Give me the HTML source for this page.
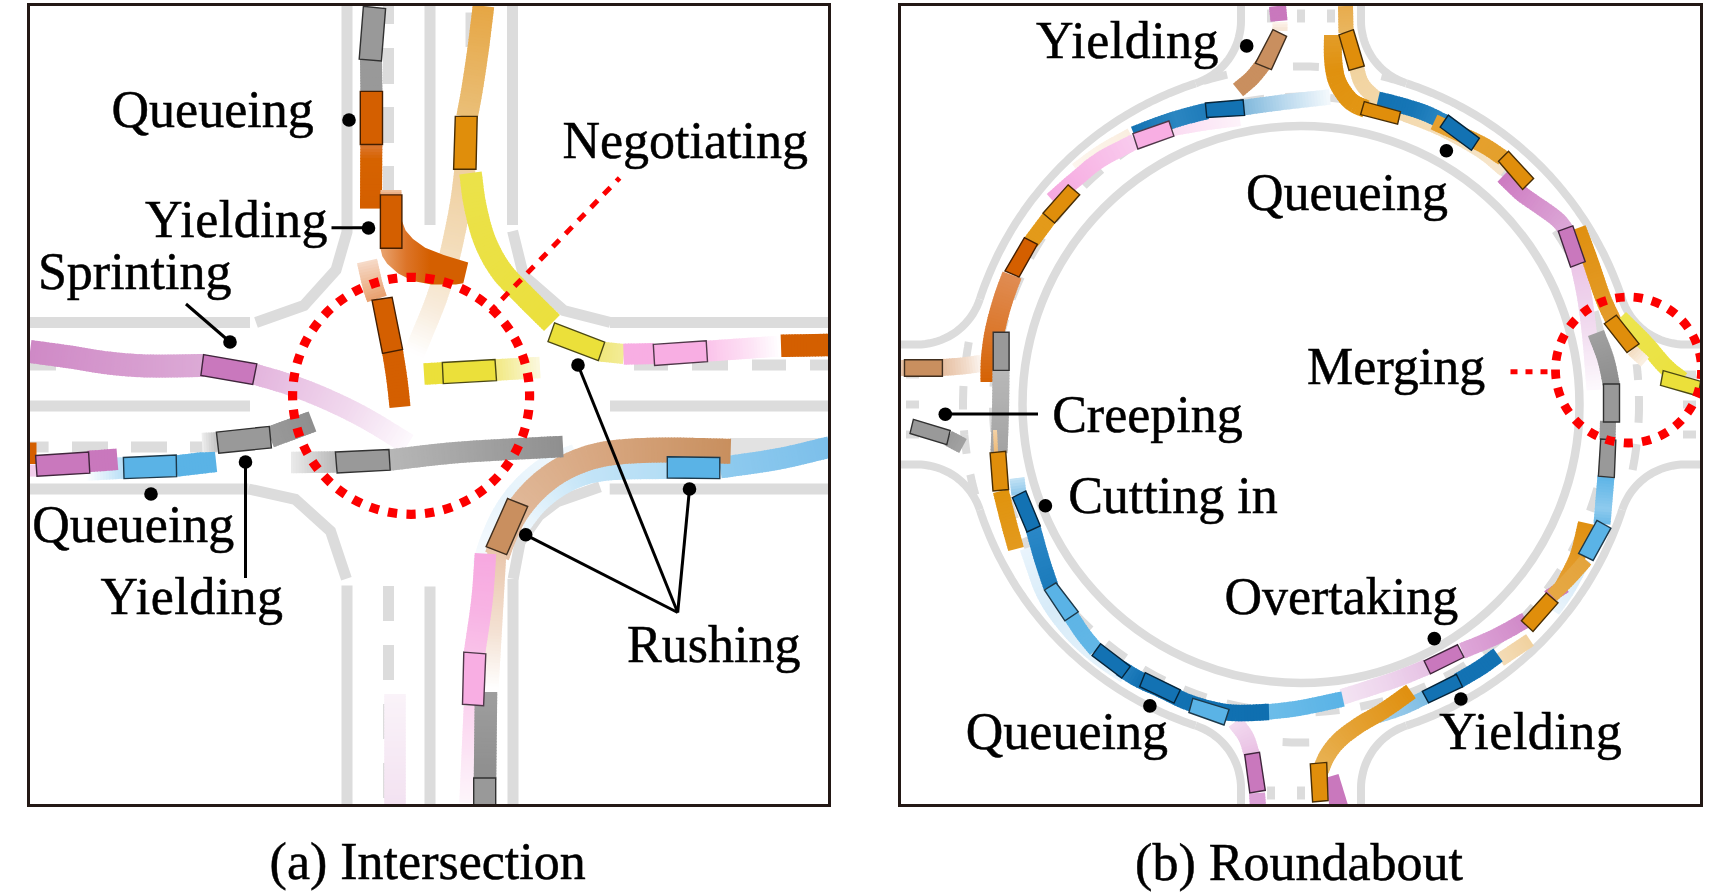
<!DOCTYPE html><html><head><meta charset="utf-8"><style>html,body{margin:0;padding:0;background:#fff;overflow:hidden;}svg{display:block;}text{font-family:"Liberation Serif", serif;font-size:52px;fill:#000;stroke:#000;stroke-width:0.5px;}</style></head><body>
<svg width="1732" height="896" viewBox="0 0 1732 896">
<rect width="1732" height="896" fill="#fff"/>
<defs><clipPath id="cl"><rect x="30" y="6" width="798" height="798"/></clipPath><clipPath id="cr"><rect x="901" y="6" width="799" height="798"/></clipPath></defs>
<g clip-path="url(#cl)"><g stroke="#dcdcdc" stroke-width="11" fill="none" stroke-linecap="butt" stroke-linejoin="miter"><path d="M347 6L347 226"/><path d="M347 229 L347 232 L336 270 L304 305.5 L256 322.5"/><path d="M388.5 6L388.5 24"/><path d="M388.5 48L388.5 84"/><path d="M388.5 107L388.5 143"/><path d="M388.5 166L388.5 202"/><path d="M430 6L430 225"/><path d="M471 12.5L471 47"/><path d="M471 71L471 106"/><path d="M471 130L471 165"/><path d="M471 189L471 224"/><path d="M512.5 6L512.5 225"/><path d="M512.6 231 L523.5 275.4 L563.7 310.5 L610.5 322.5"/><path d="M610 322.5L829 322.5"/><path d="M634 365L668 365"/><path d="M692 365L728 365"/><path d="M752 365L786 365"/><path d="M810 365L829 365"/><path d="M610 406L829 406"/><path d="M609.7 489L829 489"/><path d="M513.2 578.8 L520.1 542 L538.6 516 L557 501.8 L600 486.7"/><path d="M30 322.5L250 322.5"/><path d="M30 365L56 365"/><path d="M30 406L250 406"/><path d="M30 447L48.6 447"/><path d="M72 447L108 447"/><path d="M131 447L167 447"/><path d="M190 447L226 447"/><path d="M30 489L248.5 489"/><path d="M248.5 489 L295.3 499.3 L330.5 531.1 L346.4 578.8"/><path d="M347 585.5L347 805"/><path d="M388.5 586L388.5 621"/><path d="M388.5 645L388.5 680"/><path d="M388.5 704L388.5 739"/><path d="M388.5 763L388.5 798"/><path d="M430 586.5L430 805"/><path d="M513 578.8L513 805"/></g><g fill="none" stroke-width="21.5" stroke-linecap="butt"><path d="M395.0 694.0L395.0 697.2" stroke="#faf3f9"/><path d="M395.0 696.2L395.0 700.2" stroke="#faf2f9"/><path d="M395.0 699.2L395.0 703.2" stroke="#faf2f8"/><path d="M395.0 702.2L395.0 706.2" stroke="#f9f1f8"/><path d="M395.0 705.2L395.0 709.2" stroke="#f9f1f8"/><path d="M395.0 708.2L395.0 712.2" stroke="#f9f0f8"/><path d="M395.0 711.2L395.0 715.2" stroke="#f9f0f8"/><path d="M395.0 714.2L395.0 718.2" stroke="#f9f0f7"/><path d="M395.0 717.2L395.0 721.2" stroke="#f8eff7"/><path d="M395.0 720.2L395.0 724.2" stroke="#f8eff7"/><path d="M395.0 723.2L395.0 727.2" stroke="#f8eef7"/><path d="M395.0 726.2L395.0 730.2" stroke="#f8eef7"/><path d="M395.0 729.2L395.0 733.2" stroke="#f8edf6"/><path d="M395.0 732.2L395.0 736.2" stroke="#f7edf6"/><path d="M395.0 735.2L395.0 739.2" stroke="#f7ecf6"/><path d="M395.0 738.2L395.0 742.2" stroke="#f7ecf6"/><path d="M395.0 741.2L395.0 745.2" stroke="#f7ebf5"/><path d="M395.0 744.2L395.0 748.2" stroke="#f7ebf5"/><path d="M395.0 747.2L395.0 751.2" stroke="#f6eaf5"/><path d="M395.0 750.2L395.0 754.2" stroke="#f6eaf5"/><path d="M395.0 753.2L395.0 757.2" stroke="#f6eaf5"/><path d="M395.0 756.2L395.0 760.2" stroke="#f6e9f4"/><path d="M395.0 759.2L395.0 763.2" stroke="#f6e9f4"/><path d="M395.0 762.2L395.0 766.2" stroke="#f6e8f4"/><path d="M395.0 765.2L395.0 769.2" stroke="#f5e8f4"/><path d="M395.0 768.2L395.0 772.2" stroke="#f5e7f3"/><path d="M395.0 771.2L395.0 775.2" stroke="#f5e7f3"/><path d="M395.0 774.2L395.0 778.2" stroke="#f5e6f3"/><path d="M395.0 777.2L395.0 781.2" stroke="#f5e6f3"/><path d="M395.0 780.2L395.0 784.2" stroke="#f4e5f3"/><path d="M395.0 783.2L395.0 787.2" stroke="#f4e5f2"/><path d="M395.0 786.2L395.0 790.2" stroke="#f4e5f2"/><path d="M395.0 789.2L395.0 793.2" stroke="#f4e4f2"/><path d="M395.0 792.2L395.0 796.2" stroke="#f4e4f2"/><path d="M395.0 795.2L395.0 799.2" stroke="#f3e3f2"/><path d="M395.0 798.2L395.0 802.2" stroke="#f3e3f1"/><path d="M395.0 801.2L395.0 805.0" stroke="#f3e2f1"/></g>
<g fill="none" stroke-width="16" stroke-linecap="butt"><path d="M575.0 452.0L572.0 453.2" stroke="#f3f9fd"/><path d="M573.0 452.8L569.2 454.2" stroke="#f2f9fd"/><path d="M570.1 453.8L566.3 455.2" stroke="#f2f8fd"/><path d="M567.3 454.8L563.5 456.1" stroke="#f1f8fd"/><path d="M564.5 455.8L560.7 457.2" stroke="#f1f8fd"/><path d="M561.6 456.8L557.9 458.2" stroke="#f0f8fd"/><path d="M558.8 457.8L555.1 459.4" stroke="#f0f8fc"/><path d="M556.0 458.9L552.4 460.6" stroke="#eff7fc"/><path d="M553.3 460.2L549.7 462.0" stroke="#eff7fc"/><path d="M550.6 461.5L547.1 463.5" stroke="#eef7fc"/><path d="M548.0 463.0L544.6 465.1" stroke="#eef7fc"/><path d="M545.5 464.6L542.1 466.8" stroke="#edf6fc"/><path d="M543.0 466.2L539.7 468.6" stroke="#edf6fc"/><path d="M540.5 468.0L537.3 470.4" stroke="#ecf6fc"/><path d="M538.1 469.8L534.9 472.3" stroke="#ecf6fc"/><path d="M535.7 471.6L532.6 474.2" stroke="#ebf5fc"/><path d="M533.4 473.5L530.4 476.1" stroke="#ebf5fc"/><path d="M531.1 475.4L528.1 478.1" stroke="#eaf5fc"/><path d="M528.9 477.4L525.9 480.2" stroke="#eaf5fc"/><path d="M526.7 479.4L523.8 482.2" stroke="#e9f4fc"/><path d="M524.5 481.5L521.6 484.4" stroke="#e9f4fb"/><path d="M522.4 483.6L519.6 486.5" stroke="#e8f4fb"/><path d="M520.3 485.8L517.6 488.8" stroke="#e8f4fb"/><path d="M518.3 488.0L515.6 491.0" stroke="#e7f4fb"/><path d="M516.3 490.2L513.7 493.3" stroke="#e7f3fb"/><path d="M514.3 492.5L511.8 495.7" stroke="#e6f3fb"/><path d="M512.5 494.9L510.0 498.1" stroke="#e6f3fb"/><path d="M510.6 497.2L508.3 500.5" stroke="#e7f3fb"/><path d="M508.9 499.7L506.5 503.0" stroke="#e8f4fb"/><path d="M507.1 502.1L504.9 505.5" stroke="#e8f4fb"/><path d="M505.4 504.6L503.2 508.0" stroke="#e9f4fc"/><path d="M503.8 507.1L501.7 510.5" stroke="#eaf5fc"/><path d="M502.2 509.6L500.2 513.1" stroke="#eaf5fc"/><path d="M500.7 512.2L498.7 515.8" stroke="#ebf5fc"/><path d="M499.2 514.8L497.4 518.4" stroke="#ecf6fc"/><path d="M497.8 517.5L496.1 521.1" stroke="#edf6fc"/><path d="M496.5 520.2L494.8 523.8" stroke="#edf6fc"/><path d="M495.2 522.9L493.5 526.6" stroke="#eef7fc"/><path d="M494.0 525.6L492.4 529.3" stroke="#eff7fc"/><path d="M492.8 528.4L491.2 532.1" stroke="#eff7fd"/><path d="M491.6 531.1L490.0 534.9" stroke="#f0f7fd"/><path d="M490.4 533.9L488.9 537.6" stroke="#f1f8fd"/><path d="M489.3 536.7L487.8 540.4" stroke="#f1f8fd"/><path d="M488.2 539.5L486.8 543.2" stroke="#f2f8fd"/><path d="M487.1 542.3L485.8 546.1" stroke="#f3f9fd"/><path d="M486.1 545.1L484.9 548.9" stroke="#f4f9fd"/><path d="M485.2 547.9L484.0 551.8" stroke="#f4f9fd"/><path d="M484.3 550.8L483.2 554.7" stroke="#f5fafd"/><path d="M483.5 553.7L482.4 557.6" stroke="#f6fafe"/><path d="M482.7 556.6L481.6 560.5" stroke="#f6fafe"/><path d="M481.9 559.5L480.8 563.4" stroke="#f7fbfe"/><path d="M481.1 562.4L480.0 566.0" stroke="#f8fbfe"/></g>
<g fill="none" stroke-width="18" stroke-linecap="butt"><path d="M667.0 470.0L663.8 470.0" stroke="#b3ddf5"/><path d="M664.8 470.0L660.8 470.1" stroke="#b4ddf5"/><path d="M661.8 470.0L657.8 470.1" stroke="#b4def5"/><path d="M658.9 470.1L654.8 470.1" stroke="#b5def5"/><path d="M655.9 470.1L651.9 470.1" stroke="#b6def5"/><path d="M652.9 470.1L648.9 470.1" stroke="#b6def5"/><path d="M649.9 470.1L645.9 470.1" stroke="#b7dff5"/><path d="M646.9 470.1L642.9 470.1" stroke="#b7dff6"/><path d="M643.9 470.1L639.9 470.2" stroke="#b8dff6"/><path d="M641.0 470.2L636.9 470.2" stroke="#b9dff6"/><path d="M638.0 470.2L634.0 470.2" stroke="#b9e0f6"/><path d="M635.0 470.2L631.0 470.3" stroke="#bae0f6"/><path d="M632.0 470.3L628.0 470.4" stroke="#bae0f6"/><path d="M629.0 470.4L625.0 470.5" stroke="#bbe0f6"/><path d="M626.1 470.5L622.0 470.6" stroke="#bbe1f6"/><path d="M623.1 470.6L619.1 470.8" stroke="#bce1f6"/><path d="M620.1 470.7L616.1 470.9" stroke="#bde1f6"/><path d="M617.1 470.9L613.1 471.1" stroke="#bde1f6"/><path d="M614.1 471.0L610.1 471.3" stroke="#bee2f6"/><path d="M611.2 471.2L607.2 471.6" stroke="#bee2f6"/><path d="M608.2 471.5L604.2 471.9" stroke="#bfe2f6"/><path d="M605.2 471.8L601.2 472.3" stroke="#c0e2f7"/><path d="M602.3 472.1L598.3 472.8" stroke="#c0e3f7"/><path d="M599.3 472.6L595.4 473.3" stroke="#c1e3f7"/><path d="M596.4 473.1L592.5 473.9" stroke="#c1e3f7"/><path d="M593.5 473.7L589.6 474.6" stroke="#c2e3f7"/><path d="M590.6 474.4L586.7 475.4" stroke="#c2e4f7"/><path d="M587.7 475.1L583.8 476.3" stroke="#c3e4f7"/><path d="M584.8 476.0L581.0 477.2" stroke="#c5e5f7"/><path d="M582.0 476.9L578.2 478.3" stroke="#c6e5f7"/><path d="M579.2 477.9L575.4 479.4" stroke="#c8e6f8"/><path d="M576.4 479.0L572.7 480.6" stroke="#c9e7f8"/><path d="M573.6 480.1L570.0 481.8" stroke="#cbe7f8"/><path d="M570.9 481.4L567.3 483.2" stroke="#cce8f8"/><path d="M568.3 482.7L564.7 484.6" stroke="#cee9f9"/><path d="M565.6 484.1L562.1 486.1" stroke="#d0eaf9"/><path d="M563.0 485.5L559.6 487.6" stroke="#d1eaf9"/><path d="M560.5 487.1L557.1 489.2" stroke="#d3ebf9"/><path d="M557.9 488.7L554.6 490.9" stroke="#d4ecf9"/><path d="M555.4 490.3L552.2 492.6" stroke="#d6ecfa"/><path d="M553.0 492.0L549.8 494.4" stroke="#d7edfa"/><path d="M550.6 493.8L547.4 496.2" stroke="#d9eefa"/><path d="M548.2 495.6L545.2 498.2" stroke="#daeefa"/><path d="M545.9 497.5L542.9 500.1" stroke="#dceffa"/><path d="M543.7 499.4L540.7 502.2" stroke="#def0fb"/><path d="M541.5 501.5L538.6 504.3" stroke="#dff0fb"/><path d="M539.4 503.5L536.5 506.4" stroke="#e1f1fb"/><path d="M537.3 505.7L534.5 508.6" stroke="#e2f2fb"/><path d="M535.2 507.8L532.6 510.9" stroke="#e4f3fc"/><path d="M533.3 510.1L530.8 513.2" stroke="#e5f3fc"/><path d="M531.4 512.4L529.0 515.6" stroke="#e7f4fc"/><path d="M529.6 514.8L527.2 518.0" stroke="#e9f5fc"/><path d="M527.8 517.2L525.4 520.4" stroke="#eaf5fc"/><path d="M526.1 519.6L523.7 522.8" stroke="#ecf6fd"/><path d="M524.3 522.0L522.0 525.0" stroke="#edf7fd"/></g>
<path d="M730 446.5L830 446.5" stroke="#e2e2e2" stroke-width="17"/>
<g fill="none" stroke-width="21.5" stroke-linecap="butt"><path d="M720.0 467.7L723.2 467.2" stroke="#8fcbef"/><path d="M722.1 467.4L726.1 466.8" stroke="#8ecbef"/><path d="M725.0 467.0L729.0 466.4" stroke="#8ecaef"/><path d="M728.0 466.5L731.9 466.0" stroke="#8dcaef"/><path d="M730.9 466.1L734.8 465.6" stroke="#8dcaee"/><path d="M733.8 465.7L737.7 465.2" stroke="#8cc9ee"/><path d="M736.7 465.3L740.7 464.8" stroke="#8cc9ee"/><path d="M739.6 464.9L743.6 464.4" stroke="#8bc9ee"/><path d="M742.6 464.5L746.5 464.0" stroke="#8bc8ee"/><path d="M745.5 464.1L749.4 463.5" stroke="#8ac8ee"/><path d="M748.4 463.7L752.3 463.1" stroke="#8ac8ee"/><path d="M751.3 463.3L755.3 462.7" stroke="#89c7ed"/><path d="M754.2 462.9L758.2 462.3" stroke="#89c7ed"/><path d="M757.2 462.4L761.1 461.8" stroke="#88c7ed"/><path d="M760.1 462.0L764.0 461.4" stroke="#88c6ed"/><path d="M763.0 461.6L766.9 460.9" stroke="#87c6ed"/><path d="M765.9 461.1L769.8 460.4" stroke="#87c6ed"/><path d="M768.8 460.6L772.7 459.9" stroke="#86c5ed"/><path d="M771.7 460.1L775.6 459.4" stroke="#86c5ed"/><path d="M774.6 459.6L778.5 458.9" stroke="#85c5ec"/><path d="M777.5 459.1L781.4 458.3" stroke="#85c5ec"/><path d="M780.4 458.5L784.3 457.8" stroke="#84c4ec"/><path d="M783.3 458.0L787.2 457.1" stroke="#84c4ec"/><path d="M786.2 457.4L790.1 456.5" stroke="#83c4ec"/><path d="M789.1 456.7L793.0 455.9" stroke="#83c3ec"/><path d="M792.0 456.1L795.8 455.2" stroke="#82c3ec"/><path d="M794.8 455.5L798.7 454.6" stroke="#82c3ec"/><path d="M797.7 454.8L801.6 453.9" stroke="#81c2eb"/><path d="M800.6 454.1L804.4 453.2" stroke="#81c2eb"/><path d="M803.4 453.4L807.3 452.5" stroke="#80c2eb"/><path d="M806.3 452.7L810.2 451.8" stroke="#80c1eb"/><path d="M809.2 452.0L813.0 451.1" stroke="#7fc1eb"/><path d="M812.0 451.3L815.9 450.4" stroke="#7fc1eb"/><path d="M814.9 450.6L818.8 449.7" stroke="#7ec0eb"/><path d="M817.8 449.9L821.6 449.0" stroke="#7ec0ea"/><path d="M820.6 449.2L824.5 448.3" stroke="#7dc0ea"/><path d="M823.5 448.5L827.4 447.6" stroke="#7dbfea"/><path d="M826.4 447.9L830.0 447.0" stroke="#7cbfea"/></g>
<g fill="none" stroke-width="25" stroke-linecap="butt"><path d="M730.7 451.3L727.5 451.2" stroke="#c88f5e"/><path d="M728.5 451.3L724.5 451.2" stroke="#c9905f"/><path d="M725.5 451.2L721.5 451.1" stroke="#c99060"/><path d="M722.6 451.1L718.5 451.0" stroke="#c99161"/><path d="M719.6 451.0L715.6 450.9" stroke="#ca9161"/><path d="M716.6 451.0L712.6 450.8" stroke="#ca9262"/><path d="M713.6 450.9L709.6 450.8" stroke="#ca9263"/><path d="M710.6 450.8L706.6 450.7" stroke="#cb9364"/><path d="M707.7 450.7L703.7 450.6" stroke="#cb9465"/><path d="M704.7 450.6L700.7 450.5" stroke="#cb9465"/><path d="M701.7 450.6L697.7 450.4" stroke="#cc9566"/><path d="M698.7 450.5L694.7 450.4" stroke="#cc9567"/><path d="M695.8 450.4L691.7 450.3" stroke="#cc9668"/><path d="M692.8 450.3L688.8 450.2" stroke="#cd9668"/><path d="M689.8 450.3L685.8 450.2" stroke="#cd9769"/><path d="M686.8 450.2L682.8 450.1" stroke="#cd976a"/><path d="M683.8 450.1L679.8 450.1" stroke="#ce986b"/><path d="M680.9 450.1L676.8 450.0" stroke="#ce986c"/><path d="M677.9 450.0L673.9 450.0" stroke="#ce996c"/><path d="M674.9 450.0L670.9 450.0" stroke="#cf996d"/><path d="M671.9 450.0L667.9 450.0" stroke="#cf9a6e"/><path d="M668.9 450.0L664.9 450.0" stroke="#d09b6f"/><path d="M666.0 450.0L661.9 450.0" stroke="#d09b6f"/><path d="M663.0 450.0L659.0 450.1" stroke="#d09c70"/><path d="M660.0 450.1L656.0 450.1" stroke="#d19c71"/><path d="M657.0 450.1L653.0 450.2" stroke="#d19d72"/><path d="M654.0 450.1L650.0 450.2" stroke="#d19d72"/><path d="M651.1 450.2L647.1 450.3" stroke="#d29e73"/><path d="M648.1 450.3L644.1 450.4" stroke="#d29e74"/><path d="M645.1 450.4L641.1 450.5" stroke="#d29f75"/><path d="M642.1 450.5L638.1 450.7" stroke="#d39f76"/><path d="M639.2 450.6L635.1 450.8" stroke="#d3a076"/><path d="M636.2 450.8L632.2 451.0" stroke="#d3a077"/><path d="M633.2 450.9L629.2 451.2" stroke="#d4a178"/><path d="M630.2 451.1L626.2 451.4" stroke="#d4a279"/><path d="M627.3 451.3L623.3 451.6" stroke="#d4a279"/><path d="M624.3 451.6L620.3 451.9" stroke="#d5a37a"/><path d="M621.3 451.8L617.3 452.2" stroke="#d5a37b"/><path d="M618.4 452.1L614.4 452.5" stroke="#d6a47c"/><path d="M615.4 452.4L611.4 452.9" stroke="#d6a47c"/><path d="M612.4 452.7L608.5 453.3" stroke="#d6a57d"/><path d="M609.5 453.1L605.5 453.8" stroke="#d7a57e"/><path d="M606.5 453.6L602.6 454.3" stroke="#d7a67f"/><path d="M603.6 454.1L599.7 454.9" stroke="#d7a680"/><path d="M600.7 454.7L596.8 455.6" stroke="#d7a780"/><path d="M597.8 455.3L593.9 456.3" stroke="#d8a781"/><path d="M594.9 456.0L591.0 457.1" stroke="#d8a882"/><path d="M592.0 456.8L588.1 457.9" stroke="#d8a882"/><path d="M589.1 457.6L585.3 458.9" stroke="#d9a983"/><path d="M586.3 458.5L582.5 459.9" stroke="#d9a984"/><path d="M583.5 459.5L579.7 460.9" stroke="#d9aa85"/><path d="M580.7 460.5L576.9 462.0" stroke="#d9aa85"/><path d="M577.9 461.6L574.2 463.1" stroke="#daab86"/><path d="M575.1 462.7L571.5 464.4" stroke="#daab87"/><path d="M572.4 463.9L568.8 465.6" stroke="#daac87"/><path d="M569.7 465.2L566.1 467.0" stroke="#daad88"/><path d="M567.0 466.5L563.5 468.4" stroke="#dbad89"/><path d="M564.4 467.8L560.9 469.8" stroke="#dbae8a"/><path d="M561.8 469.3L558.3 471.4" stroke="#dbae8a"/><path d="M559.2 470.8L555.8 473.0" stroke="#dcaf8b"/><path d="M556.7 472.4L553.3 474.6" stroke="#dcaf8c"/><path d="M554.2 474.0L550.9 476.3" stroke="#dcb08d"/><path d="M551.7 475.7L548.5 478.1" stroke="#dcb08d"/><path d="M549.3 477.5L546.1 479.9" stroke="#ddb18e"/><path d="M546.9 479.3L543.8 481.8" stroke="#ddb18f"/><path d="M544.6 481.1L541.5 483.7" stroke="#ddb28f"/><path d="M542.3 483.0L539.3 485.6" stroke="#ddb290"/><path d="M540.0 484.9L537.1 487.6" stroke="#deb391"/><path d="M537.8 486.9L534.9 489.7" stroke="#deb392"/><path d="M535.7 489.0L532.8 491.8" stroke="#deb492"/><path d="M533.5 491.1L530.8 494.0" stroke="#dfb493"/><path d="M531.5 493.2L528.7 496.2" stroke="#dfb594"/><path d="M529.4 495.4L526.8 498.4" stroke="#dfb594"/><path d="M527.5 497.6L524.9 500.7" stroke="#dfb695"/><path d="M525.5 499.9L523.0 503.0" stroke="#e0b696"/><path d="M523.6 502.2L521.2 505.4" stroke="#e0b797"/><path d="M521.8 504.5L519.4 507.8" stroke="#e0b797"/><path d="M520.0 506.9L517.7 510.2" stroke="#e0b898"/><path d="M518.3 509.3L516.1 512.7" stroke="#e1b999"/><path d="M516.6 511.8L514.5 515.2" stroke="#e1b99a"/><path d="M515.0 514.3L513.0 517.8" stroke="#e1ba9b"/><path d="M513.5 516.9L511.5 520.4" stroke="#e2ba9c"/><path d="M512.0 519.5L510.2 523.1" stroke="#e2bb9d"/><path d="M510.6 522.1L508.9 525.7" stroke="#e2bc9e"/><path d="M509.3 524.8L507.7 528.5" stroke="#e3bc9f"/><path d="M508.1 527.5L506.5 531.2" stroke="#e3bda0"/><path d="M506.9 530.2L505.3 533.9" stroke="#e3bea0"/><path d="M505.7 533.0L504.1 536.7" stroke="#e4bea1"/><path d="M504.5 535.7L503.0 539.4" stroke="#e4bfa2"/><path d="M503.4 538.4L501.9 542.2" stroke="#e4c0a3"/><path d="M502.3 541.2L500.9 545.0" stroke="#e5c0a4"/><path d="M501.2 544.0L499.9 547.8" stroke="#e5c1a5"/><path d="M500.2 546.8L498.9 550.6" stroke="#e5c1a6"/><path d="M499.3 549.6L497.9 553.4" stroke="#e6c2a7"/><path d="M498.3 552.4L497.0 556.0" stroke="#e6c3a8"/></g>
<g fill="none" stroke-width="19" stroke-linecap="butt"><path d="M497.0 550.0L496.8 553.2" stroke="#e9c6ac"/><path d="M496.9 552.2L496.6 556.2" stroke="#eac7ad"/><path d="M496.7 555.2L496.5 559.2" stroke="#eac8af"/><path d="M496.5 558.1L496.3 562.2" stroke="#eac9b0"/><path d="M496.4 561.1L496.1 565.1" stroke="#ebcab2"/><path d="M496.2 564.1L496.0 568.1" stroke="#ebcbb3"/><path d="M496.0 567.1L495.8 571.1" stroke="#ecccb4"/><path d="M495.9 570.1L495.6 574.1" stroke="#eccdb6"/><path d="M495.7 573.0L495.5 577.0" stroke="#ecceb7"/><path d="M495.5 576.0L495.3 580.0" stroke="#edcfb9"/><path d="M495.3 579.0L495.1 583.0" stroke="#edd0ba"/><path d="M495.2 582.0L494.9 586.0" stroke="#edd1bc"/><path d="M495.0 584.9L494.8 589.0" stroke="#eed2bd"/><path d="M494.8 587.9L494.6 591.9" stroke="#eed3bf"/><path d="M494.7 590.9L494.4 594.9" stroke="#efd4c0"/><path d="M494.5 593.9L494.3 597.9" stroke="#efd5c2"/><path d="M494.3 596.9L494.1 600.9" stroke="#efd6c3"/><path d="M494.2 599.8L493.9 603.9" stroke="#f0d7c4"/><path d="M494.0 602.8L493.8 606.8" stroke="#f0d8c6"/><path d="M493.8 605.8L493.6 609.8" stroke="#f1d9c7"/><path d="M493.6 608.8L493.4 612.8" stroke="#f1dac9"/><path d="M493.5 611.8L493.2 615.8" stroke="#f1dbca"/><path d="M493.3 614.7L493.1 618.8" stroke="#f2dccc"/><path d="M493.1 617.7L492.9 621.7" stroke="#f2ddcd"/><path d="M493.0 620.7L492.7 624.7" stroke="#f3decf"/><path d="M492.8 623.7L492.6 627.7" stroke="#f3dfd0"/><path d="M492.6 626.6L492.4 630.7" stroke="#f3e0d2"/><path d="M492.4 629.6L492.2 633.6" stroke="#f4e1d3"/><path d="M492.3 632.6L492.1 636.6" stroke="#f4e2d5"/><path d="M492.1 635.6L491.9 639.6" stroke="#f5e4d7"/><path d="M491.9 638.6L491.7 642.6" stroke="#f5e6d9"/><path d="M491.8 641.5L491.5 645.6" stroke="#f6e7dc"/><path d="M491.6 644.5L491.4 648.5" stroke="#f7e9de"/><path d="M491.4 647.5L491.2 651.5" stroke="#f7eae0"/><path d="M491.3 650.5L491.0 654.5" stroke="#f8ece2"/><path d="M491.1 653.5L490.9 657.5" stroke="#f8ede5"/><path d="M490.9 656.4L490.7 660.5" stroke="#f9efe7"/><path d="M490.7 659.4L490.5 663.4" stroke="#f9f0e9"/><path d="M490.6 662.4L490.3 666.4" stroke="#faf2ec"/><path d="M490.4 665.4L490.2 669.4" stroke="#fbf3ee"/><path d="M490.2 668.4L490.0 672.4" stroke="#fbf5f0"/><path d="M490.1 671.3L489.8 675.3" stroke="#fcf7f2"/><path d="M489.9 674.3L489.7 678.3" stroke="#fcf8f5"/><path d="M489.7 677.3L489.5 681.3" stroke="#fdfaf7"/><path d="M489.6 680.3L489.3 684.3" stroke="#fefbf9"/><path d="M489.4 683.2L489.2 687.3" stroke="#fefdfc"/><path d="M489.2 686.2L489.0 690.0" stroke="#fffefe"/></g>
<g fill="none" stroke-width="21.5" stroke-linecap="butt"><path d="M485.5 553.6L485.3 556.8" stroke="#f7a8e0"/><path d="M485.3 555.7L485.1 559.7" stroke="#f7a9e0"/><path d="M485.1 558.7L484.9 562.6" stroke="#f7a9e0"/><path d="M484.9 561.6L484.7 565.6" stroke="#f7aae1"/><path d="M484.8 564.5L484.5 568.5" stroke="#f7abe1"/><path d="M484.6 567.5L484.3 571.5" stroke="#f7abe1"/><path d="M484.4 570.4L484.1 574.4" stroke="#f7ace1"/><path d="M484.2 573.4L483.9 577.3" stroke="#f7ace1"/><path d="M484.0 576.3L483.7 580.3" stroke="#f7ade2"/><path d="M483.8 579.2L483.5 583.2" stroke="#f7aee2"/><path d="M483.6 582.2L483.3 586.1" stroke="#f8aee2"/><path d="M483.4 585.1L483.1 589.1" stroke="#f8afe2"/><path d="M483.1 588.0L482.8 592.0" stroke="#f8afe2"/><path d="M482.9 591.0L482.5 594.9" stroke="#f8b0e3"/><path d="M482.6 593.9L482.2 597.9" stroke="#f8b1e3"/><path d="M482.3 596.8L481.9 600.8" stroke="#f8b1e3"/><path d="M482.0 599.8L481.6 603.7" stroke="#f8b2e3"/><path d="M481.7 602.7L481.2 606.6" stroke="#f8b2e3"/><path d="M481.3 605.6L480.8 609.6" stroke="#f8b3e4"/><path d="M481.0 608.5L480.4 612.5" stroke="#f8b3e4"/><path d="M480.6 611.4L480.0 615.4" stroke="#f8b4e4"/><path d="M480.2 614.4L479.6 618.3" stroke="#f8b5e4"/><path d="M479.8 617.3L479.2 621.2" stroke="#f8b6e5"/><path d="M479.4 620.2L478.8 624.1" stroke="#f8b7e5"/><path d="M478.9 623.1L478.4 627.0" stroke="#f8b8e6"/><path d="M478.5 626.0L477.9 629.9" stroke="#f8b9e6"/><path d="M478.1 628.9L477.5 632.9" stroke="#f8bae6"/><path d="M477.6 631.8L477.0 635.8" stroke="#f9bbe7"/><path d="M477.2 634.7L476.6 638.7" stroke="#f9bce7"/><path d="M476.8 637.7L476.2 641.6" stroke="#f9bde7"/><path d="M476.3 640.6L475.7 644.5" stroke="#f9bee8"/><path d="M475.9 643.5L475.3 647.4" stroke="#f9bfe8"/><path d="M475.5 646.4L474.9 650.3" stroke="#f9c0e8"/><path d="M475.0 649.3L474.5 653.0" stroke="#f9c1e9"/></g>
<g fill="none" stroke-width="17.5" stroke-linecap="butt"><path d="M472.5 706.0L472.4 709.2" stroke="#fbd4ef"/><path d="M472.4 708.1L472.2 712.1" stroke="#fbd5f0"/><path d="M472.3 711.1L472.1 715.1" stroke="#fbd6f0"/><path d="M472.1 714.0L471.9 718.0" stroke="#fbd7f0"/><path d="M472.0 717.0L471.8 720.9" stroke="#fbd8f1"/><path d="M471.9 719.9L471.7 723.9" stroke="#fbd9f1"/><path d="M471.7 722.8L471.5 726.8" stroke="#fbdaf1"/><path d="M471.6 725.8L471.4 729.8" stroke="#fbdbf2"/><path d="M471.4 728.7L471.3 732.7" stroke="#fcdcf2"/><path d="M471.3 731.7L471.1 735.6" stroke="#fcddf2"/><path d="M471.2 734.6L471.0 738.6" stroke="#fcdef3"/><path d="M471.0 737.5L470.9 741.5" stroke="#fcdff3"/><path d="M470.9 740.5L470.7 744.5" stroke="#fce0f4"/><path d="M470.8 743.4L470.6 747.4" stroke="#fce1f4"/><path d="M470.6 746.4L470.4 750.3" stroke="#fce2f4"/><path d="M470.5 749.3L470.3 753.3" stroke="#fce3f5"/><path d="M470.4 752.2L470.2 756.2" stroke="#fce4f5"/><path d="M470.2 755.2L470.0 759.1" stroke="#fce6f5"/><path d="M470.1 758.1L469.9 762.1" stroke="#fce7f6"/><path d="M470.0 761.0L469.8 765.0" stroke="#fce8f6"/><path d="M469.8 764.0L469.6 768.0" stroke="#fce9f6"/><path d="M469.7 766.9L469.5 770.9" stroke="#fceaf7"/><path d="M469.5 769.9L469.4 773.8" stroke="#fcebf7"/><path d="M469.4 772.8L469.2 776.8" stroke="#fcecf8"/><path d="M469.3 775.7L469.1 779.7" stroke="#fcedf8"/><path d="M469.1 778.7L468.9 782.7" stroke="#fdeef8"/><path d="M469.0 781.6L468.8 785.6" stroke="#fdeff9"/><path d="M468.9 784.6L468.7 788.5" stroke="#fdf0f9"/><path d="M468.7 787.5L468.5 791.5" stroke="#fdf1f9"/><path d="M468.6 790.4L468.4 794.4" stroke="#fdf2fa"/><path d="M468.4 793.4L468.3 797.4" stroke="#fdf3fa"/><path d="M468.3 796.3L468.1 800.3" stroke="#fdf4fa"/><path d="M468.2 799.3L468.0 803.0" stroke="#fdf5fb"/></g>
<g fill="none" stroke-width="22.5" stroke-linecap="butt"><path d="M486.0 692.0L486.0 695.2" stroke="#9e9e9e"/><path d="M486.0 694.1L485.9 698.1" stroke="#9d9d9d"/><path d="M485.9 697.1L485.9 701.0" stroke="#9d9d9d"/><path d="M485.9 700.0L485.9 704.0" stroke="#9c9c9c"/><path d="M485.9 702.9L485.8 706.9" stroke="#9c9c9c"/><path d="M485.8 705.9L485.8 709.8" stroke="#9b9b9b"/><path d="M485.8 708.8L485.8 712.8" stroke="#9b9b9b"/><path d="M485.8 711.7L485.7 715.7" stroke="#9a9a9a"/><path d="M485.7 714.7L485.7 718.6" stroke="#999999"/><path d="M485.7 717.6L485.7 721.6" stroke="#999999"/><path d="M485.7 720.5L485.6 724.5" stroke="#989898"/><path d="M485.6 723.5L485.6 727.4" stroke="#989898"/><path d="M485.6 726.4L485.6 730.4" stroke="#979797"/><path d="M485.6 729.3L485.5 733.3" stroke="#979797"/><path d="M485.5 732.3L485.5 736.2" stroke="#969696"/><path d="M485.5 735.2L485.5 739.2" stroke="#969696"/><path d="M485.5 738.1L485.4 742.1" stroke="#959595"/><path d="M485.4 741.1L485.4 745.0" stroke="#959595"/><path d="M485.4 744.0L485.4 748.0" stroke="#949494"/><path d="M485.4 746.9L485.3 750.9" stroke="#949494"/><path d="M485.3 749.9L485.3 753.8" stroke="#939393"/><path d="M485.3 752.8L485.3 756.8" stroke="#939393"/><path d="M485.3 755.7L485.2 759.7" stroke="#929292"/><path d="M485.2 758.7L485.2 762.6" stroke="#919191"/><path d="M485.2 761.6L485.2 765.6" stroke="#919191"/><path d="M485.2 764.5L485.1 768.5" stroke="#909090"/><path d="M485.1 767.5L485.1 771.4" stroke="#909090"/><path d="M485.1 770.4L485.1 774.4" stroke="#8f8f8f"/><path d="M485.1 773.3L485.0 777.3" stroke="#8f8f8f"/><path d="M485.0 776.3L485.0 780.0" stroke="#8e8e8e"/></g>
<g fill="none" stroke-width="23" stroke-linecap="butt"><path d="M30.0 351.5L33.2 351.9" stroke="#cf89c6"/><path d="M32.1 351.8L36.1 352.3" stroke="#cf8ac6"/><path d="M35.1 352.2L39.1 352.7" stroke="#d08ac7"/><path d="M38.0 352.6L42.0 353.1" stroke="#d08bc7"/><path d="M41.0 353.0L44.9 353.5" stroke="#d08cc7"/><path d="M43.9 353.4L47.9 353.9" stroke="#d08cc7"/><path d="M46.8 353.8L50.8 354.3" stroke="#d08dc8"/><path d="M49.8 354.2L53.8 354.7" stroke="#d18dc8"/><path d="M52.7 354.6L56.7 355.1" stroke="#d18ec8"/><path d="M55.7 355.0L59.6 355.5" stroke="#d18ec9"/><path d="M58.6 355.4L62.6 355.9" stroke="#d18fc9"/><path d="M61.5 355.8L65.5 356.3" stroke="#d28fc9"/><path d="M64.5 356.2L68.4 356.8" stroke="#d290c9"/><path d="M67.4 356.6L71.4 357.2" stroke="#d291ca"/><path d="M70.3 357.0L74.3 357.7" stroke="#d291ca"/><path d="M73.3 357.5L77.2 358.1" stroke="#d292ca"/><path d="M76.2 358.0L80.2 358.6" stroke="#d392ca"/><path d="M79.1 358.5L83.1 359.1" stroke="#d393cb"/><path d="M82.1 359.0L86.0 359.6" stroke="#d393cb"/><path d="M85.0 359.5L88.9 360.1" stroke="#d394cb"/><path d="M87.9 360.0L91.8 360.6" stroke="#d494cc"/><path d="M90.8 360.5L94.8 361.1" stroke="#d495cc"/><path d="M93.7 361.0L97.7 361.6" stroke="#d496cc"/><path d="M96.7 361.4L100.6 362.0" stroke="#d496cc"/><path d="M99.6 361.9L103.6 362.4" stroke="#d497cd"/><path d="M102.5 362.3L106.5 362.8" stroke="#d597cd"/><path d="M105.5 362.7L109.5 363.2" stroke="#d598cd"/><path d="M108.4 363.0L112.4 363.5" stroke="#d598cd"/><path d="M111.4 363.4L115.4 363.8" stroke="#d599ce"/><path d="M114.3 363.7L118.3 364.1" stroke="#d69ace"/><path d="M117.3 364.0L121.3 364.4" stroke="#d69ace"/><path d="M120.2 364.3L124.2 364.7" stroke="#d69bcf"/><path d="M123.2 364.6L127.2 364.9" stroke="#d69bcf"/><path d="M126.1 364.8L130.1 365.2" stroke="#d69ccf"/><path d="M129.1 365.1L133.1 365.3" stroke="#d79ccf"/><path d="M132.0 365.3L136.0 365.5" stroke="#d79dd0"/><path d="M135.0 365.5L139.0 365.7" stroke="#d79dd0"/><path d="M138.0 365.6L142.0 365.8" stroke="#d79ed0"/><path d="M140.9 365.8L144.9 365.9" stroke="#d79fd0"/><path d="M143.9 365.9L147.9 366.0" stroke="#d89fd1"/><path d="M146.9 366.0L150.9 366.1" stroke="#d8a0d1"/><path d="M149.8 366.0L153.8 366.1" stroke="#d8a0d1"/><path d="M152.8 366.1L156.8 366.1" stroke="#d8a1d2"/><path d="M155.8 366.1L159.8 366.1" stroke="#d9a1d2"/><path d="M158.7 366.1L162.7 366.1" stroke="#d9a2d2"/><path d="M161.7 366.1L165.7 366.1" stroke="#d9a2d2"/><path d="M164.6 366.1L168.7 366.1" stroke="#d9a3d3"/><path d="M167.6 366.1L171.6 366.0" stroke="#d9a4d3"/><path d="M170.6 366.0L174.6 366.0" stroke="#daa4d3"/><path d="M173.5 366.0L177.6 365.9" stroke="#daa5d3"/><path d="M176.5 365.9L180.5 365.9" stroke="#daa5d4"/><path d="M179.5 365.9L183.5 365.8" stroke="#daa6d4"/><path d="M182.4 365.8L186.4 365.8" stroke="#dba6d4"/><path d="M185.4 365.8L189.4 365.7" stroke="#dba7d5"/><path d="M188.4 365.7L192.4 365.7" stroke="#dba7d5"/><path d="M191.3 365.7L195.3 365.6" stroke="#dba8d5"/><path d="M194.3 365.6L198.3 365.6" stroke="#dba9d5"/><path d="M197.3 365.6L201.3 365.5" stroke="#dca9d6"/><path d="M200.2 365.5L204.0 365.5" stroke="#dcaad6"/></g>
<g fill="none" stroke-width="21" stroke-linecap="butt"><path d="M254.0 374.0L257.1 374.9" stroke="#e3b5dd"/><path d="M256.1 374.6L260.0 375.7" stroke="#e4b6de"/><path d="M259.0 375.5L262.8 376.6" stroke="#e4b7de"/><path d="M261.8 376.3L265.7 377.4" stroke="#e4b8df"/><path d="M264.7 377.1L268.6 378.2" stroke="#e5b9df"/><path d="M267.6 377.9L271.4 379.0" stroke="#e5bae0"/><path d="M270.4 378.7L274.3 379.9" stroke="#e6bbe0"/><path d="M273.3 379.6L277.1 380.7" stroke="#e6bce1"/><path d="M276.1 380.4L280.0 381.6" stroke="#e6bde1"/><path d="M279.0 381.3L282.8 382.5" stroke="#e7bee2"/><path d="M281.8 382.1L285.7 383.4" stroke="#e7bfe2"/><path d="M284.7 383.1L288.5 384.3" stroke="#e8c0e3"/><path d="M287.5 384.0L291.3 385.3" stroke="#e8c2e3"/><path d="M290.3 385.0L294.1 386.3" stroke="#e9c3e4"/><path d="M293.2 385.9L296.9 387.3" stroke="#e9c4e4"/><path d="M296.0 386.9L299.7 388.3" stroke="#e9c5e5"/><path d="M298.8 388.0L302.5 389.4" stroke="#eac6e5"/><path d="M301.6 389.0L305.3 390.4" stroke="#eac7e6"/><path d="M304.4 390.0L308.1 391.5" stroke="#ebc8e6"/><path d="M307.1 391.1L310.9 392.6" stroke="#ebc9e7"/><path d="M309.9 392.2L313.6 393.7" stroke="#ebcae7"/><path d="M312.7 393.3L316.4 394.8" stroke="#eccbe8"/><path d="M315.4 394.4L319.2 396.0" stroke="#eccce8"/><path d="M318.2 395.6L321.9 397.1" stroke="#edcde9"/><path d="M320.9 396.7L324.6 398.3" stroke="#edcfe9"/><path d="M323.7 397.9L327.4 399.5" stroke="#edd0ea"/><path d="M326.4 399.1L330.1 400.8" stroke="#eed1ea"/><path d="M329.1 400.3L332.8 402.0" stroke="#eed2eb"/><path d="M331.9 401.6L335.5 403.2" stroke="#efd3eb"/><path d="M334.6 402.8L338.2 404.5" stroke="#efd4ec"/><path d="M337.3 404.0L340.9 405.8" stroke="#efd5ec"/><path d="M340.0 405.3L343.6 407.0" stroke="#f0d6ed"/><path d="M342.7 406.6L346.3 408.3" stroke="#f0d7ed"/><path d="M345.4 407.9L349.0 409.7" stroke="#f1d8ee"/><path d="M348.0 409.2L351.6 411.0" stroke="#f1d9ee"/><path d="M350.7 410.5L354.3 412.3" stroke="#f2dbef"/><path d="M353.4 411.9L356.9 413.7" stroke="#f2dcf0"/><path d="M356.0 413.2L359.6 415.1" stroke="#f3def0"/><path d="M358.7 414.6L362.2 416.5" stroke="#f3dff1"/><path d="M361.3 416.0L364.8 417.9" stroke="#f4e0f1"/><path d="M363.9 417.4L367.4 419.4" stroke="#f4e2f2"/><path d="M366.5 418.8L370.0 420.8" stroke="#f5e3f3"/><path d="M369.1 420.3L372.6 422.3" stroke="#f5e5f3"/><path d="M371.7 421.8L375.2 423.8" stroke="#f6e6f4"/><path d="M374.3 423.3L377.7 425.4" stroke="#f6e7f5"/><path d="M376.9 424.8L380.3 426.9" stroke="#f7e9f5"/><path d="M379.4 426.4L382.8 428.5" stroke="#f7eaf6"/><path d="M382.0 427.9L385.4 430.0" stroke="#f8ecf7"/><path d="M384.5 429.5L387.9 431.6" stroke="#f9edf7"/><path d="M387.0 431.0L390.4 433.2" stroke="#f9eef8"/><path d="M389.6 432.6L393.0 434.7" stroke="#faf0f9"/><path d="M392.1 434.2L395.5 436.3" stroke="#faf1f9"/><path d="M394.6 435.8L398.0 437.9" stroke="#fbf3fa"/><path d="M397.2 437.3L400.6 439.5" stroke="#fbf4fb"/><path d="M399.7 438.9L403.1 441.0" stroke="#fcf5fb"/><path d="M402.2 440.5L405.7 442.6" stroke="#fcf7fc"/><path d="M404.8 442.0L408.0 444.0" stroke="#fdf8fd"/></g>
<g fill="none" stroke-width="21.5" stroke-linecap="butt"><path d="M291.0 462.5L294.1 462.5" stroke="#eaeaea"/><path d="M293.0 462.5L296.9 462.4" stroke="#e7e7e7"/><path d="M295.8 462.4L299.7 462.4" stroke="#e4e4e4"/><path d="M298.6 462.4L302.5 462.4" stroke="#e1e1e1"/><path d="M301.5 462.4L305.3 462.3" stroke="#dedede"/><path d="M304.3 462.4L308.1 462.3" stroke="#dadada"/><path d="M307.1 462.3L310.9 462.3" stroke="#d7d7d7"/><path d="M309.9 462.3L313.7 462.2" stroke="#d4d4d4"/><path d="M312.7 462.3L316.6 462.2" stroke="#d1d1d1"/><path d="M315.5 462.2L319.4 462.2" stroke="#cecece"/><path d="M318.3 462.2L322.2 462.2" stroke="#cbcbcb"/><path d="M321.1 462.2L325.0 462.1" stroke="#c7c7c7"/><path d="M324.0 462.1L327.8 462.1" stroke="#c4c4c4"/><path d="M326.8 462.1L330.6 462.1" stroke="#c1c1c1"/><path d="M329.6 462.1L333.4 462.0" stroke="#bebebe"/><path d="M332.4 462.0L336.0 462.0" stroke="#bbbbbb"/></g>
<g fill="none" stroke-width="21.5" stroke-linecap="butt"><path d="M389.5 460.0L392.7 459.6" stroke="#b7b7b7"/><path d="M391.6 459.8L395.6 459.3" stroke="#b6b6b6"/><path d="M394.6 459.4L398.5 459.0" stroke="#b5b5b5"/><path d="M397.5 459.1L401.5 458.6" stroke="#b5b5b5"/><path d="M400.4 458.7L404.4 458.3" stroke="#b4b4b4"/><path d="M403.4 458.4L407.3 457.9" stroke="#b3b3b3"/><path d="M406.3 458.0L410.3 457.6" stroke="#b3b3b3"/><path d="M409.2 457.7L413.2 457.2" stroke="#b2b2b2"/><path d="M412.1 457.3L416.1 456.8" stroke="#b1b1b1"/><path d="M415.1 457.0L419.0 456.5" stroke="#b1b1b1"/><path d="M418.0 456.6L422.0 456.1" stroke="#b0b0b0"/><path d="M420.9 456.2L424.9 455.8" stroke="#afafaf"/><path d="M423.9 455.9L427.8 455.4" stroke="#afafaf"/><path d="M426.8 455.6L430.8 455.1" stroke="#aeaeae"/><path d="M429.7 455.2L433.7 454.8" stroke="#adadad"/><path d="M432.7 454.9L436.6 454.5" stroke="#acacac"/><path d="M435.6 454.6L439.6 454.1" stroke="#acacac"/><path d="M438.5 454.3L442.5 453.9" stroke="#ababab"/><path d="M441.5 454.0L445.4 453.6" stroke="#aaaaaa"/><path d="M444.4 453.7L448.4 453.3" stroke="#aaaaaa"/><path d="M447.3 453.4L451.3 453.0" stroke="#a9a9a9"/><path d="M450.3 453.1L454.2 452.8" stroke="#a8a8a8"/><path d="M453.2 452.9L457.2 452.5" stroke="#a8a8a8"/><path d="M456.2 452.6L460.1 452.3" stroke="#a7a7a7"/><path d="M459.1 452.4L463.1 452.1" stroke="#a6a6a6"/><path d="M462.0 452.1L466.0 451.9" stroke="#a6a6a6"/><path d="M465.0 451.9L469.0 451.6" stroke="#a5a5a5"/><path d="M467.9 451.7L471.9 451.4" stroke="#a4a4a4"/><path d="M470.9 451.5L474.8 451.3" stroke="#a4a4a4"/><path d="M473.8 451.3L477.8 451.1" stroke="#a3a3a3"/><path d="M476.8 451.1L480.7 450.9" stroke="#a2a2a2"/><path d="M479.7 450.9L483.7 450.7" stroke="#a2a2a2"/><path d="M482.6 450.8L486.6 450.5" stroke="#a1a1a1"/><path d="M485.6 450.6L489.6 450.4" stroke="#a0a0a0"/><path d="M488.5 450.4L492.5 450.2" stroke="#a0a0a0"/><path d="M491.5 450.3L495.5 450.0" stroke="#9f9f9f"/><path d="M494.4 450.1L498.4 449.9" stroke="#9e9e9e"/><path d="M497.4 449.9L501.4 449.7" stroke="#9e9e9e"/><path d="M500.3 449.8L504.3 449.6" stroke="#9d9d9d"/><path d="M503.3 449.6L507.3 449.4" stroke="#9c9c9c"/><path d="M506.2 449.5L510.2 449.2" stroke="#9c9c9c"/><path d="M509.2 449.3L513.1 449.1" stroke="#9b9b9b"/><path d="M512.1 449.1L516.1 448.9" stroke="#9a9a9a"/><path d="M515.1 449.0L519.0 448.8" stroke="#9a9a9a"/><path d="M518.0 448.8L522.0 448.6" stroke="#999999"/><path d="M520.9 448.7L524.9 448.5" stroke="#989898"/><path d="M523.9 448.5L527.9 448.3" stroke="#979797"/><path d="M526.8 448.4L530.8 448.2" stroke="#979797"/><path d="M529.8 448.2L533.8 448.0" stroke="#969696"/><path d="M532.7 448.1L536.7 447.9" stroke="#959595"/><path d="M535.7 447.9L539.7 447.7" stroke="#959595"/><path d="M538.6 447.8L542.6 447.6" stroke="#949494"/><path d="M541.6 447.6L545.6 447.4" stroke="#939393"/><path d="M544.5 447.5L548.5 447.3" stroke="#939393"/><path d="M547.5 447.3L551.5 447.1" stroke="#929292"/><path d="M550.4 447.2L554.4 447.0" stroke="#919191"/><path d="M553.4 447.0L557.3 446.8" stroke="#919191"/><path d="M556.3 446.9L560.3 446.6" stroke="#909090"/><path d="M559.3 446.7L563.0 446.5" stroke="#8f8f8f"/></g>
<path d="M33 442.5L33 464" stroke="#d45f00" stroke-width="7"/>
<path d="M33 464.6L33 476.6" stroke="#f1cdea" stroke-width="7"/>
<g fill="none" stroke-width="21.5" stroke-linecap="butt"><path d="M86.0 470.0L89.2 469.8" stroke="#fcfeff"/><path d="M88.1 469.9L92.1 469.7" stroke="#f7fbfe"/><path d="M91.0 469.7L95.0 469.5" stroke="#f2f9fd"/><path d="M94.0 469.6L97.9 469.4" stroke="#ecf6fd"/><path d="M96.9 469.4L100.9 469.2" stroke="#e7f4fc"/><path d="M99.8 469.3L103.8 469.1" stroke="#e1f1fb"/><path d="M102.7 469.1L106.7 468.9" stroke="#dceffa"/><path d="M105.7 469.0L109.6 468.8" stroke="#d7edfa"/><path d="M108.6 468.8L112.5 468.6" stroke="#d1eaf9"/><path d="M111.5 468.7L115.5 468.4" stroke="#cce8f8"/><path d="M114.4 468.5L118.4 468.3" stroke="#c6e5f8"/><path d="M117.4 468.3L121.3 468.1" stroke="#c1e3f7"/><path d="M120.3 468.2L124.0 468.0" stroke="#bce0f6"/></g>
<g fill="none" stroke-width="21.5" stroke-linecap="butt"><path d="M88.0 461.5L91.2 461.3" stroke="#c978bd"/><path d="M90.1 461.3L94.1 461.0" stroke="#c978bd"/><path d="M93.1 461.1L97.1 460.8" stroke="#c978bd"/><path d="M96.0 460.9L100.0 460.6" stroke="#c978bd"/><path d="M99.0 460.7L102.9 460.4" stroke="#c978bd"/><path d="M101.9 460.5L105.9 460.2" stroke="#c978bd"/><path d="M104.8 460.2L108.8 459.9" stroke="#c978bd"/><path d="M107.8 460.0L111.8 459.7" stroke="#c978bd"/><path d="M110.7 459.8L114.7 459.5" stroke="#c978bd"/><path d="M113.7 459.6L117.4 459.3" stroke="#c978bd"/></g>
<g fill="none" stroke-width="21.5" stroke-linecap="butt"><path d="M176.0 466.0L179.1 465.6" stroke="#5ab3e6"/><path d="M178.1 465.8L182.0 465.3" stroke="#5ab3e6"/><path d="M180.9 465.4L184.8 465.0" stroke="#5ab3e6"/><path d="M183.8 465.1L187.7 464.6" stroke="#5ab3e6"/><path d="M186.6 464.8L190.5 464.3" stroke="#5ab3e6"/><path d="M189.5 464.4L193.4 464.0" stroke="#5ab3e6"/><path d="M192.3 464.1L196.2 463.6" stroke="#5ab3e6"/><path d="M195.2 463.7L199.1 463.3" stroke="#5ab3e6"/><path d="M198.1 463.4L202.0 463.0" stroke="#5ab3e6"/><path d="M200.9 463.1L204.8 462.6" stroke="#5ab3e6"/><path d="M203.8 462.7L207.7 462.3" stroke="#5ab3e6"/><path d="M206.6 462.4L210.5 461.9" stroke="#5ab3e6"/><path d="M209.5 462.1L213.4 461.6" stroke="#5ab3e6"/><path d="M212.3 461.7L216.0 461.3" stroke="#5ab3e6"/></g>
<g fill="none" stroke-width="19.5" stroke-linecap="butt"><path d="M202.0 442.5L204.7 442.4" stroke="#eeeeee"/><path d="M203.7 442.4L207.2 442.3" stroke="#e6e6e6"/><path d="M206.2 442.4L209.7 442.2" stroke="#dfdfdf"/><path d="M208.7 442.3L212.2 442.2" stroke="#d7d7d7"/><path d="M211.2 442.2L214.7 442.1" stroke="#d0d0d0"/><path d="M213.7 442.1L217.0 442.0" stroke="#c8c8c8"/></g>
<g fill="none" stroke-width="21.5" stroke-linecap="butt"><path d="M270.0 437.2L272.9 436.1" stroke="#9a9a9a"/><path d="M271.9 436.5L275.5 435.2" stroke="#999999"/><path d="M274.6 435.5L278.2 434.2" stroke="#989898"/><path d="M277.2 434.5L280.8 433.2" stroke="#989898"/><path d="M279.9 433.5L283.5 432.2" stroke="#979797"/><path d="M282.5 432.6L286.2 431.2" stroke="#969696"/><path d="M285.2 431.6L288.8 430.2" stroke="#969696"/><path d="M287.8 430.6L291.5 429.3" stroke="#959595"/><path d="M290.5 429.6L294.1 428.3" stroke="#949494"/><path d="M293.2 428.6L296.8 427.3" stroke="#939393"/><path d="M295.8 427.7L299.4 426.3" stroke="#939393"/><path d="M298.5 426.7L302.1 425.3" stroke="#929292"/><path d="M301.1 425.7L304.8 424.4" stroke="#919191"/><path d="M303.8 424.7L307.4 423.4" stroke="#919191"/><path d="M306.4 423.7L310.1 422.4" stroke="#909090"/><path d="M309.1 422.8L312.5 421.5" stroke="#8f8f8f"/></g>
<g fill="none" stroke-width="22" stroke-linecap="butt"><path d="M371.0 59.0L371.0 62.0" stroke="#999999"/><path d="M371.0 61.0L371.1 64.7" stroke="#999999"/><path d="M371.1 63.7L371.1 67.5" stroke="#999999"/><path d="M371.1 66.5L371.1 70.2" stroke="#999999"/><path d="M371.1 69.2L371.2 73.0" stroke="#999999"/><path d="M371.2 72.0L371.2 75.7" stroke="#999999"/><path d="M371.2 74.7L371.2 78.5" stroke="#999999"/><path d="M371.2 77.5L371.3 81.2" stroke="#999999"/><path d="M371.3 80.2L371.3 84.0" stroke="#999999"/><path d="M371.3 83.0L371.3 86.7" stroke="#999999"/><path d="M371.3 85.7L371.4 89.5" stroke="#999999"/><path d="M371.4 88.5L371.4 92.0" stroke="#999999"/></g>
<g fill="none" stroke-width="22" stroke-linecap="butt"><path d="M371.3 144.0L371.3 147.2" stroke="#dc7833"/><path d="M371.3 146.1L371.3 150.1" stroke="#db7429"/><path d="M371.3 149.1L371.3 153.0" stroke="#da701f"/><path d="M371.3 152.0L371.2 156.0" stroke="#d96b14"/><path d="M371.2 154.9L371.2 158.9" stroke="#d7670a"/><path d="M371.2 157.9L371.2 161.9" stroke="#d66300"/><path d="M371.2 160.8L371.2 164.8" stroke="#d66300"/><path d="M371.2 163.8L371.2 167.7" stroke="#d66300"/><path d="M371.2 166.7L371.2 170.7" stroke="#d66200"/><path d="M371.2 169.6L371.2 173.6" stroke="#d66200"/><path d="M371.2 172.6L371.1 176.5" stroke="#d56200"/><path d="M371.2 175.5L371.1 179.5" stroke="#d56200"/><path d="M371.1 178.4L371.1 182.4" stroke="#d56100"/><path d="M371.1 181.4L371.1 185.3" stroke="#d56100"/><path d="M371.1 184.3L371.1 188.3" stroke="#d56100"/><path d="M371.1 187.2L371.1 191.2" stroke="#d56100"/><path d="M371.1 190.2L371.1 194.2" stroke="#d56000"/><path d="M371.1 193.1L371.1 197.1" stroke="#d56000"/><path d="M371.1 196.1L371.0 200.0" stroke="#d46000"/><path d="M371.0 199.0L371.0 203.0" stroke="#d46000"/><path d="M371.0 201.9L371.0 205.9" stroke="#d45f00"/><path d="M371.0 204.9L371.0 208.6" stroke="#d45f00"/></g>
<g fill="none" stroke-width="21.5" stroke-linecap="butt"><path d="M483.5 6.0L483.1 9.2" stroke="#e6a645"/><path d="M483.2 8.1L482.7 12.1" stroke="#e6a746"/><path d="M482.9 11.1L482.4 15.0" stroke="#e6a847"/><path d="M482.5 14.0L482.0 18.0" stroke="#e6a849"/><path d="M482.2 16.9L481.7 20.9" stroke="#e6a94a"/><path d="M481.8 19.9L481.3 23.8" stroke="#e7aa4c"/><path d="M481.4 22.8L481.0 26.8" stroke="#e7aa4d"/><path d="M481.1 25.7L480.6 29.7" stroke="#e7ab4e"/><path d="M480.7 28.7L480.2 32.6" stroke="#e7ac50"/><path d="M480.4 31.6L479.9 35.6" stroke="#e7ac51"/><path d="M480.0 34.5L479.5 38.5" stroke="#e7ad52"/><path d="M479.6 37.5L479.1 41.4" stroke="#e7ae54"/><path d="M479.3 40.4L478.8 44.3" stroke="#e7ae55"/><path d="M478.9 43.3L478.4 47.3" stroke="#e7af56"/><path d="M478.5 46.2L478.0 50.2" stroke="#e8b058"/><path d="M478.1 49.2L477.6 53.1" stroke="#e8b059"/><path d="M477.7 52.1L477.2 56.1" stroke="#e8b15b"/><path d="M477.3 55.0L476.7 59.0" stroke="#e8b25c"/><path d="M476.9 58.0L476.3 61.9" stroke="#e8b25d"/><path d="M476.5 60.9L475.9 64.8" stroke="#e8b35f"/><path d="M476.0 63.8L475.5 67.8" stroke="#e8b360"/><path d="M475.6 66.7L475.0 70.7" stroke="#e8b461"/><path d="M475.2 69.6L474.6 73.6" stroke="#e8b563"/><path d="M474.7 72.6L474.1 76.5" stroke="#e8b564"/><path d="M474.3 75.5L473.7 79.4" stroke="#e9b666"/><path d="M473.8 78.4L473.2 82.4" stroke="#e9b767"/><path d="M473.4 81.3L472.8 85.3" stroke="#e9b768"/><path d="M472.9 84.2L472.3 88.2" stroke="#e9b86a"/><path d="M472.5 87.2L471.8 91.1" stroke="#e9b96b"/><path d="M472.0 90.1L471.3 94.0" stroke="#e9b96c"/><path d="M471.5 93.0L470.8 96.9" stroke="#e9ba6e"/><path d="M471.0 95.9L470.3 99.8" stroke="#e9bb6f"/><path d="M470.5 98.8L469.7 102.7" stroke="#e9bb70"/><path d="M469.9 101.7L469.2 105.6" stroke="#eabc72"/><path d="M469.4 104.6L468.6 108.5" stroke="#eabd73"/><path d="M468.8 107.5L468.1 111.4" stroke="#eabd75"/><path d="M468.3 110.4L467.5 114.3" stroke="#eabe76"/><path d="M467.7 113.3L467.0 117.0" stroke="#eabf77"/></g>
<g fill="none" stroke-width="21" stroke-linecap="butt"><path d="M465.0 169.0L464.6 172.2" stroke="#efcfa0"/><path d="M464.7 171.1L464.2 175.1" stroke="#efd0a0"/><path d="M464.4 174.1L463.9 178.1" stroke="#efd0a2"/><path d="M464.0 177.0L463.5 181.0" stroke="#f0d1a2"/><path d="M463.7 180.0L463.2 184.0" stroke="#f0d1a4"/><path d="M463.3 182.9L462.8 186.9" stroke="#f0d2a4"/><path d="M463.0 185.9L462.4 189.8" stroke="#f0d2a6"/><path d="M462.6 188.8L462.1 192.8" stroke="#f0d3a6"/><path d="M462.2 191.8L461.6 195.7" stroke="#f0d3a8"/><path d="M461.8 194.7L461.2 198.7" stroke="#f0d4a8"/><path d="M461.4 197.6L460.7 201.6" stroke="#f1d4aa"/><path d="M460.9 200.6L460.3 204.5" stroke="#f1d5aa"/><path d="M460.4 203.5L459.8 207.4" stroke="#f1d5ac"/><path d="M459.9 206.4L459.2 210.4" stroke="#f1d6ac"/><path d="M459.4 209.3L458.7 213.3" stroke="#f1d6ae"/><path d="M458.9 212.3L458.2 216.2" stroke="#f1d7ae"/><path d="M458.4 215.2L457.6 219.1" stroke="#f2d7b0"/><path d="M457.8 218.1L457.0 222.0" stroke="#f2d8b0"/><path d="M457.2 221.0L456.5 224.9" stroke="#f2d8b2"/><path d="M456.7 223.9L455.9 227.8" stroke="#f2d9b2"/><path d="M456.1 226.8L455.3 230.7" stroke="#f2d9b4"/><path d="M455.5 229.7L454.7 233.6" stroke="#f2dab4"/><path d="M454.9 232.6L454.0 236.5" stroke="#f2dab6"/><path d="M454.3 235.5L453.4 239.4" stroke="#f3dbb6"/><path d="M453.7 238.4L452.8 242.3" stroke="#f3dbb8"/><path d="M453.0 241.3L452.2 245.2" stroke="#f3dcb8"/><path d="M452.4 244.2L451.5 248.1" stroke="#f3dcba"/><path d="M451.8 247.1L450.9 251.0" stroke="#f3ddbb"/><path d="M451.1 250.0L450.1 253.9" stroke="#f4debd"/><path d="M450.4 252.9L449.4 256.8" stroke="#f4debe"/><path d="M449.7 255.8L448.6 259.6" stroke="#f4dfc0"/><path d="M448.9 258.6L447.9 262.5" stroke="#f4e0c1"/><path d="M448.1 261.5L447.0 265.4" stroke="#f4e1c3"/><path d="M447.3 264.4L446.2 268.2" stroke="#f5e1c5"/><path d="M446.5 267.2L445.4 271.1" stroke="#f5e2c6"/><path d="M445.7 270.1L444.5 273.9" stroke="#f5e3c8"/><path d="M444.8 272.9L443.6 276.7" stroke="#f5e3c9"/><path d="M444.0 275.7L442.8 279.6" stroke="#f6e4cb"/><path d="M443.1 278.6L441.9 282.4" stroke="#f6e5cc"/><path d="M442.2 281.4L441.0 285.2" stroke="#f6e5ce"/><path d="M441.3 284.2L440.1 288.0" stroke="#f6e6cf"/><path d="M440.4 287.0L439.1 290.9" stroke="#f6e7d1"/><path d="M439.5 289.9L438.2 293.7" stroke="#f7e8d2"/><path d="M438.5 292.7L437.2 296.5" stroke="#f7e8d4"/><path d="M437.6 295.5L436.3 299.3" stroke="#f7e9d5"/><path d="M436.6 298.3L435.3 302.1" stroke="#f7ead7"/><path d="M435.6 301.1L434.2 304.9" stroke="#f8ead9"/><path d="M434.6 303.9L433.2 307.6" stroke="#f8ebda"/><path d="M433.6 306.7L432.1 310.4" stroke="#f8ecdc"/><path d="M432.5 309.4L431.0 313.1" stroke="#f8edde"/><path d="M431.4 312.2L429.9 315.9" stroke="#f9eee0"/><path d="M430.3 314.9L428.7 318.6" stroke="#f9efe2"/><path d="M429.1 317.7L427.6 321.4" stroke="#faf0e4"/><path d="M428.0 320.4L426.4 324.1" stroke="#faf2e6"/><path d="M426.8 323.1L425.3 326.8" stroke="#faf3e8"/><path d="M425.7 325.9L424.2 329.6" stroke="#fbf4eb"/><path d="M424.6 328.6L423.0 332.3" stroke="#fbf5ed"/><path d="M423.4 331.4L421.9 335.1" stroke="#fcf6ef"/><path d="M422.3 334.1L420.8 337.8" stroke="#fcf7f1"/><path d="M421.2 336.8L419.6 340.5" stroke="#fdf9f3"/><path d="M420.0 339.6L418.5 343.3" stroke="#fdfaf5"/><path d="M418.9 342.3L417.3 346.0" stroke="#fdfbf7"/><path d="M417.7 345.1L416.2 348.7" stroke="#fefcfa"/><path d="M416.6 347.8L415.1 351.5" stroke="#fefdfc"/><path d="M415.5 350.5L414.0 354.0" stroke="#fffefe"/></g>
<g fill="none" stroke-width="22.5" stroke-linecap="butt"><path d="M470.5 173.0L470.9 176.2" stroke="#ebe24a"/><path d="M470.8 175.2L471.3 179.2" stroke="#ebe24a"/><path d="M471.2 178.1L471.7 182.2" stroke="#ebe249"/><path d="M471.5 181.1L472.0 185.1" stroke="#ebe249"/><path d="M471.9 184.1L472.4 188.1" stroke="#ebe249"/><path d="M472.2 187.1L472.7 191.1" stroke="#ebe249"/><path d="M472.6 190.0L473.1 194.0" stroke="#ebe249"/><path d="M473.0 193.0L473.6 197.0" stroke="#ebe248"/><path d="M473.4 196.0L474.0 200.0" stroke="#ebe248"/><path d="M473.9 198.9L474.6 202.9" stroke="#ebe248"/><path d="M474.4 201.9L475.2 205.8" stroke="#ebe248"/><path d="M475.0 204.8L475.8 208.8" stroke="#ebe248"/><path d="M475.6 207.7L476.4 211.7" stroke="#ebe247"/><path d="M476.2 210.7L477.1 214.6" stroke="#ebe247"/><path d="M476.9 213.6L477.8 217.5" stroke="#ebe247"/><path d="M477.5 216.5L478.5 220.4" stroke="#ebe147"/><path d="M478.2 219.4L479.2 223.3" stroke="#ebe147"/><path d="M478.9 222.3L480.0 226.2" stroke="#ebe146"/><path d="M479.7 225.2L480.8 229.1" stroke="#ebe146"/><path d="M480.5 228.1L481.7 232.0" stroke="#ebe146"/><path d="M481.4 231.0L482.6 234.8" stroke="#ebe146"/><path d="M482.3 233.8L483.6 237.6" stroke="#ebe146"/><path d="M483.2 236.7L484.7 240.4" stroke="#ebe145"/><path d="M484.3 239.5L485.8 243.2" stroke="#ebe145"/><path d="M485.4 242.3L487.0 246.0" stroke="#ebe145"/><path d="M486.6 245.0L488.2 248.7" stroke="#ebe145"/><path d="M487.8 247.8L489.5 251.4" stroke="#ebe145"/><path d="M489.0 250.5L490.9 254.1" stroke="#ebe144"/><path d="M490.4 253.1L492.3 256.7" stroke="#ebe144"/><path d="M491.8 255.8L493.7 259.3" stroke="#ebe144"/><path d="M493.2 258.4L495.2 261.9" stroke="#ebe144"/><path d="M494.7 261.0L496.8 264.4" stroke="#ebe144"/><path d="M496.3 263.6L498.5 266.9" stroke="#ebe143"/><path d="M497.9 266.1L500.2 269.4" stroke="#ebe143"/><path d="M499.6 268.6L501.9 271.8" stroke="#ebe143"/><path d="M501.3 271.0L503.8 274.2" stroke="#ebe143"/><path d="M503.1 273.4L505.7 276.5" stroke="#ebe143"/><path d="M505.0 275.7L507.7 278.7" stroke="#ebe142"/><path d="M507.0 277.9L509.8 280.9" stroke="#ebe142"/><path d="M509.0 280.1L511.8 283.1" stroke="#ebe142"/><path d="M511.1 282.3L513.9 285.2" stroke="#ebe142"/><path d="M513.2 284.5L516.0 287.3" stroke="#ebe142"/><path d="M515.3 286.6L518.2 289.4" stroke="#ebe141"/><path d="M517.4 288.7L520.3 291.5" stroke="#ebe141"/><path d="M519.6 290.8L522.4 293.7" stroke="#ebe041"/><path d="M521.7 292.9L524.5 295.8" stroke="#ebe041"/><path d="M523.8 295.1L526.6 297.9" stroke="#ebe041"/><path d="M525.9 297.2L528.7 300.1" stroke="#ebe040"/><path d="M528.0 299.3L530.8 302.2" stroke="#ebe040"/><path d="M530.1 301.5L532.9 304.3" stroke="#ebe040"/><path d="M532.2 303.6L535.1 306.4" stroke="#ebe040"/><path d="M534.3 305.7L537.2 308.5" stroke="#ebe040"/><path d="M536.5 307.8L539.3 310.6" stroke="#ebe03f"/><path d="M538.6 309.9L541.5 312.7" stroke="#ebe03f"/><path d="M540.7 312.0L543.6 314.8" stroke="#ebe03f"/><path d="M542.9 314.1L545.8 316.9" stroke="#ebe03f"/><path d="M545.0 316.1L547.9 319.0" stroke="#ebe03f"/><path d="M547.2 318.2L550.0 321.1" stroke="#ebe03e"/><path d="M549.3 320.3L552.0 323.0" stroke="#ebe03e"/></g>
<g fill="none" stroke-width="20" stroke-linecap="butt"><path d="M600.0 351.5L602.9 351.8" stroke="#efe67c"/><path d="M601.9 351.7L605.6 352.1" stroke="#f0e77f"/><path d="M604.5 352.0L608.2 352.4" stroke="#f0e882"/><path d="M607.2 352.3L610.9 352.6" stroke="#f1e885"/><path d="M609.9 352.5L613.6 352.9" stroke="#f1e988"/><path d="M612.5 352.8L616.2 353.2" stroke="#f1ea8c"/><path d="M615.2 353.1L618.9 353.5" stroke="#f2ea8f"/><path d="M617.9 353.4L621.6 353.7" stroke="#f2eb92"/><path d="M620.5 353.6L624.0 354.0" stroke="#f3ec95"/></g>
<g fill="none" stroke-width="21" stroke-linecap="butt"><path d="M623.5 354.2L626.5 354.1" stroke="#f8aee3"/><path d="M625.5 354.2L629.3 354.1" stroke="#f8aee3"/><path d="M628.2 354.1L632.1 354.0" stroke="#f8aee3"/><path d="M631.0 354.1L634.8 354.0" stroke="#f8aee3"/><path d="M633.8 354.0L637.6 353.9" stroke="#f8aee3"/><path d="M636.6 353.9L640.4 353.9" stroke="#f8aee3"/><path d="M639.3 353.9L643.1 353.8" stroke="#f8aee3"/><path d="M642.1 353.8L645.9 353.8" stroke="#f8aee3"/><path d="M644.9 353.8L648.7 353.7" stroke="#f8aee3"/><path d="M647.7 353.7L651.5 353.6" stroke="#f8aee3"/><path d="M650.4 353.7L654.0 353.6" stroke="#f8aee3"/></g>
<g fill="none" stroke-width="21" stroke-linecap="butt"><path d="M706.0 351.2L709.1 351.0" stroke="#fbc3ea"/><path d="M708.1 351.1L712.0 350.8" stroke="#fbc5eb"/><path d="M711.0 350.9L714.9 350.6" stroke="#fbc7ec"/><path d="M713.9 350.7L717.8 350.4" stroke="#fbc9ec"/><path d="M716.7 350.5L720.7 350.2" stroke="#fccced"/><path d="M719.6 350.3L723.5 350.0" stroke="#fcceee"/><path d="M722.5 350.1L726.4 349.8" stroke="#fcd0ef"/><path d="M725.4 349.9L729.3 349.6" stroke="#fcd2ef"/><path d="M728.3 349.7L732.2 349.4" stroke="#fcd4f0"/><path d="M731.2 349.5L735.1 349.2" stroke="#fcd6f1"/><path d="M734.0 349.3L738.0 349.0" stroke="#fcd8f1"/><path d="M736.9 349.1L740.9 348.8" stroke="#fcdaf2"/><path d="M739.8 348.9L743.7 348.6" stroke="#fddcf3"/><path d="M742.7 348.7L746.6 348.4" stroke="#fddff4"/><path d="M745.6 348.5L749.5 348.2" stroke="#fde1f4"/><path d="M748.5 348.3L752.4 348.0" stroke="#fde3f5"/><path d="M751.4 348.1L755.3 347.8" stroke="#fde5f6"/><path d="M754.2 347.9L758.2 347.6" stroke="#fde8f7"/><path d="M757.1 347.7L761.0 347.4" stroke="#feebf8"/><path d="M760.0 347.5L763.9 347.2" stroke="#feeef9"/><path d="M762.9 347.3L766.8 347.0" stroke="#fef0fa"/><path d="M765.8 347.1L769.7 346.8" stroke="#fef3fb"/><path d="M768.7 346.9L772.6 346.6" stroke="#fef6fc"/><path d="M771.5 346.7L775.5 346.4" stroke="#fff8fd"/><path d="M774.4 346.5L778.4 346.2" stroke="#fffbfe"/><path d="M777.3 346.3L781.0 346.0" stroke="#fffeff"/></g>
<g fill="none" stroke-width="22.5" stroke-linecap="butt"><path d="M781.0 345.8L784.1 345.7" stroke="#d45f00"/><path d="M783.1 345.8L787.0 345.7" stroke="#d45f00"/><path d="M786.0 345.7L789.9 345.7" stroke="#d45f00"/><path d="M788.8 345.7L792.8 345.6" stroke="#d45f00"/><path d="M791.7 345.6L795.7 345.6" stroke="#d45f00"/><path d="M794.6 345.6L798.5 345.5" stroke="#d45f00"/><path d="M797.5 345.5L801.4 345.5" stroke="#d45f00"/><path d="M800.4 345.5L804.3 345.4" stroke="#d45f00"/><path d="M803.3 345.4L807.2 345.4" stroke="#d45f00"/><path d="M806.1 345.4L810.1 345.3" stroke="#d45f00"/><path d="M809.0 345.3L812.9 345.3" stroke="#d45f00"/><path d="M811.9 345.3L815.8 345.2" stroke="#d45f00"/><path d="M814.8 345.2L818.7 345.2" stroke="#d45f00"/><path d="M817.7 345.2L821.6 345.1" stroke="#d45f00"/><path d="M820.6 345.2L824.5 345.1" stroke="#d45f00"/><path d="M823.4 345.1L827.4 345.0" stroke="#d45f00"/><path d="M826.3 345.1L830.0 345.0" stroke="#d45f00"/></g>
<defs><linearGradient id="g2" gradientUnits="userSpaceOnUse" x1="383" y1="262" x2="430" y2="262"><stop offset="0" stop-color="#e8a06a"/><stop offset="0.5" stop-color="#dc7428"/><stop offset="1" stop-color="#d45f00"/></linearGradient></defs>
<path d="M401.9 220.7 L405.6 230.5 L413 239.1 L425.2 247.7 L443.7 255.1 L468.2 262.4 L463.3 283.3 L455.9 284.5 L431.4 284.5 L413 280.9 L398.2 273.5 L387.2 263.7 L382.3 256.3 L380.4 248.3Z" fill="url(#g2)"/>
<g fill="none" stroke-width="21" stroke-linecap="butt"><path d="M391.0 190.0L391.0 193.2" stroke="#eebc96"/><path d="M391.0 192.2L391.0 196.0" stroke="#ecae82"/></g>
<g fill="none" stroke-width="20.5" stroke-linecap="butt"><path d="M367.0 261.0L367.7 264.0" stroke="#f6dac8"/><path d="M367.4 263.0L368.3 266.7" stroke="#f5d6c1"/><path d="M368.1 265.7L368.9 269.5" stroke="#f4d1bb"/><path d="M368.7 268.4L369.5 272.2" stroke="#f3cdb4"/><path d="M369.3 271.2L370.1 274.9" stroke="#f2c9ad"/><path d="M369.9 273.9L370.7 277.7" stroke="#f1c5a7"/><path d="M370.5 276.7L371.4 280.4" stroke="#f0c1a0"/><path d="M371.1 279.4L372.0 283.2" stroke="#efbc9a"/><path d="M371.8 282.1L372.7 285.9" stroke="#eeb893"/><path d="M372.5 284.9L373.5 288.6" stroke="#edb48d"/><path d="M373.2 287.6L374.3 291.3" stroke="#ecb086"/><path d="M374.0 290.3L375.3 293.9" stroke="#ebac7f"/><path d="M374.9 292.9L376.2 296.6" stroke="#eaa779"/><path d="M375.9 295.6L377.0 299.0" stroke="#e9a372"/></g>
<g fill="none" stroke-width="21" stroke-linecap="butt"><path d="M392.5 351.0L393.0 354.2" stroke="#d45f00"/><path d="M392.8 353.1L393.5 357.1" stroke="#d45f00"/><path d="M393.3 356.1L393.9 360.0" stroke="#d45f00"/><path d="M393.8 359.0L394.4 363.0" stroke="#d45f00"/><path d="M394.3 362.0L394.9 365.9" stroke="#d45f00"/><path d="M394.7 364.9L395.4 368.9" stroke="#d45f00"/><path d="M395.2 367.8L395.8 371.8" stroke="#d45f00"/><path d="M395.7 370.8L396.3 374.7" stroke="#d45f00"/><path d="M396.1 373.7L396.7 377.7" stroke="#d45f00"/><path d="M396.5 376.7L397.1 380.6" stroke="#d45f00"/><path d="M396.9 379.6L397.5 383.6" stroke="#d45f00"/><path d="M397.3 382.5L397.8 386.5" stroke="#d45f00"/><path d="M397.7 385.5L398.1 389.5" stroke="#d45f00"/><path d="M398.0 388.5L398.5 392.4" stroke="#d45f00"/><path d="M398.4 391.4L398.8 395.4" stroke="#d45f00"/><path d="M398.7 394.4L399.1 398.4" stroke="#d45f00"/><path d="M399.0 397.3L399.4 401.3" stroke="#d45f00"/><path d="M399.3 400.3L399.7 404.3" stroke="#d45f00"/><path d="M399.6 403.2L400.0 407.0" stroke="#d45f00"/></g>
<g fill="none" stroke-width="21.5" stroke-linecap="butt"><path d="M424.0 374.0L427.1 373.8" stroke="#ebe03a"/><path d="M426.1 373.9L430.0 373.7" stroke="#ebe03a"/><path d="M428.9 373.8L432.8 373.6" stroke="#ebe03a"/><path d="M431.8 373.6L435.7 373.4" stroke="#ebe03a"/><path d="M434.6 373.5L438.5 373.3" stroke="#ebe03a"/><path d="M437.5 373.3L441.4 373.1" stroke="#ebe03a"/><path d="M440.3 373.2L444.0 373.0" stroke="#ebe03a"/></g>
<g fill="none" stroke-width="21.5" stroke-linecap="butt"><path d="M495.0 370.0L498.1 369.8" stroke="#f1e881"/><path d="M497.0 369.9L500.9 369.7" stroke="#f2ea87"/><path d="M499.8 369.7L503.7 369.5" stroke="#f3ea8d"/><path d="M502.6 369.6L506.5 369.4" stroke="#f3ec93"/><path d="M505.5 369.4L509.3 369.2" stroke="#f4ec99"/><path d="M508.3 369.3L512.1 369.0" stroke="#f4ee9f"/><path d="M511.1 369.1L514.9 368.9" stroke="#f5eea5"/><path d="M513.9 369.0L517.7 368.7" stroke="#f6f0ab"/><path d="M516.7 368.8L520.6 368.6" stroke="#f6f0b1"/><path d="M519.5 368.6L523.4 368.4" stroke="#f7f2b7"/><path d="M522.3 368.5L526.2 368.3" stroke="#f8f2bd"/><path d="M525.1 368.3L529.0 368.1" stroke="#f8f4c3"/><path d="M528.0 368.2L531.8 368.0" stroke="#f9f4c9"/><path d="M530.8 368.0L534.6 367.8" stroke="#f9f6cf"/><path d="M533.6 367.9L537.4 367.6" stroke="#faf6d5"/><path d="M536.4 367.7L540.0 367.5" stroke="#fbf8db"/></g>
<path d="M363.4 6.3 L385.6 8.6 L381.4 60.9 L359.2 59.1Z" fill="#999999" stroke="#313131" stroke-width="1.4"/>
<path d="M360.3 91.4 L382.5 91.4 L382.5 144.5 L360.3 144.5Z" fill="#d45f00" stroke="#441e00" stroke-width="1.4"/>
<path d="M380.4 194.9 L401.9 194.9 L401.9 248.3 L380.4 248.3Z" fill="#d45f00" stroke="#441e00" stroke-width="1.4"/>
<path d="M455.3 116.4 L477.2 116.4 L476.0 169.3 L453.6 169.3Z" fill="#e08e0b" stroke="#482d04" stroke-width="1.4"/>
<path d="M372.0 300.2 L392.1 297.2 L402.6 349.4 L382.5 353.5Z" fill="#d45f00" stroke="#441e00" stroke-width="1.4"/>
<path d="M442.3 362.5 L495.0 359.5 L496.5 380.6 L443.3 383.6Z" fill="#ebe03a" stroke="#4b4813" stroke-width="1.4"/>
<path d="M554.6 322.8 L604.7 342.2 L598.3 360.7 L548.0 341.6Z" fill="#ebe03a" stroke="#4b4813" stroke-width="1.4"/>
<path d="M653.3 344.4 L706.2 340.8 L707.5 361.6 L654.6 365.5Z" fill="#f8aee3" stroke="#4f3849" stroke-width="1.4"/>
<path d="M667.3 456.8 L719.8 457.5 L719.8 478.6 L667.3 478.0Z" fill="#5ab3e6" stroke="#1d394a" stroke-width="1.4"/>
<path d="M507.6 498.5 L527.7 506.5 L506.6 554.7 L486.1 546.7Z" fill="#c98f5f" stroke="#402e1e" stroke-width="1.4"/>
<path d="M463.8 652.1 L485.8 653.9 L483.6 705.8 L462.5 704.3Z" fill="#f8aee3" stroke="#4f3849" stroke-width="1.4"/>
<path d="M473.7 778.0 L495.7 778.0 L495.7 812.0 L473.7 812.0Z" fill="#999999" stroke="#313131" stroke-width="1.4"/>
<path d="M335.4 452.0 L388.9 449.6 L390.2 470.2 L337.1 472.9Z" fill="#999999" stroke="#313131" stroke-width="1.4"/>
<path d="M216.4 432.1 L269.3 426.4 L271.4 447.9 L218.8 453.2Z" fill="#999999" stroke="#313131" stroke-width="1.4"/>
<path d="M123.4 457.5 L176.2 455.1 L176.6 476.6 L124.0 478.6Z" fill="#5ab3e6" stroke="#1d394a" stroke-width="1.4"/>
<path d="M35.6 455.5 L88.6 452.1 L89.8 473.2 L37.0 476.2Z" fill="#c978bd" stroke="#40263c" stroke-width="1.4"/>
<path d="M203.6 354.6 L256.8 363.9 L252.7 384.5 L200.9 375.5Z" fill="#c978bd" stroke="#40263c" stroke-width="1.4"/></g>
<circle cx="411.1" cy="395.8" r="118.5" fill="none" stroke="#fc0000" stroke-width="9.2" stroke-dasharray="9.3 9.31" stroke-dashoffset="4.65"/>
<path d="M619.6 177.9L490.6 311" stroke="#fc0000" stroke-width="5" stroke-dasharray="9.5 8.8" stroke-dashoffset="5" fill="none"/>
<circle cx="349" cy="120" r="6.8" fill="#000"/>
<path d="M331.5 227.8L368.5 227.8" stroke="#000" stroke-width="3" fill="none"/>
<circle cx="368.5" cy="228" r="6.8" fill="#000"/>
<path d="M186 304L230 342" stroke="#000" stroke-width="3" fill="none"/>
<circle cx="230" cy="342" r="6.8" fill="#000"/>
<circle cx="151" cy="494" r="6.8" fill="#000"/>
<circle cx="245.5" cy="462" r="6.8" fill="#000"/>
<path d="M245.5 462L245.5 578" stroke="#000" stroke-width="3" fill="none"/>
<path d="M578 365L677.7 612.5" stroke="#000" stroke-width="3" fill="none"/>
<circle cx="578" cy="365" r="6.8" fill="#000"/>
<path d="M689.5 489L677.7 612.5" stroke="#000" stroke-width="3" fill="none"/>
<circle cx="689.5" cy="489" r="6.8" fill="#000"/>
<path d="M525.7 534.8L677.7 612.5" stroke="#000" stroke-width="3" fill="none"/>
<circle cx="525.7" cy="534.8" r="6.8" fill="#000"/>
<g clip-path="url(#cr)"><g stroke="#dcdcdc" stroke-width="8" fill="none" stroke-linecap="butt"><circle cx="1301" cy="404.5" r="278.5" stroke-width="8.5"/><circle cx="1301" cy="404.5" r="308" stroke-width="8" stroke-dasharray="24 21" stroke-dashoffset="5"/><path d="M1406.4 83.4 L1410.2 84.6 L1414.0 85.9 L1417.8 87.3 L1421.5 88.7 L1425.3 90.2 L1429.0 91.7 L1432.7 93.2 L1436.4 94.8 L1440.0 96.4 L1443.7 98.1 L1447.3 99.8 L1450.9 101.5 L1454.5 103.3 L1458.0 105.2 L1461.6 107.1 L1465.1 109.0 L1468.6 111.0 L1472.0 113.0 L1475.5 115.0 L1478.9 117.1 L1482.3 119.2 L1485.7 121.4 L1489.0 123.6 L1492.3 125.9 L1495.6 128.1 L1498.9 130.5 L1502.1 132.8 L1505.3 135.2 L1508.5 137.7 L1511.6 140.2 L1514.7 142.7 L1517.8 145.2 L1520.9 147.8 L1523.9 150.4 L1526.9 153.1 L1529.9 155.8 L1532.8 158.5 L1535.7 161.3 L1538.6 164.1 L1541.4 166.9 L1544.2 169.8 L1547.0 172.7 L1549.7 175.6 L1552.4 178.6 L1555.1 181.6 L1557.7 184.6 L1560.3 187.7 L1562.8 190.8 L1565.3 193.9 L1567.8 197.0 L1570.3 200.2 L1572.7 203.4 L1575.0 206.6 L1577.4 209.9 L1579.6 213.2 L1581.9 216.5 L1584.1 219.8 L1586.3 223.2 L1588.4 226.6 L1590.5 230.0 L1592.5 233.5 L1594.5 236.9 L1596.5 240.4 L1598.4 243.9 L1600.3 247.5 L1602.2 251.0 L1604.0 254.6 L1605.7 258.2 L1607.4 261.8 L1609.1 265.5 L1610.7 269.1 L1612.3 272.8 L1613.8 276.5 L1615.3 280.2 L1616.8 284.0 L1618.2 287.7 L1619.6 291.5 L1620.9 295.3 L1622.1 299.1"/><path d="M1361.0 -179.3 L1361.0 20.7 L1361.1 24.8 L1361.5 28.9 L1362.2 33.0 L1363.1 37.0 L1364.2 41.0 L1365.6 44.9 L1367.3 48.7 L1369.1 52.4 L1371.2 55.9 L1373.5 59.4 L1376.1 62.6 L1378.8 65.7 L1381.7 68.7 L1384.8 71.4 L1388.1 74.0 L1391.5 76.3 L1395.1 78.4 L1398.7 80.3 L1402.5 81.9 L1406.4 83.4"/><path d="M1241.0 -179.3 L1241.0 20.7 L1240.9 24.8 L1240.5 28.9 L1239.8 33.0 L1238.9 37.0 L1237.8 41.0 L1236.4 44.9 L1234.7 48.7 L1232.9 52.4 L1230.8 55.9 L1228.5 59.4 L1225.9 62.6 L1223.2 65.7 L1220.3 68.7 L1217.2 71.4 L1213.9 74.0 L1210.5 76.3 L1206.9 78.4 L1203.3 80.3 L1199.5 81.9 L1195.6 83.4"/><path d="M1271.0 9.5 L1271.0 22.5"/><path d="M1301.0 9.5 L1301.0 22.5"/><path d="M1331.0 9.5 L1331.0 22.5"/><path d="M1622.1 509.9 L1620.9 513.7 L1619.6 517.5 L1618.2 521.3 L1616.8 525.0 L1615.3 528.8 L1613.8 532.5 L1612.3 536.2 L1610.7 539.9 L1609.1 543.5 L1607.4 547.2 L1605.7 550.8 L1604.0 554.4 L1602.2 558.0 L1600.3 561.5 L1598.4 565.1 L1596.5 568.6 L1594.5 572.1 L1592.5 575.5 L1590.5 579.0 L1588.4 582.4 L1586.3 585.8 L1584.1 589.2 L1581.9 592.5 L1579.6 595.8 L1577.4 599.1 L1575.0 602.4 L1572.7 605.6 L1570.3 608.8 L1567.8 612.0 L1565.3 615.1 L1562.8 618.2 L1560.3 621.3 L1557.7 624.4 L1555.1 627.4 L1552.4 630.4 L1549.7 633.4 L1547.0 636.3 L1544.2 639.2 L1541.4 642.1 L1538.6 644.9 L1535.7 647.7 L1532.8 650.5 L1529.9 653.2 L1526.9 655.9 L1523.9 658.6 L1520.9 661.2 L1517.8 663.8 L1514.7 666.3 L1511.6 668.8 L1508.5 671.3 L1505.3 673.8 L1502.1 676.2 L1498.9 678.5 L1495.6 680.9 L1492.3 683.1 L1489.0 685.4 L1485.7 687.6 L1482.3 689.8 L1478.9 691.9 L1475.5 694.0 L1472.0 696.0 L1468.6 698.0 L1465.1 700.0 L1461.6 701.9 L1458.0 703.8 L1454.5 705.7 L1450.9 707.5 L1447.3 709.2 L1443.7 710.9 L1440.0 712.6 L1436.4 714.2 L1432.7 715.8 L1429.0 717.3 L1425.3 718.8 L1421.5 720.3 L1417.8 721.7 L1414.0 723.1 L1410.2 724.4 L1406.4 725.6"/><path d="M1884.8 464.5 L1684.8 464.5 L1680.7 464.6 L1676.6 465.0 L1672.5 465.7 L1668.5 466.6 L1664.5 467.7 L1660.6 469.1 L1656.8 470.8 L1653.1 472.6 L1649.6 474.7 L1646.1 477.0 L1642.9 479.6 L1639.8 482.3 L1636.8 485.2 L1634.1 488.3 L1631.5 491.6 L1629.2 495.0 L1627.1 498.6 L1625.2 502.2 L1623.6 506.0 L1622.1 509.9"/><path d="M1884.8 344.5 L1684.8 344.5 L1680.7 344.4 L1676.6 344.0 L1672.5 343.3 L1668.5 342.4 L1664.5 341.3 L1660.6 339.9 L1656.8 338.2 L1653.1 336.4 L1649.6 334.3 L1646.1 332.0 L1642.9 329.4 L1639.8 326.7 L1636.8 323.8 L1634.1 320.7 L1631.5 317.4 L1629.2 314.0 L1627.1 310.4 L1625.2 306.8 L1623.6 303.0 L1622.1 299.1"/><path d="M1696.0 374.5 L1683.0 374.5"/><path d="M1696.0 404.5 L1683.0 404.5"/><path d="M1696.0 434.5 L1683.0 434.5"/><path d="M1195.6 725.6 L1191.8 724.4 L1188.0 723.1 L1184.2 721.7 L1180.5 720.3 L1176.7 718.8 L1173.0 717.3 L1169.3 715.8 L1165.6 714.2 L1162.0 712.6 L1158.3 710.9 L1154.7 709.2 L1151.1 707.5 L1147.5 705.7 L1144.0 703.8 L1140.4 701.9 L1136.9 700.0 L1133.4 698.0 L1130.0 696.0 L1126.5 694.0 L1123.1 691.9 L1119.7 689.8 L1116.3 687.6 L1113.0 685.4 L1109.7 683.1 L1106.4 680.9 L1103.1 678.5 L1099.9 676.2 L1096.7 673.8 L1093.5 671.3 L1090.4 668.8 L1087.3 666.3 L1084.2 663.8 L1081.1 661.2 L1078.1 658.6 L1075.1 655.9 L1072.1 653.2 L1069.2 650.5 L1066.3 647.7 L1063.4 644.9 L1060.6 642.1 L1057.8 639.2 L1055.0 636.3 L1052.3 633.4 L1049.6 630.4 L1046.9 627.4 L1044.3 624.4 L1041.7 621.3 L1039.2 618.2 L1036.7 615.1 L1034.2 612.0 L1031.7 608.8 L1029.3 605.6 L1027.0 602.4 L1024.6 599.1 L1022.4 595.8 L1020.1 592.5 L1017.9 589.2 L1015.7 585.8 L1013.6 582.4 L1011.5 579.0 L1009.5 575.5 L1007.5 572.1 L1005.5 568.6 L1003.6 565.1 L1001.7 561.5 L999.8 558.0 L998.0 554.4 L996.3 550.8 L994.6 547.2 L992.9 543.5 L991.3 539.9 L989.7 536.2 L988.2 532.5 L986.7 528.8 L985.2 525.0 L983.8 521.3 L982.4 517.5 L981.1 513.7 L979.9 509.9"/><path d="M1241.0 988.3 L1241.0 788.3 L1240.9 784.2 L1240.5 780.1 L1239.8 776.0 L1238.9 772.0 L1237.8 768.0 L1236.4 764.1 L1234.7 760.3 L1232.9 756.6 L1230.8 753.1 L1228.5 749.6 L1225.9 746.4 L1223.2 743.3 L1220.3 740.3 L1217.2 737.6 L1213.9 735.0 L1210.5 732.7 L1206.9 730.6 L1203.3 728.7 L1199.5 727.1 L1195.6 725.6"/><path d="M1361.0 988.3 L1361.0 788.3 L1361.1 784.2 L1361.5 780.1 L1362.2 776.0 L1363.1 772.0 L1364.2 768.0 L1365.6 764.1 L1367.3 760.3 L1369.1 756.6 L1371.2 753.1 L1373.5 749.6 L1376.1 746.4 L1378.8 743.3 L1381.7 740.3 L1384.8 737.6 L1388.1 735.0 L1391.5 732.7 L1395.1 730.6 L1398.7 728.7 L1402.5 727.1 L1406.4 725.6"/><path d="M1331.0 799.5 L1331.0 786.5"/><path d="M1301.0 799.5 L1301.0 786.5"/><path d="M1271.0 799.5 L1271.0 786.5"/><path d="M979.9 299.1 L981.1 295.3 L982.4 291.5 L983.8 287.7 L985.2 284.0 L986.7 280.2 L988.2 276.5 L989.7 272.8 L991.3 269.1 L992.9 265.5 L994.6 261.8 L996.3 258.2 L998.0 254.6 L999.8 251.0 L1001.7 247.5 L1003.6 243.9 L1005.5 240.4 L1007.5 236.9 L1009.5 233.5 L1011.5 230.0 L1013.6 226.6 L1015.7 223.2 L1017.9 219.8 L1020.1 216.5 L1022.4 213.2 L1024.6 209.9 L1027.0 206.6 L1029.3 203.4 L1031.7 200.2 L1034.2 197.0 L1036.7 193.9 L1039.2 190.8 L1041.7 187.7 L1044.3 184.6 L1046.9 181.6 L1049.6 178.6 L1052.3 175.6 L1055.0 172.7 L1057.8 169.8 L1060.6 166.9 L1063.4 164.1 L1066.3 161.3 L1069.2 158.5 L1072.1 155.8 L1075.1 153.1 L1078.1 150.4 L1081.1 147.8 L1084.2 145.2 L1087.3 142.7 L1090.4 140.2 L1093.5 137.7 L1096.7 135.2 L1099.9 132.8 L1103.1 130.5 L1106.4 128.1 L1109.7 125.9 L1113.0 123.6 L1116.3 121.4 L1119.7 119.2 L1123.1 117.1 L1126.5 115.0 L1130.0 113.0 L1133.4 111.0 L1136.9 109.0 L1140.4 107.1 L1144.0 105.2 L1147.5 103.3 L1151.1 101.5 L1154.7 99.8 L1158.3 98.1 L1162.0 96.4 L1165.6 94.8 L1169.3 93.2 L1173.0 91.7 L1176.7 90.2 L1180.5 88.7 L1184.2 87.3 L1188.0 85.9 L1191.8 84.6 L1195.6 83.4"/><path d="M717.2 344.5 L917.2 344.5 L921.3 344.4 L925.4 344.0 L929.5 343.3 L933.5 342.4 L937.5 341.3 L941.4 339.9 L945.2 338.2 L948.9 336.4 L952.4 334.3 L955.9 332.0 L959.1 329.4 L962.2 326.7 L965.2 323.8 L967.9 320.7 L970.5 317.4 L972.8 314.0 L974.9 310.4 L976.8 306.8 L978.4 303.0 L979.9 299.1"/><path d="M717.2 464.5 L917.2 464.5 L921.3 464.6 L925.4 465.0 L929.5 465.7 L933.5 466.6 L937.5 467.7 L941.4 469.1 L945.2 470.8 L948.9 472.6 L952.4 474.7 L955.9 477.0 L959.1 479.6 L962.2 482.3 L965.2 485.2 L967.9 488.3 L970.5 491.6 L972.8 495.0 L974.9 498.6 L976.8 502.2 L978.4 506.0 L979.9 509.9"/><path d="M906.0 434.5 L919.0 434.5"/><path d="M906.0 404.5 L919.0 404.5"/><path d="M906.0 374.5 L919.0 374.5"/><path d="M1293.0 66.6 L1297.3 66.5 L1301.7 66.5 L1306.0 66.5 L1310.3 66.6 L1314.6 66.8 L1318.9 67.0"/><path d="M1203.3 80.9 L1207.2 79.8 L1211.2 78.7 L1215.1 77.6 L1219.1 76.6 L1223.1 75.6 L1227.1 74.7"/><path d="M1381.5 76.2 L1385.4 77.2 L1389.3 78.2 L1393.2 79.3 L1397.1 80.5 L1401.0 81.6 L1404.9 82.8"/><path d="M968.8 342.0 L968.3 344.7 L967.9 347.4 L967.4 350.1 L967.0 352.9 L966.6 355.6 L966.2 358.3"/><path d="M963.5 386.0 L963.3 389.9 L963.2 393.8 L963.1 397.7 L963.0 401.6 L963.0 405.5 L963.0 409.4"/><path d="M964.0 430.4 L964.3 434.3 L964.7 438.2 L965.1 442.1 L965.6 446.0 L966.1 449.9 L966.6 453.8"/><path d="M970.3 474.5 L971.1 477.9 L971.8 481.3 L972.7 484.7 L973.5 488.1 L974.4 491.4 L975.3 494.8"/><path d="M1282.6 742.0 L1287.0 742.2 L1291.5 742.4 L1295.9 742.5 L1300.3 742.5 L1304.8 742.5 L1309.2 742.4"/><path d="M1636.6 364.1 L1636.9 366.7 L1637.2 369.4 L1637.4 372.0 L1637.7 374.7 L1637.9 377.3 L1638.1 380.0"/><path d="M1638.9 396.0 L1639.0 400.5 L1639.0 404.9 L1639.0 409.4 L1638.9 413.8 L1638.7 418.3 L1638.5 422.7"/><path d="M1636.7 444.1 L1636.1 448.4 L1635.5 452.7 L1634.9 457.0 L1634.2 461.3 L1633.4 465.6 L1632.6 469.9"/><path d="M1628.3 320.0 L1629.2 323.5 L1630.0 327.1 L1630.8 330.6 L1631.6 334.2 L1632.3 337.7 L1633.0 341.3"/></g><g fill="none" stroke-width="16" stroke-linecap="butt"><path d="M901.0 368.0L903.2 368.0" stroke="#eaccb4"/><path d="M902.2 368.0L905.0 368.0" stroke="#e5bfa1"/></g>
<g fill="none" stroke-width="17" stroke-linecap="butt"><path d="M942.0 367.5L945.0 367.3" stroke="#e6bfa0"/><path d="M944.0 367.4L947.9 367.1" stroke="#e7c2a6"/><path d="M946.8 367.2L950.7 366.9" stroke="#e9c6aa"/><path d="M949.6 367.0L953.5 366.7" stroke="#eac9b0"/><path d="M952.4 366.8L956.3 366.5" stroke="#ecccb4"/><path d="M955.3 366.6L959.1 366.3" stroke="#edd0ba"/><path d="M958.1 366.4L961.9 366.0" stroke="#eed3be"/><path d="M960.9 366.1L964.7 365.7" stroke="#f0d7c4"/><path d="M963.7 365.8L967.5 365.3" stroke="#f1dac8"/><path d="M966.5 365.5L970.3 365.0" stroke="#f3dece"/><path d="M969.3 365.1L973.1 364.6" stroke="#f5e3d5"/><path d="M972.1 364.7L975.9 364.2" stroke="#f7e8dc"/><path d="M974.8 364.3L978.7 363.8" stroke="#f8ece3"/><path d="M977.6 363.9L981.4 363.4" stroke="#faf1ea"/><path d="M980.4 363.5L984.0 363.0" stroke="#fcf6f1"/></g>
<g fill="none" stroke-width="16" stroke-linecap="butt"><path d="M948.0 438.0L950.7 439.4" stroke="#9a9a9a"/><path d="M949.8 439.0L953.2 440.8" stroke="#9b9b9b"/><path d="M952.3 440.3L955.7 442.1" stroke="#9d9d9d"/><path d="M954.8 441.6L958.2 443.4" stroke="#9e9e9e"/><path d="M957.3 443.0L960.7 444.8" stroke="#a0a0a0"/><path d="M959.8 444.3L963.0 446.0" stroke="#a1a1a1"/></g>
<g fill="none" stroke-width="16" stroke-linecap="butt"><path d="M1049.0 218.0L1047.1 220.6" stroke="#e39a1a"/><path d="M1047.7 219.8L1045.3 223.0" stroke="#e39a1a"/><path d="M1045.9 222.2L1043.5 225.4" stroke="#e39a1a"/><path d="M1044.1 224.6L1041.7 227.8" stroke="#e39a1a"/><path d="M1042.3 227.0L1039.9 230.2" stroke="#e39a1a"/><path d="M1040.5 229.4L1038.1 232.6" stroke="#e39a1a"/><path d="M1038.7 231.8L1036.3 235.0" stroke="#e39a1a"/><path d="M1036.9 234.2L1034.5 237.4" stroke="#e39a1a"/><path d="M1035.1 236.6L1032.7 239.8" stroke="#e39a1a"/><path d="M1033.3 239.0L1031.0 242.0" stroke="#e39a1a"/></g>
<g fill="none" stroke-width="20" stroke-linecap="butt"><path d="M1012.0 275.0L1010.9 278.0" stroke="#e08c53"/><path d="M1011.3 277.0L1009.9 280.8" stroke="#e08b51"/><path d="M1010.2 279.8L1008.8 283.6" stroke="#df8a4f"/><path d="M1009.2 282.6L1007.7 286.4" stroke="#df894d"/><path d="M1008.1 285.4L1006.7 289.1" stroke="#df884b"/><path d="M1007.1 288.2L1005.7 291.9" stroke="#df8749"/><path d="M1006.0 291.0L1004.7 294.7" stroke="#df8647"/><path d="M1005.0 293.8L1003.8 297.6" stroke="#de8545"/><path d="M1004.1 296.6L1002.9 300.4" stroke="#de8443"/><path d="M1003.2 299.4L1002.0 303.2" stroke="#de8342"/><path d="M1002.3 302.2L1001.2 306.1" stroke="#de8240"/><path d="M1001.5 305.1L1000.3 308.9" stroke="#de813e"/><path d="M1000.6 307.9L999.5 311.8" stroke="#dd803c"/><path d="M999.8 310.8L998.7 314.7" stroke="#dd7f3a"/><path d="M999.0 313.7L998.0 317.5" stroke="#dd7e38"/><path d="M998.2 316.5L997.2 320.4" stroke="#dd7d36"/><path d="M997.5 319.4L996.5 323.3" stroke="#dc7c34"/><path d="M996.8 322.3L995.8 326.2" stroke="#dc7b32"/><path d="M996.1 325.2L995.2 329.1" stroke="#dc7a30"/><path d="M995.4 328.1L994.6 332.0" stroke="#dc792e"/><path d="M994.8 331.0L994.0 334.9" stroke="#db772b"/><path d="M994.2 333.9L993.5 337.8" stroke="#db7629"/><path d="M993.7 336.8L993.1 340.8" stroke="#da7526"/><path d="M993.2 339.7L992.6 343.7" stroke="#da7424"/><path d="M992.8 342.7L992.2 346.7" stroke="#da7222"/><path d="M992.4 345.6L991.9 349.6" stroke="#d9711f"/><path d="M992.0 348.6L991.5 352.6" stroke="#d9701d"/><path d="M991.6 351.5L991.2 355.5" stroke="#d96e1b"/><path d="M991.3 354.5L991.0 358.5" stroke="#d86d18"/><path d="M991.0 357.4L990.8 361.4" stroke="#d86c16"/><path d="M990.8 360.4L990.6 364.4" stroke="#d76a13"/><path d="M990.7 363.4L990.6 367.4" stroke="#d76911"/><path d="M990.6 366.3L990.5 370.4" stroke="#d7680f"/><path d="M990.5 369.3L990.5 373.3" stroke="#d6670c"/><path d="M990.5 372.3L990.5 376.3" stroke="#d6650a"/><path d="M990.5 375.3L990.5 379.3" stroke="#d66408"/><path d="M990.5 378.2L990.5 382.0" stroke="#d56305"/></g>
<g fill="none" stroke-width="17" stroke-linecap="butt"><path d="M1001.0 370.0L1001.0 373.2" stroke="#b9b9b9"/><path d="M1001.0 372.2L1000.9 376.2" stroke="#b8b8b8"/><path d="M1000.9 375.1L1000.9 379.1" stroke="#b7b7b7"/><path d="M1000.9 378.1L1000.9 382.1" stroke="#b6b6b6"/><path d="M1000.9 381.1L1000.9 385.1" stroke="#b5b5b5"/><path d="M1000.9 384.0L1000.8 388.0" stroke="#b5b5b5"/><path d="M1000.8 387.0L1000.8 391.0" stroke="#b4b4b4"/><path d="M1000.8 390.0L1000.8 394.0" stroke="#b3b3b3"/><path d="M1000.8 392.9L1000.7 396.9" stroke="#b2b2b2"/><path d="M1000.7 395.9L1000.7 399.9" stroke="#b2b2b2"/><path d="M1000.7 398.9L1000.6 402.9" stroke="#b1b1b1"/><path d="M1000.7 401.8L1000.6 405.8" stroke="#b0b0b0"/><path d="M1000.6 404.8L1000.5 408.8" stroke="#afafaf"/><path d="M1000.6 407.7L1000.5 411.8" stroke="#aeaeae"/><path d="M1000.5 410.7L1000.4 414.7" stroke="#aeaeae"/><path d="M1000.4 413.7L1000.3 417.7" stroke="#adadad"/><path d="M1000.3 416.6L1000.2 420.6" stroke="#acacac"/><path d="M1000.2 419.6L1000.1 423.6" stroke="#ababab"/><path d="M1000.1 422.6L1000.0 426.6" stroke="#aaaaaa"/><path d="M1000.0 425.5L999.9 429.5" stroke="#aaaaaa"/><path d="M999.9 428.5L999.8 432.5" stroke="#a9a9a9"/><path d="M999.8 431.5L999.7 435.5" stroke="#a8a8a8"/><path d="M999.7 434.4L999.5 438.4" stroke="#a7a7a7"/><path d="M999.6 437.4L999.4 441.4" stroke="#a7a7a7"/><path d="M999.5 440.3L999.3 444.3" stroke="#a6a6a6"/><path d="M999.4 443.3L999.2 447.3" stroke="#a5a5a5"/><path d="M999.2 446.3L999.1 450.3" stroke="#a4a4a4"/><path d="M999.1 449.2L999.0 453.0" stroke="#a3a3a3"/></g>
<g fill="none" stroke-width="4" stroke-linecap="butt"><path d="M995.0 430.0L995.1 433.0" stroke="#f3d1a5"/><path d="M995.1 432.0L995.3 435.7" stroke="#f2ce9f"/><path d="M995.2 434.7L995.4 438.5" stroke="#f1cb9a"/><path d="M995.3 437.5L995.5 441.2" stroke="#f1c894"/><path d="M995.5 440.2L995.6 444.0" stroke="#f0c68e"/><path d="M995.6 443.0L995.8 446.7" stroke="#f0c388"/><path d="M995.7 445.7L995.9 449.5" stroke="#efc083"/><path d="M995.8 448.5L996.0 452.0" stroke="#eebd7d"/></g>
<g fill="none" stroke-width="16" stroke-linecap="butt"><path d="M1000.8 491.0L1001.6 494.1" stroke="#e0930d"/><path d="M1001.3 493.1L1002.3 497.1" stroke="#e0940e"/><path d="M1002.0 496.0L1003.0 500.0" stroke="#e0940f"/><path d="M1002.8 499.0L1003.7 502.9" stroke="#e19410"/><path d="M1003.5 501.9L1004.4 505.8" stroke="#e19511"/><path d="M1004.2 504.8L1005.1 508.7" stroke="#e19512"/><path d="M1004.9 507.7L1005.9 511.6" stroke="#e19513"/><path d="M1005.6 510.6L1006.6 514.5" stroke="#e19613"/><path d="M1006.3 513.5L1007.3 517.4" stroke="#e19614"/><path d="M1007.1 516.4L1008.1 520.3" stroke="#e19615"/><path d="M1007.8 519.3L1008.9 523.2" stroke="#e29716"/><path d="M1008.6 522.2L1009.6 526.1" stroke="#e29717"/><path d="M1009.4 525.1L1010.4 529.0" stroke="#e29718"/><path d="M1010.2 528.0L1011.2 531.9" stroke="#e29818"/><path d="M1010.9 530.9L1012.0 534.8" stroke="#e29819"/><path d="M1011.8 533.8L1012.8 537.7" stroke="#e2981a"/><path d="M1012.6 536.7L1013.6 540.6" stroke="#e2991b"/><path d="M1013.4 539.6L1014.5 543.5" stroke="#e3991c"/><path d="M1014.2 542.5L1015.3 546.3" stroke="#e3991d"/><path d="M1015.0 545.3L1016.0 549.0" stroke="#e39a1e"/></g>
<g fill="none" stroke-width="10" stroke-linecap="butt"><path d="M1075.0 168.0L1077.6 166.1" stroke="#fdf6ee"/><path d="M1076.8 166.7L1080.0 164.3" stroke="#fdf5ed"/><path d="M1079.1 165.0L1082.4 162.6" stroke="#fdf5ec"/><path d="M1081.5 163.2L1084.7 160.8" stroke="#fdf5ec"/><path d="M1083.9 161.4L1087.1 159.0" stroke="#fcf4eb"/><path d="M1086.3 159.6L1089.5 157.2" stroke="#fcf4ea"/><path d="M1088.6 157.9L1091.9 155.5" stroke="#fcf4ea"/><path d="M1091.0 156.1L1094.3 153.8" stroke="#fcf3e9"/><path d="M1093.5 154.4L1096.8 152.1" stroke="#fcf3e9"/><path d="M1095.9 152.7L1099.3 150.5" stroke="#fcf3e8"/><path d="M1098.4 151.0L1101.8 148.9" stroke="#fcf2e7"/><path d="M1100.9 149.4L1104.3 147.4" stroke="#fbf2e7"/><path d="M1103.4 147.9L1106.9 145.9" stroke="#fbf1e6"/><path d="M1106.0 146.4L1109.4 144.4" stroke="#fbf1e5"/><path d="M1108.5 144.9L1112.0 142.9" stroke="#fbf1e5"/><path d="M1111.1 143.4L1114.6 141.5" stroke="#fbf0e4"/><path d="M1113.7 142.0L1117.2 140.1" stroke="#fbf0e4"/><path d="M1116.3 140.5L1119.8 138.6" stroke="#fbf0e3"/><path d="M1118.9 139.1L1122.4 137.2" stroke="#faefe2"/><path d="M1121.5 137.7L1125.0 135.8" stroke="#faefe2"/><path d="M1124.1 136.3L1127.6 134.3" stroke="#faefe1"/><path d="M1126.7 134.8L1130.0 133.0" stroke="#faeee0"/></g>
<g fill="none" stroke-width="16" stroke-linecap="butt"><path d="M1052.0 200.0L1054.4 197.9" stroke="#f5a8df"/><path d="M1053.6 198.6L1056.6 196.0" stroke="#f5a9e0"/><path d="M1055.8 196.7L1058.8 194.1" stroke="#f5aae0"/><path d="M1058.0 194.8L1060.9 192.1" stroke="#f6abe0"/><path d="M1060.2 192.8L1063.1 190.2" stroke="#f6ace1"/><path d="M1062.4 190.9L1065.3 188.3" stroke="#f6ade1"/><path d="M1064.5 189.0L1067.5 186.4" stroke="#f6aee2"/><path d="M1066.7 187.0L1069.7 184.5" stroke="#f6afe2"/><path d="M1068.9 185.1L1072.0 182.6" stroke="#f6b0e3"/><path d="M1071.2 183.2L1074.2 180.7" stroke="#f6b1e3"/><path d="M1073.4 181.3L1076.4 178.8" stroke="#f6b2e4"/><path d="M1075.6 179.5L1078.6 176.9" stroke="#f7b3e4"/><path d="M1077.9 177.6L1080.8 175.0" stroke="#f7b4e4"/><path d="M1080.1 175.7L1083.0 173.1" stroke="#f7b5e5"/><path d="M1082.3 173.8L1085.3 171.2" stroke="#f7b6e5"/><path d="M1084.5 171.8L1087.5 169.3" stroke="#f7b7e6"/><path d="M1086.7 170.0L1089.7 167.4" stroke="#f7b8e6"/><path d="M1088.9 168.1L1092.0 165.6" stroke="#f8b9e6"/><path d="M1091.2 166.3L1094.4 163.9" stroke="#f8bae7"/><path d="M1093.5 164.5L1096.7 162.2" stroke="#f8bbe7"/><path d="M1095.9 162.8L1099.2 160.6" stroke="#f8bce8"/><path d="M1098.3 161.1L1101.6 159.0" stroke="#f8bee8"/><path d="M1100.7 159.5L1104.1 157.5" stroke="#f8bee9"/><path d="M1103.2 158.0L1106.7 156.0" stroke="#f8c0e9"/><path d="M1105.7 156.5L1109.2 154.6" stroke="#f8c0ea"/><path d="M1108.3 155.1L1111.8 153.3" stroke="#f8c2ea"/><path d="M1110.9 153.7L1114.4 151.9" stroke="#f8c2ea"/><path d="M1113.5 152.4L1117.0 150.6" stroke="#f8c4eb"/><path d="M1116.1 151.1L1119.6 149.3" stroke="#f9c4eb"/><path d="M1118.7 149.8L1122.2 148.0" stroke="#f9c6ec"/><path d="M1121.3 148.5L1124.8 146.7" stroke="#f9c6ec"/><path d="M1123.9 147.2L1127.4 145.4" stroke="#f9c8ec"/><path d="M1126.5 145.9L1130.0 144.1" stroke="#f9c8ed"/><path d="M1129.1 144.5L1132.6 142.7" stroke="#f9caed"/><path d="M1131.7 143.2L1135.0 141.5" stroke="#f9caee"/></g>
<g fill="none" stroke-width="14" stroke-linecap="butt"><path d="M1173.0 129.0L1176.1 128.5" stroke="#fbdcf2"/><path d="M1175.1 128.6L1179.0 127.9" stroke="#fbddf3"/><path d="M1178.0 128.1L1181.9 127.4" stroke="#fbdef3"/><path d="M1180.9 127.6L1184.8 126.9" stroke="#fbdff3"/><path d="M1183.8 127.1L1187.7 126.4" stroke="#fbe0f4"/><path d="M1186.7 126.6L1190.6 125.9" stroke="#fbe1f4"/><path d="M1189.6 126.0L1193.5 125.4" stroke="#fce2f4"/><path d="M1192.5 125.5L1196.4 124.9" stroke="#fce3f5"/><path d="M1195.4 125.0L1199.4 124.4" stroke="#fce4f5"/><path d="M1198.3 124.5L1202.3 123.9" stroke="#fce5f5"/><path d="M1201.2 124.1L1205.2 123.5" stroke="#fce6f6"/><path d="M1204.1 123.6L1208.1 123.1" stroke="#fce7f6"/><path d="M1207.1 123.2L1211.0 122.6" stroke="#fce8f6"/><path d="M1210.0 122.8L1213.9 122.3" stroke="#fce9f7"/><path d="M1212.9 122.4L1216.8 121.9" stroke="#fceaf7"/><path d="M1215.8 122.0L1219.8 121.5" stroke="#fcebf7"/><path d="M1218.7 121.6L1222.7 121.1" stroke="#fcecf8"/><path d="M1221.7 121.3L1225.6 120.8" stroke="#fdedf8"/><path d="M1224.6 120.9L1228.5 120.4" stroke="#fdeef8"/><path d="M1227.5 120.5L1231.5 120.1" stroke="#fdeff9"/><path d="M1230.4 120.2L1234.4 119.7" stroke="#fdf0f9"/><path d="M1233.4 119.8L1237.3 119.3" stroke="#fdf1f9"/><path d="M1236.3 119.5L1240.0 119.0" stroke="#fdf2fa"/></g>
<g fill="none" stroke-width="16.5" stroke-linecap="butt"><path d="M1134.0 134.5L1137.0 133.3" stroke="#1473b3"/><path d="M1136.0 133.7L1139.7 132.3" stroke="#1574b4"/><path d="M1138.8 132.6L1142.5 131.2" stroke="#1775b5"/><path d="M1141.5 131.6L1145.2 130.1" stroke="#1876b6"/><path d="M1144.3 130.5L1148.0 129.0" stroke="#1a78b7"/><path d="M1147.0 129.4L1150.7 127.9" stroke="#1b79b8"/><path d="M1149.8 128.3L1153.5 126.9" stroke="#1d7ab9"/><path d="M1152.5 127.3L1156.2 125.9" stroke="#1f7cba"/><path d="M1155.3 126.2L1159.0 124.8" stroke="#207dbb"/><path d="M1158.0 125.2L1161.8 123.9" stroke="#227ebc"/><path d="M1160.8 124.2L1164.6 122.9" stroke="#237fbc"/><path d="M1163.6 123.2L1167.4 122.0" stroke="#2581bd"/><path d="M1166.4 122.3L1170.2 121.0" stroke="#2682be"/><path d="M1169.2 121.4L1173.0 120.1" stroke="#2883bf"/><path d="M1172.0 120.4L1175.8 119.2" stroke="#2985c0"/><path d="M1174.8 119.6L1178.7 118.4" stroke="#2b86c1"/><path d="M1177.7 118.7L1181.5 117.5" stroke="#2a85c0"/><path d="M1180.5 117.8L1184.3 116.7" stroke="#2984c0"/><path d="M1183.3 117.0L1187.2 115.9" stroke="#2883bf"/><path d="M1186.2 116.2L1190.0 115.1" stroke="#2682be"/><path d="M1189.0 115.4L1192.9 114.4" stroke="#2581be"/><path d="M1191.9 114.7L1195.7 113.7" stroke="#2480bd"/><path d="M1194.7 113.9L1198.6 113.0" stroke="#237fbc"/><path d="M1197.6 113.3L1201.5 112.3" stroke="#227ebc"/><path d="M1200.5 112.6L1204.4 111.6" stroke="#217dbb"/><path d="M1203.4 111.9L1207.0 111.0" stroke="#207cba"/></g>
<g fill="none" stroke-width="15.5" stroke-linecap="butt"><path d="M1244.0 107.5L1247.2 107.1" stroke="#81b9dd"/><path d="M1246.2 107.2L1250.2 106.7" stroke="#85bcde"/><path d="M1249.1 106.8L1253.1 106.3" stroke="#8abedf"/><path d="M1252.1 106.4L1256.1 105.8" stroke="#8ec0e0"/><path d="M1255.0 106.0L1259.0 105.4" stroke="#92c3e2"/><path d="M1258.0 105.6L1262.0 105.0" stroke="#96c5e3"/><path d="M1261.0 105.2L1265.0 104.6" stroke="#9ac7e4"/><path d="M1263.9 104.8L1267.9 104.2" stroke="#9fcae5"/><path d="M1266.9 104.4L1270.9 103.8" stroke="#a3cce7"/><path d="M1269.8 104.0L1273.8 103.4" stroke="#a7cee8"/><path d="M1272.8 103.6L1276.8 103.0" stroke="#abd1e9"/><path d="M1275.8 103.2L1279.8 102.7" stroke="#afd3ea"/><path d="M1278.7 102.8L1282.7 102.3" stroke="#b4d5ec"/><path d="M1281.7 102.4L1285.7 101.9" stroke="#b8d8ed"/><path d="M1284.7 102.0L1288.7 101.6" stroke="#bcdaee"/><path d="M1287.6 101.7L1291.6 101.2" stroke="#c0dcef"/><path d="M1290.6 101.3L1294.6 100.9" stroke="#c4def0"/><path d="M1293.6 101.0L1297.6 100.5" stroke="#c8e0f1"/><path d="M1296.5 100.7L1300.5 100.2" stroke="#cbe3f2"/><path d="M1299.5 100.3L1303.5 99.9" stroke="#cfe5f3"/><path d="M1302.5 100.0L1306.5 99.6" stroke="#d3e7f4"/><path d="M1305.4 99.7L1309.4 99.2" stroke="#d7e9f5"/><path d="M1308.4 99.3L1312.4 98.9" stroke="#dbebf6"/><path d="M1311.4 99.0L1315.4 98.6" stroke="#dfedf7"/><path d="M1314.4 98.7L1318.4 98.3" stroke="#e3eff8"/><path d="M1317.3 98.4L1321.3 97.9" stroke="#e6f2f9"/><path d="M1320.3 98.1L1324.3 97.6" stroke="#eaf4fa"/><path d="M1323.3 97.7L1327.3 97.3" stroke="#eef6fb"/><path d="M1326.2 97.4L1330.0 97.0" stroke="#f2f8fc"/></g>
<g fill="none" stroke-width="17" stroke-linecap="butt"><path d="M1277.5 6.0L1277.8 8.7" stroke="#c978bd"/><path d="M1277.7 7.7L1278.0 11.2" stroke="#c978bd"/><path d="M1277.9 10.2L1278.3 13.7" stroke="#c978bd"/><path d="M1278.2 12.7L1278.5 16.2" stroke="#c978bd"/><path d="M1278.4 15.2L1278.8 18.7" stroke="#c978bd"/><path d="M1278.7 17.7L1279.0 21.0" stroke="#c978bd"/></g>
<g fill="none" stroke-width="15" stroke-linecap="butt"><path d="M1280.0 22.0L1280.0 25.2" stroke="#fcf2ea"/><path d="M1280.0 24.2L1280.0 28.2" stroke="#faece1"/><path d="M1280.0 27.2L1280.0 31.0" stroke="#f7e7d8"/></g>
<g fill="none" stroke-width="16" stroke-linecap="butt"><path d="M1263.4 64.0L1261.5 66.4" stroke="#c98f5f"/><path d="M1262.1 65.6L1259.8 68.6" stroke="#c98f5f"/><path d="M1260.4 67.8L1258.1 70.8" stroke="#c98f5f"/><path d="M1258.7 70.0L1256.3 73.0" stroke="#c98f5f"/><path d="M1257.0 72.2L1254.6 75.2" stroke="#c98f5f"/><path d="M1255.2 74.4L1252.7 77.3" stroke="#c98f5f"/><path d="M1253.4 76.6L1250.7 79.3" stroke="#c98f5f"/><path d="M1251.5 78.6L1248.6 81.2" stroke="#c98f5f"/><path d="M1249.4 80.5L1246.5 83.0" stroke="#c98f5f"/><path d="M1247.3 82.4L1244.3 84.8" stroke="#c98f5f"/><path d="M1245.1 84.2L1242.1 86.6" stroke="#c98f5f"/><path d="M1243.0 85.9L1240.0 88.3" stroke="#c98f5f"/><path d="M1240.8 87.7L1238.0 90.0" stroke="#c98f5f"/></g>
<g fill="none" stroke-width="15" stroke-linecap="butt"><path d="M1345.5 6.0L1345.6 8.9" stroke="#e8ac4d"/><path d="M1345.5 7.9L1345.6 11.6" stroke="#e8ad4f"/><path d="M1345.6 10.6L1345.7 14.3" stroke="#e8ae51"/><path d="M1345.6 13.3L1345.7 17.0" stroke="#e8af53"/><path d="M1345.7 16.0L1345.8 19.7" stroke="#e8b055"/><path d="M1345.7 18.7L1345.8 22.4" stroke="#e9b156"/><path d="M1345.8 21.4L1345.9 25.1" stroke="#e9b258"/><path d="M1345.8 24.1L1345.9 27.8" stroke="#e9b35a"/><path d="M1345.9 26.8L1346.0 30.5" stroke="#e9b45c"/><path d="M1345.9 29.5L1346.0 33.0" stroke="#e9b55e"/></g>
<g fill="none" stroke-width="15" stroke-linecap="butt"><path d="M1356.5 68.0L1357.4 71.1" stroke="#f1d39f"/><path d="M1357.2 70.1L1358.2 74.0" stroke="#f1d3a0"/><path d="M1357.9 73.0L1358.9 76.9" stroke="#f1d4a1"/><path d="M1358.6 75.9L1359.9 79.7" stroke="#f1d4a1"/><path d="M1359.5 78.8L1361.1 82.5" stroke="#f1d4a2"/><path d="M1360.6 81.6L1362.7 85.0" stroke="#f2d5a3"/><path d="M1362.1 84.2L1364.5 87.4" stroke="#f2d5a3"/><path d="M1363.8 86.6L1366.4 89.7" stroke="#f2d5a4"/><path d="M1365.7 88.9L1368.5 91.8" stroke="#f2d5a5"/><path d="M1367.8 91.1L1370.7 93.8" stroke="#f2d6a5"/><path d="M1369.9 93.1L1373.0 95.7" stroke="#f2d6a6"/><path d="M1372.2 95.1L1375.4 97.6" stroke="#f2d6a7"/><path d="M1374.6 96.9L1377.8 99.3" stroke="#f2d7a7"/><path d="M1377.0 98.7L1380.3 101.0" stroke="#f2d7a8"/><path d="M1379.4 100.4L1382.8 102.7" stroke="#f2d7a9"/><path d="M1381.9 102.1L1385.3 104.2" stroke="#f2d8aa"/><path d="M1384.4 103.7L1387.9 105.8" stroke="#f3d8aa"/><path d="M1387.0 105.3L1390.5 107.2" stroke="#f3d8ab"/><path d="M1389.6 106.7L1393.2 108.6" stroke="#f3d8ac"/><path d="M1392.2 108.2L1395.8 110.0" stroke="#f3d9ac"/><path d="M1394.9 109.5L1398.5 111.3" stroke="#f3d9ad"/><path d="M1397.6 110.9L1401.2 112.6" stroke="#f3d9ae"/><path d="M1400.3 112.1L1404.0 113.8" stroke="#f3daae"/><path d="M1403.0 113.4L1406.7 114.9" stroke="#f3daaf"/><path d="M1405.8 114.5L1409.5 116.0" stroke="#f3dab0"/><path d="M1408.6 115.6L1412.3 117.0" stroke="#f3dab0"/><path d="M1411.4 116.7L1415.1 118.1" stroke="#f4dbb1"/><path d="M1414.2 117.7L1417.9 119.1" stroke="#f4dbb2"/><path d="M1417.0 118.7L1420.7 120.1" stroke="#f4dbb2"/><path d="M1419.8 119.8L1423.6 121.2" stroke="#f4dcb3"/><path d="M1422.6 120.8L1426.4 122.3" stroke="#f4dcb4"/><path d="M1425.4 121.9L1429.1 123.3" stroke="#f4dcb4"/><path d="M1428.2 123.0L1431.9 124.5" stroke="#f4dcb5"/><path d="M1431.0 124.1L1434.7 125.6" stroke="#f4ddb6"/><path d="M1433.7 125.2L1437.4 126.8" stroke="#f4ddb7"/><path d="M1436.5 126.4L1440.1 128.1" stroke="#f4ddb7"/><path d="M1439.2 127.6L1442.8 129.4" stroke="#f4deb8"/><path d="M1441.9 128.9L1445.5 130.7" stroke="#f4deb9"/><path d="M1444.6 130.2L1448.2 132.0" stroke="#f4deba"/><path d="M1447.3 131.6L1450.9 133.4" stroke="#f5dfbb"/><path d="M1449.9 132.9L1453.5 134.8" stroke="#f5dfbb"/><path d="M1452.6 134.3L1456.2 136.2" stroke="#f5dfbc"/><path d="M1455.2 135.7L1458.8 137.6" stroke="#f5e0bd"/><path d="M1457.9 137.1L1461.4 139.0" stroke="#f5e0be"/><path d="M1460.5 138.5L1464.0 140.5" stroke="#f5e0be"/><path d="M1463.1 140.0L1466.6 141.9" stroke="#f5e1bf"/><path d="M1465.7 141.4L1469.2 143.4" stroke="#f5e1c0"/><path d="M1468.3 142.9L1471.8 145.0" stroke="#f5e1c1"/><path d="M1470.9 144.4L1474.4 146.5" stroke="#f5e2c2"/><path d="M1473.5 146.0L1476.9 148.1" stroke="#f5e2c2"/><path d="M1476.1 147.5L1479.5 149.7" stroke="#f5e2c3"/><path d="M1478.6 149.1L1482.0 151.3" stroke="#f5e3c4"/><path d="M1481.1 150.7L1484.4 153.0" stroke="#f5e3c5"/><path d="M1483.6 152.4L1486.8 154.8" stroke="#f5e3c5"/><path d="M1486.0 154.2L1489.2 156.6" stroke="#f6e4c6"/><path d="M1488.4 156.0L1491.5 158.5" stroke="#f6e4c7"/><path d="M1490.7 157.8L1493.8 160.4" stroke="#f6e4c8"/><path d="M1493.0 159.8L1496.1 162.4" stroke="#f6e5c9"/><path d="M1495.3 161.7L1498.3 164.4" stroke="#f6e5c9"/><path d="M1497.5 163.7L1500.6 166.3" stroke="#f6e5ca"/><path d="M1499.8 165.7L1502.9 168.3" stroke="#f6e6cb"/><path d="M1502.1 167.6L1505.0 170.0" stroke="#f6e6cc"/></g>
<g fill="none" stroke-width="18" stroke-linecap="butt"><path d="M1333.0 35.0L1333.0 38.2" stroke="#e39c29"/><path d="M1333.0 37.1L1332.9 41.1" stroke="#e39c27"/><path d="M1332.9 40.1L1332.9 44.1" stroke="#e29a24"/><path d="M1332.9 43.0L1332.8 47.0" stroke="#e29a22"/><path d="M1332.8 46.0L1332.8 50.0" stroke="#e29820"/><path d="M1332.8 48.9L1332.8 52.9" stroke="#e2981e"/><path d="M1332.8 51.9L1332.9 55.8" stroke="#e1961b"/><path d="M1332.8 54.8L1333.1 58.8" stroke="#e19619"/><path d="M1333.0 57.7L1333.3 61.7" stroke="#e19417"/><path d="M1333.2 60.7L1333.6 64.6" stroke="#e19415"/><path d="M1333.5 63.6L1333.9 67.6" stroke="#e09212"/><path d="M1333.8 66.5L1334.3 70.5" stroke="#e09210"/><path d="M1334.2 69.4L1334.9 73.4" stroke="#e0910f"/><path d="M1334.7 72.3L1335.5 76.2" stroke="#e0910f"/><path d="M1335.2 75.2L1336.3 79.1" stroke="#e09210"/><path d="M1336.0 78.1L1337.3 81.8" stroke="#e09210"/><path d="M1336.9 80.9L1338.5 84.5" stroke="#e09210"/><path d="M1338.1 83.6L1339.9 87.1" stroke="#e19311"/><path d="M1339.4 86.2L1341.4 89.6" stroke="#e19311"/><path d="M1340.9 88.8L1343.1 92.1" stroke="#e19311"/><path d="M1342.5 91.2L1344.8 94.5" stroke="#e19311"/><path d="M1344.1 93.7L1346.6 96.8" stroke="#e19412"/><path d="M1345.9 96.0L1348.5 99.0" stroke="#e19412"/><path d="M1347.8 98.3L1350.6 101.1" stroke="#e19412"/><path d="M1349.8 100.4L1352.9 102.9" stroke="#e19412"/><path d="M1352.0 102.3L1355.4 104.5" stroke="#e29513"/><path d="M1354.5 104.0L1358.0 105.8" stroke="#e29513"/><path d="M1357.1 105.4L1360.8 106.9" stroke="#e29513"/><path d="M1359.8 106.5L1363.5 107.9" stroke="#e29614"/><path d="M1362.6 107.5L1366.0 109.0" stroke="#e29614"/></g>
<g fill="none" stroke-width="16" stroke-linecap="butt"><path d="M1378.0 99.5L1381.0 100.2" stroke="#1372b3"/><path d="M1380.0 100.0L1383.8 100.9" stroke="#1372b3"/><path d="M1382.8 100.7L1386.7 101.6" stroke="#1473b4"/><path d="M1385.6 101.3L1389.5 102.3" stroke="#1473b4"/><path d="M1388.5 102.0L1392.3 102.9" stroke="#1473b4"/><path d="M1391.3 102.7L1395.1 103.7" stroke="#1474b4"/><path d="M1394.1 103.4L1397.9 104.4" stroke="#1574b5"/><path d="M1396.9 104.1L1400.6 105.2" stroke="#1574b5"/><path d="M1399.6 104.9L1403.4 106.0" stroke="#1575b5"/><path d="M1402.4 105.7L1406.2 106.8" stroke="#1575b5"/><path d="M1405.2 106.5L1409.0 107.6" stroke="#1675b6"/><path d="M1408.0 107.3L1411.7 108.5" stroke="#1676b6"/><path d="M1410.7 108.1L1414.5 109.3" stroke="#1676b6"/><path d="M1413.5 109.0L1417.2 110.2" stroke="#1877b7"/><path d="M1416.2 109.9L1420.0 111.1" stroke="#1a79b8"/><path d="M1419.0 110.8L1422.7 112.1" stroke="#1b7ab9"/><path d="M1421.7 111.8L1425.4 113.1" stroke="#1d7cba"/><path d="M1424.4 112.8L1428.0 114.2" stroke="#1f7dbc"/><path d="M1427.1 113.8L1430.7 115.4" stroke="#217fbd"/><path d="M1429.7 115.0L1433.3 116.7" stroke="#2280be"/><path d="M1432.4 116.2L1435.9 117.9" stroke="#2482bf"/><path d="M1435.0 117.5L1438.5 119.2" stroke="#2683c0"/><path d="M1437.5 118.8L1441.0 120.6" stroke="#2884c1"/><path d="M1440.1 120.1L1443.6 121.8" stroke="#2986c2"/><path d="M1442.7 121.4L1446.0 123.0" stroke="#2b87c3"/></g>
<g fill="none" stroke-width="16" stroke-linecap="butt"><path d="M1434.0 122.0L1436.8 123.3" stroke="#e6a030"/><path d="M1435.9 122.9L1439.5 124.5" stroke="#e6a030"/><path d="M1438.5 124.1L1442.1 125.7" stroke="#e6a030"/><path d="M1441.1 125.3L1444.7 126.9" stroke="#e6a02f"/><path d="M1443.8 126.5L1447.3 128.1" stroke="#e6a02f"/><path d="M1446.4 127.7L1450.0 129.3" stroke="#e6a02f"/><path d="M1449.0 128.9L1452.6 130.5" stroke="#e6a02f"/><path d="M1451.7 130.1L1455.2 131.8" stroke="#e5a02f"/><path d="M1454.3 131.3L1457.8 133.0" stroke="#e5a02f"/><path d="M1456.9 132.5L1460.5 134.2" stroke="#e5a02f"/><path d="M1459.5 133.8L1463.1 135.4" stroke="#e5a02e"/><path d="M1462.1 135.0L1465.7 136.6" stroke="#e5a02e"/><path d="M1464.8 136.2L1468.3 137.8" stroke="#e5a02e"/><path d="M1467.4 137.4L1470.9 139.0" stroke="#e5a02e"/><path d="M1470.0 138.6L1473.6 140.3" stroke="#e5a02e"/><path d="M1472.6 139.8L1476.2 141.5" stroke="#e5a02e"/><path d="M1475.2 141.0L1478.8 142.8" stroke="#e5a02e"/><path d="M1477.9 142.3L1481.4 144.1" stroke="#e5a02d"/><path d="M1480.4 143.6L1483.9 145.4" stroke="#e5a02d"/><path d="M1483.0 144.9L1486.4 146.8" stroke="#e5a02d"/><path d="M1485.5 146.3L1488.9 148.3" stroke="#e4a02d"/><path d="M1488.0 147.8L1491.3 149.9" stroke="#e4a02d"/><path d="M1490.5 149.3L1493.7 151.5" stroke="#e4a02d"/><path d="M1492.9 150.9L1496.1 153.2" stroke="#e4a02d"/><path d="M1495.2 152.6L1498.4 154.8" stroke="#e4a02c"/><path d="M1497.6 154.2L1500.8 156.5" stroke="#e4a02c"/><path d="M1500.0 155.9L1503.0 158.0" stroke="#e4a02c"/></g>
<g fill="none" stroke-width="16" stroke-linecap="butt"><path d="M1503.0 176.0L1505.3 178.2" stroke="#cd7bc1"/><path d="M1504.6 177.5L1507.4 180.3" stroke="#ce7cc2"/><path d="M1506.7 179.6L1509.6 182.4" stroke="#ce7ec3"/><path d="M1508.8 181.7L1511.7 184.5" stroke="#cf80c4"/><path d="M1510.9 183.8L1513.8 186.6" stroke="#d081c5"/><path d="M1513.1 185.9L1516.0 188.7" stroke="#d083c5"/><path d="M1515.2 187.9L1518.2 190.7" stroke="#d184c6"/><path d="M1517.4 190.0L1520.4 192.7" stroke="#d186c7"/><path d="M1519.6 192.0L1522.7 194.6" stroke="#d287c8"/><path d="M1521.9 193.9L1525.0 196.4" stroke="#d289c8"/><path d="M1524.2 195.8L1527.5 198.1" stroke="#d38ac9"/><path d="M1526.6 197.5L1529.9 199.8" stroke="#d48cca"/><path d="M1529.0 199.3L1532.4 201.5" stroke="#d48ecb"/><path d="M1531.5 200.9L1534.9 203.1" stroke="#d58fcc"/><path d="M1534.0 202.6L1537.3 204.8" stroke="#d591cc"/><path d="M1536.5 204.2L1539.8 206.5" stroke="#d693cd"/><path d="M1539.0 205.9L1542.2 208.2" stroke="#d694ce"/><path d="M1541.4 207.6L1544.7 209.9" stroke="#d796cf"/><path d="M1543.8 209.3L1547.1 211.6" stroke="#d798d0"/><path d="M1546.3 211.0L1549.5 213.4" stroke="#d899d0"/><path d="M1548.7 212.8L1551.9 215.1" stroke="#d89bd1"/><path d="M1551.1 214.5L1554.3 216.9" stroke="#d99dd2"/><path d="M1553.5 216.3L1556.6 218.8" stroke="#d99fd3"/><path d="M1555.8 218.1L1558.8 220.8" stroke="#daa0d3"/><path d="M1558.1 220.0L1560.9 223.0" stroke="#daa2d4"/><path d="M1560.2 222.2L1562.7 225.3" stroke="#dba4d5"/><path d="M1562.1 224.5L1564.4 227.8" stroke="#dba5d6"/><path d="M1563.8 227.0L1566.0 230.0" stroke="#dca7d7"/></g>
<g fill="none" stroke-width="15" stroke-linecap="butt"><path d="M1578.0 265.0L1578.6 268.1" stroke="#ebc6e7"/><path d="M1578.4 267.1L1579.2 271.0" stroke="#ebc7e8"/><path d="M1579.0 270.0L1579.8 273.9" stroke="#ecc8e8"/><path d="M1579.6 272.8L1580.5 276.7" stroke="#ecc9e8"/><path d="M1580.2 275.7L1581.1 279.6" stroke="#eccae9"/><path d="M1580.9 278.6L1581.7 282.5" stroke="#edcbe9"/><path d="M1581.5 281.4L1582.3 285.3" stroke="#edcce9"/><path d="M1582.1 284.3L1582.9 288.2" stroke="#edcdea"/><path d="M1582.7 287.2L1583.4 291.1" stroke="#edceea"/><path d="M1583.2 290.1L1584.0 294.0" stroke="#eecfeb"/><path d="M1583.8 293.0L1584.5 296.9" stroke="#eed0eb"/><path d="M1584.3 295.8L1585.0 299.8" stroke="#eed1eb"/><path d="M1584.8 298.7L1585.4 302.7" stroke="#eed2ec"/><path d="M1585.3 301.6L1585.9 305.6" stroke="#efd3ec"/><path d="M1585.7 304.5L1586.3 308.5" stroke="#efd4ec"/><path d="M1586.1 307.4L1586.7 311.4" stroke="#efd5ed"/><path d="M1586.5 310.3L1587.1 314.3" stroke="#f0d6ed"/><path d="M1586.9 313.2L1587.5 317.2" stroke="#f0d7ee"/><path d="M1587.3 316.2L1587.8 320.1" stroke="#f0d8ee"/><path d="M1587.7 319.1L1588.2 323.0" stroke="#f0d9ee"/><path d="M1588.0 322.0L1588.5 325.9" stroke="#f1daef"/><path d="M1588.4 324.9L1588.8 328.8" stroke="#f1dbef"/><path d="M1588.7 327.8L1589.1 331.8" stroke="#f2dcf0"/><path d="M1589.0 330.7L1589.5 334.7" stroke="#f2def0"/><path d="M1589.3 333.6L1589.8 337.6" stroke="#f3dff1"/><path d="M1589.7 336.6L1590.1 340.5" stroke="#f3e1f2"/><path d="M1589.9 339.5L1590.3 343.4" stroke="#f4e2f2"/><path d="M1590.2 342.4L1590.6 346.4" stroke="#f4e3f3"/><path d="M1590.5 345.3L1590.9 349.3" stroke="#f5e5f4"/><path d="M1590.8 348.2L1591.1 352.2" stroke="#f5e6f4"/><path d="M1591.0 351.2L1591.3 355.1" stroke="#f6e8f5"/><path d="M1591.3 354.1L1591.6 358.1" stroke="#f7e9f6"/><path d="M1591.5 357.0L1591.8 361.0" stroke="#f7eaf6"/><path d="M1591.7 359.9L1592.0 363.9" stroke="#f8ecf7"/><path d="M1591.9 362.9L1592.2 366.8" stroke="#f8edf7"/><path d="M1592.2 365.8L1592.5 369.8" stroke="#f9eff8"/><path d="M1592.4 368.7L1592.7 372.7" stroke="#f9f0f9"/><path d="M1592.6 371.6L1592.9 375.6" stroke="#faf1f9"/><path d="M1592.8 374.6L1593.1 378.5" stroke="#faf3fa"/><path d="M1593.0 377.5L1593.3 381.5" stroke="#fbf4fb"/><path d="M1593.3 380.4L1593.6 384.4" stroke="#fcf6fb"/><path d="M1593.5 383.4L1593.8 387.3" stroke="#fcf7fc"/><path d="M1593.7 386.3L1594.0 390.0" stroke="#fdf8fd"/></g>
<g fill="none" stroke-width="16" stroke-linecap="butt"><path d="M1578.0 228.0L1579.1 231.0" stroke="#e09010"/><path d="M1578.8 230.0L1580.2 233.8" stroke="#e09111"/><path d="M1579.8 232.8L1581.2 236.5" stroke="#e09112"/><path d="M1580.9 235.6L1582.3 239.3" stroke="#e09113"/><path d="M1581.9 238.3L1583.3 242.1" stroke="#e09213"/><path d="M1583.0 241.1L1584.4 244.8" stroke="#e09214"/><path d="M1584.0 243.9L1585.4 247.6" stroke="#e19215"/><path d="M1585.1 246.6L1586.5 250.4" stroke="#e19316"/><path d="M1586.1 249.4L1587.5 253.2" stroke="#e19316"/><path d="M1587.2 252.2L1588.5 256.0" stroke="#e19317"/><path d="M1588.2 255.0L1589.5 258.7" stroke="#e19418"/><path d="M1589.2 257.8L1590.5 261.5" stroke="#e19419"/><path d="M1590.2 260.5L1591.5 264.3" stroke="#e1941a"/><path d="M1591.2 263.3L1592.5 267.1" stroke="#e1951a"/><path d="M1592.1 266.1L1593.4 269.9" stroke="#e1951b"/><path d="M1593.1 269.0L1594.3 272.8" stroke="#e1951c"/><path d="M1594.0 271.8L1595.3 275.6" stroke="#e1961d"/><path d="M1594.9 274.6L1596.2 278.4" stroke="#e2961d"/><path d="M1595.9 277.4L1597.1 281.2" stroke="#e2971e"/><path d="M1596.8 280.2L1598.1 284.0" stroke="#e2971f"/><path d="M1597.7 283.0L1599.0 286.8" stroke="#e29720"/><path d="M1598.7 285.8L1600.0 289.6" stroke="#e29820"/><path d="M1599.6 288.6L1600.9 292.4" stroke="#e29821"/><path d="M1600.6 291.4L1601.9 295.2" stroke="#e29822"/><path d="M1601.6 294.2L1603.0 298.0" stroke="#e29923"/><path d="M1602.6 297.0L1604.1 300.7" stroke="#e29924"/><path d="M1603.7 299.8L1605.2 303.5" stroke="#e29924"/><path d="M1604.8 302.5L1606.4 306.2" stroke="#e29a25"/><path d="M1606.0 305.2L1607.7 308.9" stroke="#e39a26"/><path d="M1607.2 307.9L1608.9 311.5" stroke="#e39a27"/><path d="M1608.5 310.6L1610.3 314.2" stroke="#e39b27"/><path d="M1609.8 313.3L1611.6 316.9" stroke="#e39b28"/><path d="M1611.1 315.9L1612.8 319.5" stroke="#e39b29"/><path d="M1612.4 318.6L1614.0 322.0" stroke="#e39c2a"/></g>
<g fill="none" stroke-width="17" stroke-linecap="butt"><path d="M1596.0 333.0L1597.1 336.0" stroke="#a0a0a0"/><path d="M1596.7 335.0L1598.2 338.7" stroke="#9f9f9f"/><path d="M1597.8 337.7L1599.2 341.4" stroke="#9e9e9e"/><path d="M1598.9 340.4L1600.3 344.1" stroke="#9d9d9d"/><path d="M1599.9 343.1L1601.4 346.8" stroke="#9c9c9c"/><path d="M1601.0 345.8L1602.4 349.5" stroke="#9b9b9b"/><path d="M1602.1 348.6L1603.4 352.3" stroke="#9a9a9a"/><path d="M1603.1 351.3L1604.4 355.0" stroke="#999999"/><path d="M1604.1 354.0L1605.3 357.8" stroke="#989898"/><path d="M1605.0 356.8L1606.2 360.6" stroke="#979797"/><path d="M1605.9 359.6L1606.9 363.4" stroke="#969696"/><path d="M1606.7 362.4L1607.6 366.2" stroke="#959595"/><path d="M1607.4 365.2L1608.2 369.1" stroke="#949494"/><path d="M1608.0 368.0L1608.8 371.9" stroke="#939393"/><path d="M1608.6 370.9L1609.4 374.8" stroke="#929292"/><path d="M1609.2 373.8L1609.9 377.6" stroke="#919191"/><path d="M1609.7 376.6L1610.4 380.5" stroke="#909090"/><path d="M1610.2 379.5L1611.0 383.4" stroke="#8f8f8f"/><path d="M1610.8 382.4L1611.5 386.0" stroke="#8e8e8e"/></g>
<g fill="none" stroke-width="16" stroke-linecap="butt"><path d="M1608.0 421.0L1607.9 424.0" stroke="#9a9a9a"/><path d="M1607.9 422.9L1607.9 426.7" stroke="#9a9a9a"/><path d="M1607.9 425.6L1607.8 429.4" stroke="#9a9a9a"/><path d="M1607.8 428.3L1607.7 432.1" stroke="#9a9a9a"/><path d="M1607.7 431.1L1607.6 434.8" stroke="#9a9a9a"/><path d="M1607.7 433.8L1607.6 437.5" stroke="#9a9a9a"/><path d="M1607.6 436.5L1607.5 440.0" stroke="#9a9a9a"/></g>
<g fill="none" stroke-width="17" stroke-linecap="butt"><path d="M1620.0 318.0L1622.2 320.2" stroke="#ece54f"/><path d="M1621.5 319.5L1624.3 322.3" stroke="#ece54e"/><path d="M1623.6 321.6L1626.4 324.3" stroke="#ece54e"/><path d="M1625.7 323.6L1628.5 326.4" stroke="#ece54d"/><path d="M1627.8 325.7L1630.6 328.5" stroke="#ece44d"/><path d="M1629.9 327.7L1632.7 330.5" stroke="#ece44c"/><path d="M1632.0 329.8L1634.8 332.6" stroke="#ece44c"/><path d="M1634.0 331.8L1636.9 334.6" stroke="#ece44b"/><path d="M1636.1 333.9L1638.9 336.7" stroke="#ece44a"/><path d="M1638.2 336.0L1641.0 338.8" stroke="#ece44a"/><path d="M1640.2 338.0L1643.0 340.9" stroke="#ece449"/><path d="M1642.3 340.1L1645.0 343.0" stroke="#ece349"/><path d="M1644.3 342.3L1647.0 345.2" stroke="#ece348"/><path d="M1646.3 344.4L1648.9 347.4" stroke="#ece348"/><path d="M1648.3 346.6L1650.9 349.6" stroke="#ece347"/><path d="M1650.2 348.8L1652.7 351.8" stroke="#ebe347"/><path d="M1652.1 351.1L1654.6 354.1" stroke="#ebe346"/><path d="M1653.9 353.3L1656.5 356.4" stroke="#ebe346"/><path d="M1655.8 355.6L1658.3 358.6" stroke="#ebe345"/><path d="M1657.7 357.8L1660.2 360.8" stroke="#ebe245"/><path d="M1659.6 360.1L1662.2 363.0" stroke="#ebe244"/><path d="M1661.5 362.3L1664.2 365.2" stroke="#ebe244"/><path d="M1663.5 364.4L1666.3 367.2" stroke="#ebe243"/><path d="M1665.5 366.5L1668.4 369.2" stroke="#ebe242"/><path d="M1667.6 368.5L1670.6 371.1" stroke="#ebe242"/><path d="M1669.8 370.5L1672.9 373.0" stroke="#ebe241"/><path d="M1672.1 372.3L1675.2 374.8" stroke="#ebe141"/><path d="M1674.4 374.1L1677.6 376.5" stroke="#ebe140"/><path d="M1676.8 375.9L1679.9 378.3" stroke="#ebe140"/><path d="M1679.1 377.7L1682.0 380.0" stroke="#ebe13f"/></g>
<g fill="none" stroke-width="12" stroke-linecap="butt"><path d="M1632.0 350.0L1634.3 352.2" stroke="#f4dec3"/><path d="M1633.6 351.5L1636.5 354.2" stroke="#f5e1c9"/><path d="M1635.7 353.5L1638.7 356.2" stroke="#f6e5cf"/><path d="M1637.9 355.5L1640.8 358.2" stroke="#f8e8d5"/><path d="M1640.1 357.5L1643.0 360.2" stroke="#f9ecdb"/><path d="M1642.2 359.5L1645.0 362.0" stroke="#faefe1"/></g>
<g fill="none" stroke-width="17" stroke-linecap="butt"><path d="M1606.0 476.0L1605.7 479.1" stroke="#5cb4e6"/><path d="M1605.8 478.0L1605.5 481.9" stroke="#61b6e7"/><path d="M1605.6 480.8L1605.3 484.7" stroke="#65b8e8"/><path d="M1605.4 483.7L1605.0 487.5" stroke="#6abae8"/><path d="M1605.1 486.5L1604.8 490.4" stroke="#6ebce9"/><path d="M1604.9 489.3L1604.6 493.2" stroke="#72beea"/><path d="M1604.7 492.1L1604.3 496.0" stroke="#77c0ea"/><path d="M1604.4 495.0L1604.1 498.8" stroke="#7bc2eb"/><path d="M1604.2 497.8L1603.9 501.7" stroke="#80c4ec"/><path d="M1603.9 500.6L1603.6 504.5" stroke="#84c6ec"/><path d="M1603.7 503.4L1603.4 507.3" stroke="#89c8ed"/><path d="M1603.5 506.3L1603.2 510.1" stroke="#8dcaee"/><path d="M1603.2 509.1L1602.9 512.9" stroke="#8bc9ed"/><path d="M1603.0 511.9L1602.7 515.8" stroke="#83c5ec"/><path d="M1602.8 514.7L1602.5 518.6" stroke="#7cc2ea"/><path d="M1602.5 517.6L1602.2 521.4" stroke="#75bee9"/><path d="M1602.3 520.4L1602.0 524.0" stroke="#6ebbe8"/></g>
<g fill="none" stroke-width="16" stroke-linecap="butt"><path d="M1586.0 523.0L1585.3 526.1" stroke="#e09011"/><path d="M1585.5 525.0L1584.6 528.9" stroke="#e09112"/><path d="M1584.8 527.9L1584.0 531.7" stroke="#e19214"/><path d="M1584.2 530.7L1583.3 534.6" stroke="#e19215"/><path d="M1583.6 533.5L1582.7 537.4" stroke="#e19317"/><path d="M1582.9 536.4L1582.1 540.2" stroke="#e19418"/><path d="M1582.3 539.2L1581.4 543.1" stroke="#e1941a"/><path d="M1581.6 542.0L1580.7 545.9" stroke="#e2951b"/><path d="M1581.0 544.9L1580.0 548.7" stroke="#e2951d"/><path d="M1580.2 547.7L1579.2 551.5" stroke="#e2961e"/><path d="M1579.5 550.5L1578.3 554.2" stroke="#e29720"/><path d="M1578.6 553.3L1577.3 557.0" stroke="#e29721"/><path d="M1577.7 556.0L1576.2 559.7" stroke="#e39823"/><path d="M1576.6 558.7L1575.0 562.3" stroke="#e39924"/><path d="M1575.5 561.4L1573.8 565.0" stroke="#e39926"/><path d="M1574.3 564.0L1572.5 567.6" stroke="#e39a27"/><path d="M1573.0 566.7L1571.2 570.2" stroke="#e49b29"/><path d="M1571.7 569.2L1569.8 572.7" stroke="#e49b2a"/><path d="M1570.3 571.8L1568.5 575.3" stroke="#e49c2c"/><path d="M1569.0 574.4L1567.1 577.9" stroke="#e49d2d"/><path d="M1567.6 576.9L1565.8 580.4" stroke="#e49d2f"/><path d="M1566.3 579.5L1564.4 583.0" stroke="#e59e30"/><path d="M1564.9 582.1L1563.0 585.6" stroke="#e59e32"/><path d="M1563.5 584.7L1561.6 588.1" stroke="#e59f33"/><path d="M1562.1 587.2L1560.2 590.6" stroke="#e5a035"/><path d="M1560.7 589.7L1558.7 593.2" stroke="#e5a036"/><path d="M1559.3 592.3L1557.3 595.7" stroke="#e6a138"/><path d="M1557.8 594.8L1556.0 598.0" stroke="#e6a239"/></g>
<g fill="none" stroke-width="10" stroke-linecap="butt"><path d="M1586.0 560.0L1584.5 562.8" stroke="#d0e6f5"/><path d="M1585.0 561.8L1583.2 565.3" stroke="#d1e7f5"/><path d="M1583.7 564.4L1581.9 567.9" stroke="#d2e8f6"/><path d="M1582.4 567.0L1580.5 570.5" stroke="#d4e8f6"/><path d="M1581.0 569.5L1579.2 573.0" stroke="#d5e9f6"/><path d="M1579.7 572.1L1577.9 575.6" stroke="#d6eaf7"/><path d="M1578.4 574.7L1576.6 578.1" stroke="#d7eaf7"/><path d="M1577.0 577.2L1575.2 580.7" stroke="#d9ebf7"/><path d="M1575.7 579.8L1573.8 583.2" stroke="#daecf7"/><path d="M1574.3 582.3L1572.4 585.8" stroke="#dbecf8"/><path d="M1573.0 584.9L1571.0 588.3" stroke="#dcedf8"/><path d="M1571.5 587.4L1569.5 590.8" stroke="#deeef8"/><path d="M1570.1 589.9L1568.0 593.2" stroke="#dfeef9"/><path d="M1568.6 592.3L1566.5 595.6" stroke="#e0eff9"/><path d="M1567.0 594.8L1564.8 598.0" stroke="#e2f0f9"/><path d="M1565.4 597.2L1563.2 600.4" stroke="#e3f0f9"/><path d="M1563.8 599.6L1561.5 602.8" stroke="#e4f1fa"/><path d="M1562.1 601.9L1559.9 605.1" stroke="#e6f2fa"/><path d="M1560.5 604.3L1558.2 607.5" stroke="#e7f2fa"/><path d="M1558.8 606.6L1556.5 609.8" stroke="#e8f3fb"/><path d="M1557.1 609.0L1555.0 612.0" stroke="#e9f4fb"/></g>
<g fill="none" stroke-width="14" stroke-linecap="butt"><path d="M1548.0 597.0L1550.6 595.3" stroke="#c978bd"/><path d="M1549.8 595.9L1553.1 593.7" stroke="#c978bd"/><path d="M1552.2 594.3L1555.5 592.2" stroke="#c978bd"/><path d="M1554.6 592.7L1557.9 590.6" stroke="#c978bd"/><path d="M1557.0 591.1L1560.3 589.0" stroke="#c978bd"/><path d="M1559.5 589.6L1562.8 587.4" stroke="#c978bd"/><path d="M1561.9 588.0L1565.0 586.0" stroke="#c978bd"/></g>
<g fill="none" stroke-width="14" stroke-linecap="butt"><path d="M1586.0 560.0L1583.9 562.4" stroke="#e4a43c"/><path d="M1584.6 561.6L1582.0 564.6" stroke="#e4a43d"/><path d="M1582.7 563.8L1580.1 566.8" stroke="#e4a53d"/><path d="M1580.8 566.0L1578.2 569.0" stroke="#e4a53e"/><path d="M1578.9 568.2L1576.2 571.1" stroke="#e5a53e"/><path d="M1576.9 570.4L1574.3 573.3" stroke="#e5a53f"/><path d="M1575.0 572.5L1572.3 575.5" stroke="#e5a63f"/><path d="M1573.1 574.7L1570.4 577.6" stroke="#e5a640"/><path d="M1571.1 576.9L1568.4 579.7" stroke="#e5a640"/><path d="M1569.1 579.0L1566.3 581.8" stroke="#e5a640"/><path d="M1567.1 581.1L1564.3 583.9" stroke="#e5a641"/><path d="M1565.0 583.1L1562.2 585.9" stroke="#e5a741"/><path d="M1562.9 585.2L1560.1 588.0" stroke="#e5a742"/><path d="M1560.9 587.3L1558.0 590.0" stroke="#e6a742"/><path d="M1558.8 589.3L1556.0 592.1" stroke="#e6a743"/><path d="M1556.7 591.3L1553.9 594.1" stroke="#e6a843"/><path d="M1554.6 593.4L1552.0 596.0" stroke="#e6a844"/></g>
<g fill="none" stroke-width="16" stroke-linecap="butt"><path d="M1462.0 651.0L1465.0 649.8" stroke="#dfa7d9"/><path d="M1464.0 650.2L1467.7 648.6" stroke="#dea6d8"/><path d="M1466.7 649.0L1470.4 647.5" stroke="#dda5d7"/><path d="M1469.5 647.9L1473.2 646.4" stroke="#dda3d7"/><path d="M1472.2 646.8L1475.9 645.3" stroke="#dca2d6"/><path d="M1475.0 645.7L1478.7 644.2" stroke="#dca1d5"/><path d="M1477.7 644.6L1481.4 643.0" stroke="#dba0d4"/><path d="M1480.5 643.4L1484.2 641.9" stroke="#da9ed4"/><path d="M1483.2 642.3L1486.9 640.7" stroke="#da9dd3"/><path d="M1485.9 641.1L1489.6 639.5" stroke="#d99cd2"/><path d="M1488.7 639.9L1492.3 638.3" stroke="#d89ad2"/><path d="M1491.4 638.7L1495.0 637.0" stroke="#d899d1"/><path d="M1494.1 637.5L1497.7 635.7" stroke="#d798d0"/><path d="M1496.7 636.2L1500.3 634.3" stroke="#d797cf"/><path d="M1499.4 634.8L1502.9 632.9" stroke="#d695cf"/><path d="M1502.0 633.4L1505.5 631.5" stroke="#d594ce"/><path d="M1504.6 632.0L1508.1 630.1" stroke="#d593cd"/><path d="M1507.2 630.6L1510.7 628.6" stroke="#d491cd"/><path d="M1509.8 629.2L1513.3 627.2" stroke="#d390cc"/><path d="M1512.4 627.7L1515.9 625.7" stroke="#d38fcb"/><path d="M1515.0 626.2L1518.4 624.2" stroke="#d28eca"/><path d="M1517.5 624.7L1521.0 622.8" stroke="#d28cca"/><path d="M1520.1 623.3L1523.6 621.3" stroke="#d18bc9"/><path d="M1522.7 621.8L1526.0 620.0" stroke="#d08ac8"/></g>
<g fill="none" stroke-width="14" stroke-linecap="butt"><path d="M1500.0 660.0L1502.5 658.3" stroke="#f4dcb7"/><path d="M1501.6 658.9L1504.8 656.8" stroke="#f4dbb5"/><path d="M1503.9 657.4L1507.1 655.3" stroke="#f3dab3"/><path d="M1506.3 655.8L1509.4 653.7" stroke="#f3d9b1"/><path d="M1508.6 654.3L1511.7 652.2" stroke="#f3d9af"/><path d="M1510.9 652.8L1514.0 650.6" stroke="#f3d8ad"/><path d="M1513.2 651.2L1516.4 649.1" stroke="#f2d7ac"/><path d="M1515.5 649.7L1518.7 647.6" stroke="#f2d6aa"/><path d="M1517.8 648.1L1521.0 646.0" stroke="#f2d5a8"/><path d="M1520.1 646.6L1523.3 644.5" stroke="#f2d5a6"/><path d="M1522.4 645.1L1525.6 642.9" stroke="#f2d4a4"/><path d="M1524.7 643.5L1527.9 641.4" stroke="#f1d3a2"/><path d="M1527.0 642.0L1530.0 640.0" stroke="#f1d2a0"/></g>
<g fill="none" stroke-width="16" stroke-linecap="butt"><path d="M1427.0 667.0L1424.1 668.2" stroke="#e6c3e4"/><path d="M1425.0 667.8L1421.4 669.3" stroke="#e7c4e5"/><path d="M1422.4 668.9L1418.7 670.4" stroke="#e7c5e5"/><path d="M1419.7 670.0L1416.0 671.6" stroke="#e8c6e6"/><path d="M1417.0 671.2L1413.4 672.7" stroke="#e8c8e7"/><path d="M1414.3 672.3L1410.7 673.8" stroke="#e9c9e7"/><path d="M1411.6 673.4L1408.0 674.9" stroke="#e9cae8"/><path d="M1408.9 674.5L1405.3 676.0" stroke="#eacbe8"/><path d="M1406.2 675.6L1402.6 677.0" stroke="#eacce9"/><path d="M1403.5 676.7L1399.8 678.1" stroke="#ebceea"/><path d="M1400.8 677.7L1397.1 679.1" stroke="#ebcfea"/><path d="M1398.1 678.7L1394.4 680.0" stroke="#ecd0eb"/><path d="M1395.3 679.7L1391.6 681.0" stroke="#ecd1eb"/><path d="M1392.6 680.6L1388.8 681.9" stroke="#edd3ec"/><path d="M1389.8 681.6L1386.1 682.8" stroke="#edd4ec"/><path d="M1387.1 682.5L1383.3 683.7" stroke="#eed5ed"/><path d="M1384.3 683.4L1380.5 684.6" stroke="#eed6ed"/><path d="M1381.5 684.3L1377.8 685.5" stroke="#efd7ee"/><path d="M1378.8 685.2L1375.0 686.4" stroke="#efd8ee"/><path d="M1376.0 686.1L1372.2 687.3" stroke="#efd9ee"/><path d="M1373.2 686.9L1369.5 688.2" stroke="#f0daef"/><path d="M1370.5 687.9L1366.7 689.1" stroke="#f0daef"/><path d="M1367.7 688.8L1363.9 690.0" stroke="#f0dbef"/><path d="M1364.9 689.7L1361.2 690.9" stroke="#f1dcf0"/><path d="M1362.2 690.5L1358.4 691.8" stroke="#f1ddf0"/><path d="M1359.4 691.4L1355.6 692.6" stroke="#f1def0"/><path d="M1356.6 692.3L1352.9 693.5" stroke="#f2dff1"/><path d="M1353.8 693.2L1350.1 694.4" stroke="#f2e0f1"/><path d="M1351.1 694.1L1347.3 695.3" stroke="#f2e1f1"/><path d="M1348.3 695.0L1344.5 696.2" stroke="#f3e2f2"/><path d="M1345.5 695.9L1342.0 697.0" stroke="#f3e3f2"/></g>
<g fill="none" stroke-width="16" stroke-linecap="butt"><path d="M1458.0 681.0L1460.8 679.4" stroke="#1372b3"/><path d="M1459.9 679.9L1463.4 677.9" stroke="#1372b3"/><path d="M1462.5 678.4L1466.0 676.4" stroke="#1372b3"/><path d="M1465.1 676.9L1468.5 674.9" stroke="#1372b3"/><path d="M1467.6 675.4L1471.1 673.4" stroke="#1372b3"/><path d="M1470.2 673.9L1473.7 671.9" stroke="#1372b3"/><path d="M1472.8 672.4L1476.3 670.4" stroke="#1372b3"/><path d="M1475.4 670.9L1478.8 668.8" stroke="#1372b3"/><path d="M1477.9 669.3L1481.3 667.1" stroke="#1372b3"/><path d="M1480.4 667.7L1483.8 665.5" stroke="#1372b3"/><path d="M1482.9 666.1L1486.2 663.7" stroke="#1372b3"/><path d="M1485.4 664.4L1488.6 662.0" stroke="#1372b3"/><path d="M1487.8 662.6L1491.0 660.2" stroke="#1372b3"/><path d="M1490.2 660.8L1493.4 658.4" stroke="#1372b3"/><path d="M1492.6 659.0L1495.8 656.6" stroke="#1372b3"/><path d="M1494.9 657.2L1498.0 655.0" stroke="#1372b3"/></g>
<g fill="none" stroke-width="14" stroke-linecap="butt"><path d="M1426.0 697.0L1423.1 698.4" stroke="#7ebde3"/><path d="M1424.0 698.0L1420.4 699.7" stroke="#80bee4"/><path d="M1421.3 699.3L1417.7 701.1" stroke="#82bfe4"/><path d="M1418.6 700.6L1415.0 702.4" stroke="#85c0e5"/><path d="M1416.0 701.9L1412.3 703.7" stroke="#87c1e5"/><path d="M1413.3 703.3L1409.6 705.0" stroke="#89c2e6"/><path d="M1410.5 704.5L1406.9 706.2" stroke="#8bc3e7"/><path d="M1407.8 705.8L1404.1 707.4" stroke="#8ec5e7"/><path d="M1405.1 707.0L1401.3 708.5" stroke="#90c6e8"/><path d="M1402.3 708.1L1398.5 709.5" stroke="#92c7e8"/><path d="M1399.5 709.2L1395.7 710.5" stroke="#94c8e9"/><path d="M1396.7 710.2L1392.8 711.5" stroke="#96c9e9"/><path d="M1393.8 711.2L1390.0 712.4" stroke="#98caea"/><path d="M1391.0 712.1L1387.1 713.3" stroke="#9bccea"/><path d="M1388.1 713.0L1384.3 714.2" stroke="#9dcdeb"/><path d="M1385.3 713.9L1381.4 715.1" stroke="#9fceec"/><path d="M1382.4 714.8L1378.5 715.9" stroke="#a1cfec"/><path d="M1379.5 715.6L1375.6 716.6" stroke="#a4d0ed"/><path d="M1376.6 716.3L1372.7 717.3" stroke="#a6d1ed"/><path d="M1373.7 717.1L1370.0 718.0" stroke="#a8d2ee"/></g>
<g fill="none" stroke-width="16.5" stroke-linecap="butt"><path d="M1320.0 772.0L1321.2 769.0" stroke="#e9b457"/><path d="M1320.9 770.0L1322.3 766.3" stroke="#e9b355"/><path d="M1321.9 767.3L1323.4 763.5" stroke="#e8b253"/><path d="M1323.0 764.5L1324.5 760.8" stroke="#e8b151"/><path d="M1324.1 761.7L1325.8 758.1" stroke="#e8b04f"/><path d="M1325.3 759.0L1327.2 755.5" stroke="#e8af4e"/><path d="M1326.7 756.4L1328.8 753.0" stroke="#e7ae4c"/><path d="M1328.2 753.9L1330.4 750.5" stroke="#e7ad4a"/><path d="M1329.8 751.4L1332.2 748.1" stroke="#e7ac48"/><path d="M1331.5 749.0L1334.0 745.8" stroke="#e7ab46"/><path d="M1333.3 746.6L1336.0 743.6" stroke="#e6aa44"/><path d="M1335.3 744.4L1338.0 741.4" stroke="#e6a942"/><path d="M1337.3 742.2L1340.1 739.4" stroke="#e6a840"/><path d="M1339.4 740.1L1342.3 737.4" stroke="#e6a73e"/><path d="M1341.5 738.1L1344.6 735.5" stroke="#e6a63c"/><path d="M1343.8 736.2L1346.9 733.7" stroke="#e5a53a"/><path d="M1346.1 734.3L1349.3 731.9" stroke="#e5a439"/><path d="M1348.5 732.5L1351.7 730.2" stroke="#e5a337"/><path d="M1350.8 730.8L1354.1 728.5" stroke="#e5a235"/><path d="M1353.3 729.0L1356.6 726.8" stroke="#e4a133"/><path d="M1355.7 727.4L1359.0 725.1" stroke="#e4a031"/><path d="M1358.2 725.7L1361.5 723.5" stroke="#e4a02f"/><path d="M1360.6 724.1L1364.0 722.0" stroke="#e49f2e"/><path d="M1363.1 722.5L1366.6 720.5" stroke="#e49e2c"/><path d="M1365.7 721.0L1369.2 719.1" stroke="#e39d2b"/><path d="M1368.3 719.6L1371.8 717.6" stroke="#e39d29"/><path d="M1370.9 718.1L1374.4 716.2" stroke="#e39c28"/><path d="M1373.5 716.7L1377.0 714.7" stroke="#e39b26"/><path d="M1376.1 715.3L1379.5 713.3" stroke="#e39a25"/><path d="M1378.6 713.8L1382.1 711.7" stroke="#e29a23"/><path d="M1381.2 712.3L1384.6 710.1" stroke="#e29922"/><path d="M1383.7 710.7L1387.0 708.5" stroke="#e29820"/><path d="M1386.2 709.1L1389.5 706.8" stroke="#e2971e"/><path d="M1388.6 707.4L1391.9 705.1" stroke="#e2961d"/><path d="M1391.1 705.7L1394.3 703.4" stroke="#e1961b"/><path d="M1393.5 704.0L1396.7 701.7" stroke="#e1951a"/><path d="M1395.9 702.3L1399.2 700.0" stroke="#e19418"/><path d="M1398.3 700.6L1401.6 698.3" stroke="#e19317"/><path d="M1400.7 698.9L1404.0 696.5" stroke="#e19315"/><path d="M1403.1 697.1L1406.4 694.8" stroke="#e09214"/><path d="M1405.5 695.4L1408.8 693.1" stroke="#e09112"/><path d="M1407.9 693.7L1411.0 691.5" stroke="#e09011"/></g>
<path d="M1327.6 777.2 L1338.5 774.0 L1348.0 805.0 L1329.0 805.0Z" fill="#c978bd" stroke="#c978bd" stroke-width="0"/>
<g fill="none" stroke-width="16" stroke-linecap="butt"><path d="M1257.0 793.0L1257.2 795.8" stroke="#dba0d6"/><path d="M1257.1 794.8L1257.4 798.4" stroke="#dba0d6"/><path d="M1257.3 797.4L1257.6 801.0" stroke="#dba0d6"/><path d="M1257.5 800.0L1257.8 803.6" stroke="#dba0d6"/><path d="M1257.7 802.6L1258.0 806.0" stroke="#dba0d6"/></g>
<g fill="none" stroke-width="16" stroke-linecap="butt"><path d="M1235.0 722.0L1236.9 724.5" stroke="#f3dbf0"/><path d="M1236.3 723.7L1238.7 726.7" stroke="#f2d9ef"/><path d="M1238.1 725.9L1240.6 729.0" stroke="#f1d7ee"/><path d="M1239.9 728.2L1242.3 731.3" stroke="#f0d4ed"/><path d="M1241.7 730.4L1244.0 733.6" stroke="#f0d2ec"/><path d="M1243.4 732.8L1245.5 736.1" stroke="#efd0eb"/><path d="M1245.0 735.2L1246.8 738.7" stroke="#eeceea"/><path d="M1246.4 737.7L1247.9 741.4" stroke="#edcce9"/><path d="M1247.5 740.4L1248.8 744.1" stroke="#eccae8"/><path d="M1248.5 743.1L1249.6 746.9" stroke="#ecc8e7"/><path d="M1249.3 745.9L1250.4 749.7" stroke="#ebc5e6"/><path d="M1250.1 748.7L1251.2 752.5" stroke="#eac3e5"/><path d="M1250.9 751.5L1252.0 755.0" stroke="#e9c1e4"/></g>
<g fill="none" stroke-width="15.5" stroke-linecap="butt"><path d="M1268.0 712.0L1271.1 711.6" stroke="#6dbde9"/><path d="M1270.1 711.7L1274.1 711.3" stroke="#6cbce9"/><path d="M1273.0 711.4L1277.0 711.0" stroke="#6bbce9"/><path d="M1275.9 711.1L1279.9 710.7" stroke="#6abce9"/><path d="M1278.9 710.8L1282.8 710.4" stroke="#6abbe8"/><path d="M1281.8 710.5L1285.7 710.0" stroke="#69bbe8"/><path d="M1284.7 710.2L1288.6 709.7" stroke="#68bae8"/><path d="M1287.6 709.8L1291.5 709.3" stroke="#68bae8"/><path d="M1290.5 709.5L1294.4 708.9" stroke="#67bae8"/><path d="M1293.4 709.1L1297.3 708.4" stroke="#66b9e8"/><path d="M1296.3 708.6L1300.2 708.0" stroke="#65b9e8"/><path d="M1299.2 708.1L1303.1 707.4" stroke="#65b9e8"/><path d="M1302.1 707.6L1306.0 706.9" stroke="#64b8e8"/><path d="M1305.0 707.1L1308.9 706.3" stroke="#63b8e7"/><path d="M1307.8 706.5L1311.7 705.7" stroke="#62b7e7"/><path d="M1310.7 706.0L1314.6 705.1" stroke="#62b7e7"/><path d="M1313.6 705.4L1317.5 704.5" stroke="#61b7e7"/><path d="M1316.4 704.8L1320.3 703.9" stroke="#60b6e7"/><path d="M1319.3 704.1L1323.2 703.3" stroke="#5fb6e7"/><path d="M1322.2 703.5L1326.1 702.7" stroke="#5fb6e7"/><path d="M1325.0 702.9L1328.9 702.0" stroke="#5eb5e7"/><path d="M1327.9 702.3L1331.8 701.4" stroke="#5db5e7"/><path d="M1330.8 701.6L1334.6 700.8" stroke="#5db4e6"/><path d="M1333.6 701.0L1337.5 700.2" stroke="#5cb4e6"/><path d="M1336.5 700.4L1340.4 699.6" stroke="#5bb4e6"/><path d="M1339.4 699.8L1343.0 699.0" stroke="#5ab3e6"/></g>
<g fill="none" stroke-width="15" stroke-linecap="butt"><path d="M1027.0 548.0L1028.1 551.0" stroke="#e9f4fc"/><path d="M1027.7 550.0L1029.0 553.8" stroke="#e8f3fc"/><path d="M1028.7 552.8L1030.0 556.6" stroke="#e7f3fc"/><path d="M1029.7 555.6L1031.0 559.4" stroke="#e6f3fb"/><path d="M1030.6 558.4L1032.0 562.2" stroke="#e5f2fb"/><path d="M1031.6 561.2L1032.9 565.0" stroke="#e5f2fb"/><path d="M1032.6 564.0L1033.9 567.8" stroke="#e4f1fb"/><path d="M1033.6 566.8L1034.9 570.6" stroke="#e3f1fb"/><path d="M1034.6 569.6L1035.8 573.4" stroke="#e2f1fa"/><path d="M1035.5 572.4L1036.8 576.2" stroke="#e1f0fa"/><path d="M1036.4 575.2L1037.7 579.0" stroke="#e1f0fa"/><path d="M1037.4 578.0L1038.7 581.8" stroke="#e0effa"/><path d="M1038.3 580.8L1039.7 584.6" stroke="#dfeffa"/><path d="M1039.3 583.6L1040.8 587.3" stroke="#deeffa"/><path d="M1040.4 586.4L1042.0 590.1" stroke="#ddeef9"/><path d="M1041.6 589.1L1043.3 592.7" stroke="#ddeef9"/><path d="M1042.8 591.8L1044.6 595.4" stroke="#dcedf9"/><path d="M1044.1 594.5L1046.0 598.0" stroke="#dbedf9"/><path d="M1045.5 597.1L1047.4 600.6" stroke="#daedf9"/><path d="M1046.9 599.7L1048.9 603.2" stroke="#d9ecf9"/><path d="M1048.3 602.3L1050.4 605.7" stroke="#d9ecf8"/><path d="M1049.9 604.8L1052.1 608.2" stroke="#d8ebf8"/><path d="M1051.5 607.3L1053.7 610.6" stroke="#d7ebf8"/><path d="M1053.1 609.8L1055.4 613.0" stroke="#d8ebf8"/><path d="M1054.8 612.2L1057.2 615.4" stroke="#d8ecf8"/><path d="M1056.6 614.6L1058.9 617.8" stroke="#d9ecf8"/><path d="M1058.3 617.0L1060.7 620.2" stroke="#d9ecf8"/><path d="M1060.1 619.3L1062.6 622.5" stroke="#daedf9"/><path d="M1061.9 621.7L1064.4 624.8" stroke="#daedf9"/><path d="M1063.7 624.0L1066.3 627.1" stroke="#dbedf9"/><path d="M1065.6 626.3L1068.2 629.4" stroke="#dcedf9"/><path d="M1067.5 628.6L1070.1 631.6" stroke="#dceef9"/><path d="M1069.4 630.9L1072.1 633.8" stroke="#ddeef9"/><path d="M1071.4 633.1L1074.1 636.0" stroke="#ddeef9"/><path d="M1073.4 635.3L1076.1 638.2" stroke="#deeff9"/><path d="M1075.4 637.4L1078.2 640.3" stroke="#deeffa"/><path d="M1077.5 639.5L1080.3 642.3" stroke="#dfeffa"/><path d="M1079.6 641.6L1082.5 644.3" stroke="#e0effa"/><path d="M1081.7 643.6L1084.7 646.3" stroke="#e0f0fa"/><path d="M1083.9 645.6L1086.9 648.3" stroke="#e1f0fa"/><path d="M1086.1 647.6L1089.2 650.2" stroke="#e1f0fa"/><path d="M1088.4 649.5L1091.4 652.1" stroke="#e2f1fa"/><path d="M1090.6 651.5L1093.7 654.0" stroke="#e2f1fa"/><path d="M1092.9 653.3L1096.0 655.9" stroke="#e3f1fb"/><path d="M1095.2 655.2L1098.3 657.7" stroke="#e3f2fb"/><path d="M1097.5 657.1L1100.7 659.5" stroke="#e4f2fb"/><path d="M1099.9 658.9L1103.0 661.3" stroke="#e5f2fb"/><path d="M1102.2 660.7L1105.5 663.0" stroke="#e5f2fb"/><path d="M1104.6 662.4L1107.9 664.7" stroke="#e6f3fb"/><path d="M1107.0 664.1L1110.3 666.4" stroke="#e6f3fb"/><path d="M1109.5 665.8L1112.8 668.0" stroke="#e7f3fb"/><path d="M1111.9 667.4L1115.3 669.6" stroke="#e7f4fb"/><path d="M1114.4 669.1L1117.8 671.2" stroke="#e8f4fc"/><path d="M1116.9 670.7L1120.3 672.9" stroke="#e9f4fc"/><path d="M1119.4 672.3L1122.7 674.5" stroke="#e9f5fc"/><path d="M1121.9 673.9L1125.0 676.0" stroke="#eaf5fc"/></g>
<g fill="none" stroke-width="15" stroke-linecap="butt"><path d="M1017.0 478.0L1017.4 481.1" stroke="#c2e2f5"/><path d="M1017.2 480.0L1017.7 483.9" stroke="#b8ddf3"/><path d="M1017.6 482.9L1018.0 486.7" stroke="#aed8f1"/><path d="M1017.9 485.7L1018.4 489.6" stroke="#a5d3ef"/><path d="M1018.2 488.5L1018.7 492.4" stroke="#9bceed"/><path d="M1018.6 491.4L1019.0 495.0" stroke="#91c9eb"/></g>
<g fill="none" stroke-width="15.5" stroke-linecap="butt"><path d="M1033.0 528.0L1033.9 531.1" stroke="#2b88c8"/><path d="M1033.6 530.1L1034.6 533.9" stroke="#2a87c7"/><path d="M1034.4 532.9L1035.4 536.7" stroke="#2986c6"/><path d="M1035.1 535.7L1036.2 539.6" stroke="#2886c6"/><path d="M1035.9 538.6L1037.0 542.4" stroke="#2885c5"/><path d="M1036.7 541.4L1037.8 545.2" stroke="#2785c5"/><path d="M1037.5 544.2L1038.5 548.1" stroke="#2684c4"/><path d="M1038.3 547.1L1039.3 550.9" stroke="#2583c3"/><path d="M1039.0 549.9L1040.1 553.7" stroke="#2583c3"/><path d="M1039.9 552.7L1041.0 556.5" stroke="#2482c2"/><path d="M1040.7 555.5L1041.8 559.3" stroke="#2382c2"/><path d="M1041.5 558.4L1042.7 562.2" stroke="#2281c1"/><path d="M1042.4 561.2L1043.6 565.0" stroke="#2180c0"/><path d="M1043.2 564.0L1044.5 567.8" stroke="#2180c0"/><path d="M1044.1 566.8L1045.4 570.5" stroke="#207fbf"/><path d="M1045.1 569.6L1046.3 573.3" stroke="#1f7ebe"/><path d="M1046.0 572.3L1047.3 576.1" stroke="#1e7ebe"/><path d="M1046.9 575.1L1048.2 578.9" stroke="#1e7dbd"/><path d="M1047.9 577.9L1049.2 581.7" stroke="#1d7dbd"/><path d="M1048.9 580.7L1050.1 584.4" stroke="#1c7cbc"/><path d="M1049.8 583.5L1051.0 587.0" stroke="#1b7bbb"/></g>
<g fill="none" stroke-width="15.5" stroke-linecap="butt"><path d="M1071.0 616.0L1072.7 618.6" stroke="#5eb5e6"/><path d="M1072.1 617.7L1074.2 620.9" stroke="#5eb5e6"/><path d="M1073.7 620.0L1075.7 623.3" stroke="#5fb5e6"/><path d="M1075.2 622.4L1077.3 625.6" stroke="#5fb5e6"/><path d="M1076.7 624.8L1078.8 628.0" stroke="#5fb5e6"/><path d="M1078.2 627.1L1080.4 630.3" stroke="#5fb5e6"/><path d="M1079.8 629.5L1082.0 632.6" stroke="#60b5e6"/><path d="M1081.4 631.8L1083.7 634.9" stroke="#60b6e6"/><path d="M1083.1 634.1L1085.4 637.2" stroke="#60b6e6"/><path d="M1084.8 636.3L1087.2 639.4" stroke="#61b6e6"/><path d="M1086.5 638.5L1088.9 641.5" stroke="#61b6e6"/><path d="M1088.3 640.7L1090.7 643.7" stroke="#61b6e6"/><path d="M1090.1 642.9L1092.6 645.8" stroke="#61b6e6"/><path d="M1091.9 645.0L1094.4 648.0" stroke="#62b6e6"/><path d="M1093.7 647.2L1096.0 650.0" stroke="#62b6e6"/></g>
<g fill="none" stroke-width="16.5" stroke-linecap="butt"><path d="M1120.0 668.0L1122.8 669.7" stroke="#2984c2"/><path d="M1121.9 669.1L1125.3 671.3" stroke="#2681c0"/><path d="M1124.4 670.7L1127.8 672.8" stroke="#237fbe"/><path d="M1127.0 672.3L1130.4 674.4" stroke="#207dbc"/><path d="M1129.5 673.9L1132.9 676.0" stroke="#1d7aba"/><path d="M1132.0 675.5L1135.5 677.5" stroke="#1a78b8"/><path d="M1134.6 677.0L1138.1 679.0" stroke="#1775b6"/><path d="M1137.2 678.5L1140.8 680.4" stroke="#1473b4"/><path d="M1139.8 679.9L1143.4 681.7" stroke="#1372b3"/><path d="M1142.5 681.3L1146.2 683.0" stroke="#1372b3"/><path d="M1145.2 682.6L1148.9 684.2" stroke="#1372b3"/><path d="M1148.0 683.8L1151.7 685.3" stroke="#1372b3"/><path d="M1150.7 684.9L1154.4 686.5" stroke="#1372b3"/><path d="M1153.5 686.1L1157.2 687.7" stroke="#1372b3"/><path d="M1156.2 687.3L1159.9 688.9" stroke="#1272b3"/><path d="M1158.9 688.5L1162.6 690.2" stroke="#1271b2"/><path d="M1161.7 689.8L1165.3 691.6" stroke="#1271b2"/><path d="M1164.3 691.1L1167.9 692.9" stroke="#1271b2"/><path d="M1167.0 692.4L1170.6 694.3" stroke="#1271b2"/><path d="M1169.7 693.8L1173.3 695.6" stroke="#1271b2"/><path d="M1172.4 695.2L1176.0 696.9" stroke="#1271b2"/><path d="M1175.0 696.5L1178.7 698.2" stroke="#1271b2"/><path d="M1177.7 697.8L1181.4 699.5" stroke="#1271b2"/><path d="M1180.4 699.1L1184.2 700.7" stroke="#1271b2"/><path d="M1183.2 700.3L1186.9 701.8" stroke="#1271b2"/><path d="M1186.0 701.4L1189.7 702.8" stroke="#1171b2"/><path d="M1188.8 702.5L1192.5 703.8" stroke="#1171b2"/><path d="M1191.6 703.5L1195.4 704.8" stroke="#1171b2"/><path d="M1194.4 704.5L1198.2 705.7" stroke="#1171b2"/><path d="M1197.2 705.4L1201.1 706.6" stroke="#1171b2"/><path d="M1200.1 706.3L1204.0 707.4" stroke="#1170b1"/><path d="M1203.0 707.2L1206.9 708.2" stroke="#1170b1"/><path d="M1205.9 708.0L1209.8 708.9" stroke="#1170b1"/><path d="M1208.8 708.7L1212.7 709.6" stroke="#1170b1"/><path d="M1211.7 709.4L1215.6 710.3" stroke="#1170b1"/><path d="M1214.6 710.1L1218.5 710.9" stroke="#1170b1"/><path d="M1217.5 710.7L1221.5 711.5" stroke="#1070b1"/><path d="M1220.4 711.3L1224.4 712.0" stroke="#1070b1"/><path d="M1223.4 711.8L1227.4 712.4" stroke="#1070b1"/><path d="M1226.4 712.2L1230.4 712.7" stroke="#1070b1"/><path d="M1229.3 712.6L1233.3 712.9" stroke="#1070b1"/><path d="M1232.3 712.8L1236.3 713.1" stroke="#1070b1"/><path d="M1235.3 713.0L1239.3 713.1" stroke="#1070b1"/><path d="M1238.3 713.1L1242.3 713.1" stroke="#1070b1"/><path d="M1241.3 713.1L1245.3 713.0" stroke="#1070b1"/><path d="M1244.3 713.1L1248.3 712.9" stroke="#106fb0"/><path d="M1247.3 713.0L1251.3 712.8" stroke="#106fb0"/><path d="M1250.3 712.9L1254.3 712.7" stroke="#0f6fb0"/><path d="M1253.2 712.7L1257.3 712.5" stroke="#0f6fb0"/><path d="M1256.2 712.6L1260.3 712.4" stroke="#0f6fb0"/><path d="M1259.2 712.4L1263.3 712.2" stroke="#0f6fb0"/><path d="M1262.2 712.3L1266.2 712.1" stroke="#0f6fb0"/><path d="M1265.2 712.1L1269.0 712.0" stroke="#0f6fb0"/></g>
<path d="M1272.9 29.7 L1286.6 36.3 L1271.4 69.6 L1255.4 63.1Z" fill="#c98f5f" stroke="#402e1e" stroke-width="1.4"/>
<path d="M1338.9 34.8 L1353.4 29.7 L1364.3 66.0 L1349.0 70.4Z" fill="#e08e0b" stroke="#482d04" stroke-width="1.4"/>
<path d="M1364.3 101.6 L1400.5 111.7 L1397.6 124.1 L1360.6 114.6Z" fill="#e08e0b" stroke="#482d04" stroke-width="1.4"/>
<path d="M1448.3 115.1 L1479.4 138.2 L1471.4 150.3 L1440.2 127.2Z" fill="#1372b3" stroke="#062439" stroke-width="1.4"/>
<path d="M1498.5 161.3 L1508.5 151.3 L1533.6 178.4 L1522.6 189.4Z" fill="#e08e0b" stroke="#482d04" stroke-width="1.4"/>
<path d="M1558.3 231.2 L1572.8 225.8 L1585.2 261.7 L1570.6 267.1Z" fill="#c978bd" stroke="#40263c" stroke-width="1.4"/>
<path d="M1604.3 323.7 L1616.3 315.1 L1639.1 343.8 L1627.0 352.6Z" fill="#e08e0b" stroke="#482d04" stroke-width="1.4"/>
<path d="M1663.2 370.6 L1700.6 381.3 L1698.0 396.0 L1660.5 385.3Z" fill="#ebe03a" stroke="#4b4813" stroke-width="1.4"/>
<path d="M1603.5 384.0 L1619.5 384.0 L1619.5 422.0 L1603.5 422.0Z" fill="#999999" stroke="#313131" stroke-width="1.4"/>
<path d="M1600.7 439.0 L1615.8 440.1 L1614.3 477.6 L1598.4 476.2Z" fill="#999999" stroke="#313131" stroke-width="1.4"/>
<path d="M1596.9 520.4 L1610.9 528.2 L1593.1 560.5 L1578.6 553.4Z" fill="#5ab3e6" stroke="#1d394a" stroke-width="1.4"/>
<path d="M1521.4 620.7 L1546.4 593.0 L1558.0 602.9 L1533.0 631.4Z" fill="#e08e0b" stroke="#482d04" stroke-width="1.4"/>
<path d="M1424.1 660.9 L1457.5 644.8 L1463.9 657.3 L1430.4 673.9Z" fill="#c978bd" stroke="#40263c" stroke-width="1.4"/>
<path d="M1422.3 691.3 L1456.3 674.3 L1462.5 686.8 L1428.6 702.9Z" fill="#1372b3" stroke="#062439" stroke-width="1.4"/>
<path d="M1310.3 763.9 L1326.7 762.4 L1328.1 800.5 L1312.6 801.9Z" fill="#e08e0b" stroke="#482d04" stroke-width="1.4"/>
<path d="M1244.7 754.7 L1259.5 752.3 L1265.3 790.3 L1249.8 792.9Z" fill="#c978bd" stroke="#40263c" stroke-width="1.4"/>
<path d="M1192.8 698.4 L1229.0 709.4 L1224.0 725.0 L1188.9 712.5Z" fill="#5ab3e6" stroke="#1d394a" stroke-width="1.4"/>
<path d="M1145.2 672.7 L1180.3 689.8 L1174.0 703.1 L1139.7 686.7Z" fill="#1372b3" stroke="#062439" stroke-width="1.4"/>
<path d="M1100.6 643.8 L1130.3 666.4 L1121.7 678.1 L1092.0 655.5Z" fill="#1372b3" stroke="#062439" stroke-width="1.4"/>
<path d="M1044.4 590.0 L1056.0 582.8 L1078.3 611.8 L1064.9 620.8Z" fill="#5ab3e6" stroke="#1d394a" stroke-width="1.4"/>
<path d="M1012.4 497.6 L1025.8 490.9 L1040.3 525.9 L1027.0 532.0Z" fill="#1372b3" stroke="#062439" stroke-width="1.4"/>
<path d="M990.1 452.9 L1005.7 451.2 L1008.6 489.5 L993.0 490.9Z" fill="#e08e0b" stroke="#482d04" stroke-width="1.4"/>
<path d="M993.2 332.3 L1009.1 332.3 L1009.1 370.4 L993.2 370.4Z" fill="#999999" stroke="#313131" stroke-width="1.4"/>
<path d="M1024.4 237.7 L1037.4 244.4 L1019.0 277.0 L1005.0 270.9Z" fill="#d45f00" stroke="#441e00" stroke-width="1.4"/>
<path d="M1068.1 184.9 L1079.7 194.7 L1054.6 223.0 L1043.0 213.2Z" fill="#e08e0b" stroke="#482d04" stroke-width="1.4"/>
<path d="M1132.9 133.6 L1168.9 121.0 L1173.9 136.1 L1137.9 149.0Z" fill="#f8aee3" stroke="#4f3849" stroke-width="1.4"/>
<path d="M1205.4 103.0 L1243.1 99.8 L1244.6 115.4 L1206.8 117.5Z" fill="#1372b3" stroke="#062439" stroke-width="1.4"/>
<path d="M904.5 359.8 L942.4 359.8 L942.4 376.3 L904.5 376.3Z" fill="#c98f5f" stroke="#402e1e" stroke-width="1.4"/>
<path d="M913.4 419.3 L950.2 430.5 L946.8 444.6 L910.0 433.4Z" fill="#999999" stroke="#313131" stroke-width="1.4"/></g>
<g clip-path="url(#cr)"><circle cx="1628.5" cy="370" r="73" fill="none" stroke="#fc0000" stroke-width="8.8" stroke-dasharray="9.2 9.15"/></g>
<path d="M1510.5 371.7L1553 371.7" stroke="#fc0000" stroke-width="5" stroke-dasharray="7 8" fill="none"/>
<circle cx="1246.7" cy="45.9" r="6.8" fill="#000"/>
<circle cx="1446.4" cy="150.8" r="6.8" fill="#000"/>
<path d="M945 414L1038 414" stroke="#000" stroke-width="3" fill="none"/>
<circle cx="945.3" cy="414.2" r="6.8" fill="#000"/>
<circle cx="1045.4" cy="505.8" r="6.8" fill="#000"/>
<circle cx="1434.3" cy="638.6" r="6.8" fill="#000"/>
<circle cx="1149.9" cy="705.9" r="6.8" fill="#000"/>
<circle cx="1460.9" cy="699" r="6.8" fill="#000"/>
<rect x="28.5" y="4.5" width="801" height="801" fill="none" stroke="#231815" stroke-width="3"/>
<rect x="899.5" y="4.5" width="802" height="801" fill="none" stroke="#231815" stroke-width="3"/>
<text x="111.5" y="126.5">Queueing</text>
<text x="145.0" y="236.5" letter-spacing="0.5">Yielding</text>
<text x="562.4" y="158.0">Negotiating</text>
<text x="37.9" y="289.0">Sprinting</text>
<text x="32.2" y="541.5">Queueing</text>
<text x="100.5" y="614.0" letter-spacing="0.5">Yielding</text>
<text x="627.1" y="662.0">Rushing</text>
<text x="269.6" y="879.3">(a) Intersection</text>
<text x="1036.0" y="57.5" letter-spacing="0.5">Yielding</text>
<text x="1245.9" y="210.1">Queueing</text>
<text x="1307.1" y="383.7">Merging</text>
<text x="1052.2" y="432.0">Creeping</text>
<text x="1068.2" y="513.0">Cutting in</text>
<text x="1224.4" y="613.5">Overtaking</text>
<text x="965.8" y="748.9">Queueing</text>
<text x="1439.2" y="748.8" letter-spacing="0.5">Yielding</text>
<text x="1135.1" y="880.3">(b) Roundabout</text>
</svg></body></html>
